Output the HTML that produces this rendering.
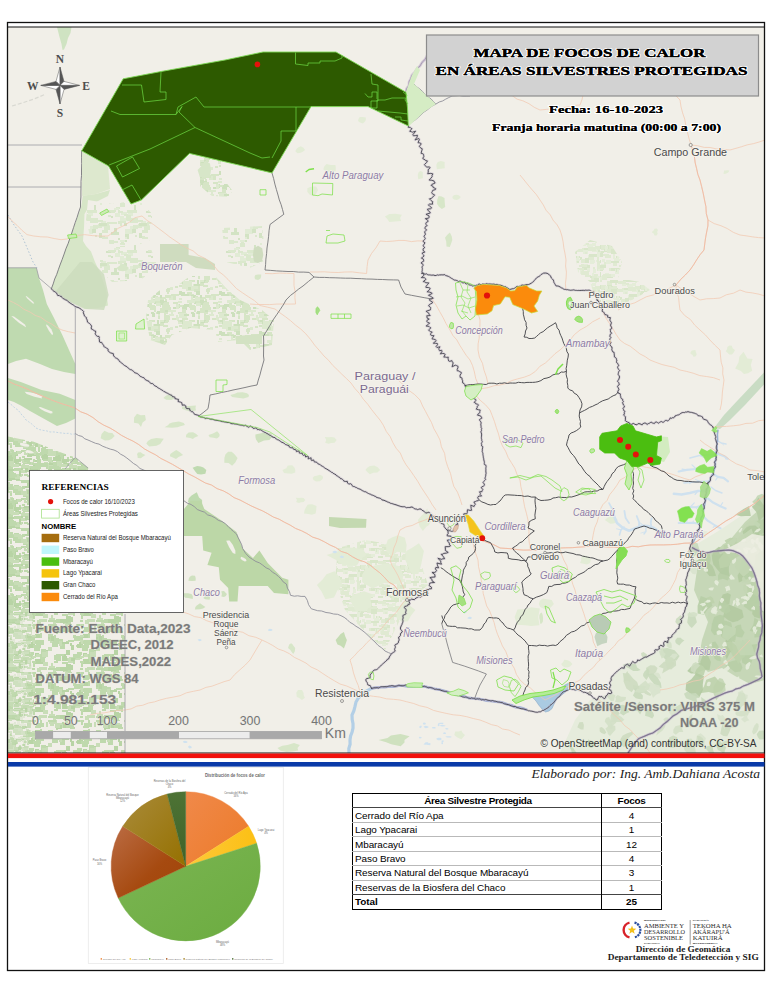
<!DOCTYPE html>
<html lang="es">
<head>
<meta charset="utf-8">
<title>Mapa de focos de calor en Áreas Silvestres Protegidas</title>
<style>
html,body{margin:0;padding:0;background:#fff;}
body{width:770px;height:996px;position:relative;overflow:hidden;font-family:"Liberation Sans",sans-serif;}
svg{position:absolute;left:0;top:0;display:block;}
svg text{font-family:"Liberation Sans",sans-serif;}
.ser{font-family:"Liberation Serif",serif !important;}
.halo{paint-order:stroke;stroke:#fff;stroke-width:2px;stroke-linejoin:round;}
#tbl{position:absolute;left:352px;top:793px;width:310px;border-collapse:collapse;font-size:9.95px;color:#000;border:1.6px solid #000;letter-spacing:-0.08px;}
#tbl td{height:13.45px;padding:0 0 0 2px;border-top:1px solid #b9b9b9;line-height:13px;white-space:nowrap;}
#tbl td.n{width:59px;text-align:center;padding:0;border-left:1px solid #000;}
#tbl tr.h td{font-weight:bold;text-align:center;border-top:none;letter-spacing:-0.3px;}
#tbl tr.f td{font-weight:bold;border-top:1px solid #444;}
#tbl tr.r1 td{border-top:1px solid #444;}
</style>
</head>
<body>
<svg id="map" width="770" height="996" viewBox="0 0 770 996">
<defs>
<clipPath id="mapclip"><rect x="8" y="27" width="756.5" height="726"/></clipPath>
</defs>
<!-- MAP BACKGROUND -->
<g clip-path="url(#mapclip)">
<rect x="7" y="26" width="758" height="728" fill="#f1efe8"/>
<!--LAND-->
<g>
<defs><pattern id="px1" width="48" height="48" patternUnits="userSpaceOnUse"><rect width="48" height="48" fill="#f1efe8"/><rect x="46" y="2" width="3" height="5" fill="#c8ddb7"/><rect x="46" y="26" width="2" height="4" fill="#b8d4a5"/><rect x="11" y="4" width="8" height="4" fill="#b8d4a5"/><rect x="25" y="36" width="2" height="4" fill="#bfd9ad"/><rect x="15" y="44" width="8" height="4" fill="#bfd9ad"/><rect x="18" y="-1" width="6" height="2" fill="#bfd9ad"/><rect x="-2" y="22" width="2" height="5" fill="#bfd9ad"/><rect x="31" y="12" width="5" height="2" fill="#b8d4a5"/><rect x="12" y="20" width="5" height="5" fill="#bfd9ad"/><rect x="46" y="27" width="8" height="2" fill="#c8ddb7"/><rect x="33" y="39" width="2" height="4" fill="#bfd9ad"/><rect x="5" y="45" width="3" height="3" fill="#c8ddb7"/><rect x="25" y="30" width="8" height="5" fill="#bfd9ad"/><rect x="35" y="29" width="4" height="3" fill="#b8d4a5"/><rect x="28" y="13" width="6" height="2" fill="#b8d4a5"/><rect x="21" y="33" width="5" height="2" fill="#c8ddb7"/><rect x="40" y="30" width="2" height="4" fill="#bfd9ad"/><rect x="23" y="21" width="3" height="5" fill="#b8d4a5"/><rect x="28" y="0" width="8" height="2" fill="#c8ddb7"/><rect x="35" y="35" width="8" height="5" fill="#b8d4a5"/><rect x="8" y="30" width="8" height="2" fill="#bfd9ad"/><rect x="32" y="33" width="2" height="2" fill="#bfd9ad"/><rect x="20" y="34" width="5" height="5" fill="#c8ddb7"/><rect x="40" y="33" width="5" height="3" fill="#bfd9ad"/><rect x="6" y="31" width="5" height="5" fill="#bfd9ad"/><rect x="28" y="21" width="5" height="2" fill="#bfd9ad"/><rect x="29" y="20" width="6" height="4" fill="#b8d4a5"/><rect x="32" y="32" width="4" height="2" fill="#c8ddb7"/><rect x="-1" y="12" width="5" height="5" fill="#bfd9ad"/><rect x="9" y="3" width="6" height="5" fill="#c8ddb7"/><rect x="3" y="-1" width="2" height="2" fill="#b8d4a5"/><rect x="13" y="15" width="2" height="3" fill="#bfd9ad"/><rect x="20" y="16" width="6" height="2" fill="#bfd9ad"/><rect x="14" y="31" width="3" height="2" fill="#bfd9ad"/><rect x="39" y="43" width="8" height="3" fill="#c8ddb7"/><rect x="29" y="28" width="5" height="3" fill="#bfd9ad"/><rect x="22" y="19" width="2" height="3" fill="#b8d4a5"/><rect x="4" y="14" width="3" height="3" fill="#bfd9ad"/><rect x="-1" y="12" width="6" height="4" fill="#bfd9ad"/><rect x="0" y="44" width="5" height="2" fill="#bfd9ad"/><rect x="41" y="25" width="5" height="5" fill="#bfd9ad"/><rect x="26" y="12" width="8" height="5" fill="#bfd9ad"/><rect x="18" y="40" width="5" height="5" fill="#b8d4a5"/><rect x="6" y="11" width="2" height="3" fill="#bfd9ad"/><rect x="2" y="17" width="4" height="2" fill="#c8ddb7"/><rect x="24" y="34" width="8" height="2" fill="#c8ddb7"/><rect x="33" y="0" width="3" height="2" fill="#bfd9ad"/><rect x="8" y="43" width="6" height="4" fill="#bfd9ad"/><rect x="20" y="4" width="5" height="2" fill="#bfd9ad"/><rect x="35" y="10" width="6" height="4" fill="#b8d4a5"/><rect x="16" y="30" width="2" height="4" fill="#b8d4a5"/><rect x="37" y="23" width="2" height="3" fill="#c8ddb7"/><rect x="10" y="18" width="2" height="2" fill="#bfd9ad"/><rect x="11" y="15" width="4" height="4" fill="#bfd9ad"/><rect x="20" y="41" width="5" height="5" fill="#b8d4a5"/><rect x="2" y="44" width="6" height="2" fill="#bfd9ad"/><rect x="8" y="8" width="2" height="2" fill="#bfd9ad"/><rect x="36" y="30" width="4" height="3" fill="#c8ddb7"/><rect x="19" y="5" width="4" height="3" fill="#c8ddb7"/><rect x="43" y="29" width="3" height="5" fill="#bfd9ad"/><rect x="4" y="18" width="6" height="5" fill="#bfd9ad"/><rect x="22" y="7" width="5" height="2" fill="#bfd9ad"/><rect x="37" y="35" width="4" height="2" fill="#b8d4a5"/><rect x="33" y="12" width="2" height="5" fill="#bfd9ad"/><rect x="16" y="34" width="4" height="3" fill="#bfd9ad"/><rect x="4" y="0" width="5" height="3" fill="#c8ddb7"/><rect x="40" y="-2" width="2" height="5" fill="#bfd9ad"/><rect x="0" y="10" width="5" height="2" fill="#bfd9ad"/><rect x="8" y="5" width="6" height="4" fill="#b8d4a5"/><rect x="8" y="45" width="3" height="2" fill="#bfd9ad"/><rect x="32" y="16" width="5" height="4" fill="#c8ddb7"/><rect x="18" y="4" width="8" height="4" fill="#bfd9ad"/><rect x="0" y="-1" width="8" height="3" fill="#bfd9ad"/><rect x="18" y="26" width="4" height="5" fill="#b8d4a5"/><rect x="2" y="2" width="4" height="4" fill="#c8ddb7"/><rect x="5" y="14" width="6" height="4" fill="#bfd9ad"/><rect x="42" y="28" width="6" height="5" fill="#c8ddb7"/><rect x="32" y="11" width="4" height="2" fill="#c8ddb7"/><rect x="21" y="3" width="3" height="2" fill="#c8ddb7"/><rect x="3" y="39" width="2" height="4" fill="#c8ddb7"/><rect x="17" y="0" width="3" height="4" fill="#c8ddb7"/><rect x="35" y="17" width="3" height="3" fill="#bfd9ad"/><rect x="32" y="37" width="4" height="2" fill="#bfd9ad"/><rect x="-1" y="13" width="3" height="2" fill="#b8d4a5"/><rect x="33" y="2" width="2" height="3" fill="#bfd9ad"/><rect x="16" y="46" width="2" height="2" fill="#c8ddb7"/><rect x="7" y="4" width="5" height="4" fill="#c8ddb7"/><rect x="40" y="9" width="2" height="5" fill="#bfd9ad"/><rect x="18" y="17" width="3" height="2" fill="#bfd9ad"/><rect x="36" y="16" width="8" height="5" fill="#bfd9ad"/><rect x="32" y="44" width="3" height="2" fill="#bfd9ad"/><rect x="41" y="33" width="4" height="5" fill="#bfd9ad"/><rect x="25" y="32" width="3" height="3" fill="#bfd9ad"/><rect x="14" y="2" width="2" height="2" fill="#b8d4a5"/><rect x="14" y="32" width="5" height="5" fill="#b8d4a5"/><rect x="-2" y="23" width="6" height="4" fill="#c8ddb7"/><rect x="29" y="-1" width="3" height="3" fill="#b8d4a5"/><rect x="1" y="42" width="6" height="2" fill="#c8ddb7"/><rect x="35" y="6" width="6" height="2" fill="#bfd9ad"/><rect x="23" y="34" width="4" height="3" fill="#b8d4a5"/><rect x="3" y="12" width="3" height="5" fill="#b8d4a5"/><rect x="31" y="18" width="2" height="2" fill="#b8d4a5"/><rect x="13" y="18" width="8" height="2" fill="#b8d4a5"/><rect x="12" y="43" width="8" height="4" fill="#b8d4a5"/><rect x="37" y="44" width="4" height="5" fill="#c8ddb7"/><rect x="1" y="2" width="8" height="2" fill="#c8ddb7"/><rect x="11" y="17" width="3" height="5" fill="#c8ddb7"/><rect x="33" y="21" width="8" height="3" fill="#bfd9ad"/><rect x="36" y="3" width="8" height="4" fill="#bfd9ad"/><rect x="34" y="22" width="6" height="5" fill="#bfd9ad"/><rect x="25" y="11" width="3" height="3" fill="#bfd9ad"/><rect x="43" y="38" width="5" height="4" fill="#c8ddb7"/><rect x="8" y="32" width="5" height="5" fill="#bfd9ad"/><rect x="14" y="38" width="6" height="2" fill="#bfd9ad"/><rect x="6" y="37" width="4" height="2" fill="#bfd9ad"/></pattern><pattern id="px2" width="48" height="48" patternUnits="userSpaceOnUse"><rect width="48" height="48" fill="#f1efe8"/><rect x="3" y="21" width="2" height="2" fill="#bfd9ad"/><rect x="14" y="36" width="8" height="3" fill="#bfd9ad"/><rect x="35" y="41" width="6" height="2" fill="#bfd9ad"/><rect x="44" y="30" width="5" height="4" fill="#c8ddb7"/><rect x="30" y="15" width="6" height="4" fill="#bfd9ad"/><rect x="27" y="18" width="2" height="3" fill="#b8d4a5"/><rect x="8" y="33" width="5" height="5" fill="#bfd9ad"/><rect x="-1" y="9" width="3" height="2" fill="#c8ddb7"/><rect x="30" y="30" width="3" height="2" fill="#c8ddb7"/><rect x="9" y="26" width="6" height="5" fill="#b8d4a5"/><rect x="46" y="21" width="8" height="5" fill="#c8ddb7"/><rect x="8" y="46" width="4" height="4" fill="#b8d4a5"/><rect x="39" y="31" width="8" height="4" fill="#bfd9ad"/><rect x="29" y="30" width="5" height="3" fill="#c8ddb7"/><rect x="27" y="20" width="8" height="4" fill="#b8d4a5"/><rect x="18" y="42" width="5" height="2" fill="#bfd9ad"/><rect x="28" y="17" width="6" height="3" fill="#c8ddb7"/><rect x="33" y="31" width="8" height="5" fill="#b8d4a5"/><rect x="29" y="30" width="4" height="2" fill="#c8ddb7"/><rect x="2" y="19" width="8" height="5" fill="#bfd9ad"/><rect x="1" y="34" width="3" height="2" fill="#bfd9ad"/><rect x="12" y="41" width="4" height="5" fill="#bfd9ad"/><rect x="15" y="13" width="6" height="2" fill="#bfd9ad"/><rect x="43" y="46" width="2" height="4" fill="#bfd9ad"/><rect x="21" y="9" width="2" height="3" fill="#bfd9ad"/><rect x="3" y="5" width="8" height="2" fill="#bfd9ad"/><rect x="44" y="-1" width="2" height="2" fill="#c8ddb7"/><rect x="8" y="45" width="4" height="2" fill="#bfd9ad"/><rect x="22" y="35" width="6" height="2" fill="#bfd9ad"/><rect x="0" y="-2" width="3" height="2" fill="#c8ddb7"/><rect x="16" y="19" width="6" height="2" fill="#b8d4a5"/><rect x="26" y="33" width="2" height="3" fill="#bfd9ad"/><rect x="37" y="43" width="4" height="4" fill="#bfd9ad"/><rect x="3" y="40" width="5" height="2" fill="#c8ddb7"/><rect x="26" y="6" width="2" height="2" fill="#b8d4a5"/><rect x="18" y="7" width="5" height="5" fill="#c8ddb7"/><rect x="36" y="24" width="4" height="3" fill="#bfd9ad"/><rect x="6" y="40" width="8" height="5" fill="#bfd9ad"/><rect x="6" y="8" width="4" height="2" fill="#bfd9ad"/><rect x="38" y="12" width="2" height="4" fill="#bfd9ad"/><rect x="43" y="26" width="3" height="2" fill="#bfd9ad"/><rect x="35" y="12" width="4" height="2" fill="#c8ddb7"/><rect x="15" y="31" width="4" height="4" fill="#bfd9ad"/><rect x="22" y="24" width="3" height="2" fill="#bfd9ad"/><rect x="44" y="3" width="2" height="5" fill="#bfd9ad"/><rect x="-1" y="9" width="2" height="2" fill="#bfd9ad"/><rect x="-1" y="31" width="2" height="2" fill="#b8d4a5"/><rect x="32" y="39" width="5" height="3" fill="#b8d4a5"/><rect x="44" y="25" width="3" height="2" fill="#b8d4a5"/><rect x="35" y="35" width="6" height="2" fill="#bfd9ad"/><rect x="35" y="9" width="5" height="5" fill="#bfd9ad"/><rect x="21" y="-1" width="8" height="4" fill="#bfd9ad"/><rect x="16" y="42" width="6" height="3" fill="#c8ddb7"/><rect x="41" y="24" width="4" height="2" fill="#bfd9ad"/><rect x="10" y="41" width="2" height="3" fill="#bfd9ad"/><rect x="24" y="38" width="5" height="2" fill="#b8d4a5"/><rect x="35" y="37" width="5" height="2" fill="#bfd9ad"/><rect x="-1" y="21" width="2" height="3" fill="#c8ddb7"/><rect x="12" y="46" width="8" height="2" fill="#b8d4a5"/><rect x="34" y="21" width="3" height="2" fill="#b8d4a5"/><rect x="6" y="46" width="8" height="4" fill="#c8ddb7"/><rect x="14" y="5" width="5" height="2" fill="#bfd9ad"/><rect x="19" y="39" width="2" height="5" fill="#b8d4a5"/><rect x="-1" y="37" width="3" height="2" fill="#b8d4a5"/><rect x="16" y="20" width="2" height="4" fill="#b8d4a5"/><rect x="15" y="28" width="3" height="3" fill="#b8d4a5"/><rect x="29" y="41" width="8" height="4" fill="#c8ddb7"/><rect x="8" y="29" width="5" height="2" fill="#c8ddb7"/><rect x="42" y="41" width="6" height="4" fill="#bfd9ad"/><rect x="4" y="2" width="6" height="5" fill="#c8ddb7"/><rect x="7" y="24" width="3" height="5" fill="#bfd9ad"/><rect x="6" y="16" width="2" height="2" fill="#b8d4a5"/><rect x="26" y="9" width="3" height="3" fill="#c8ddb7"/><rect x="32" y="46" width="2" height="2" fill="#b8d4a5"/><rect x="31" y="13" width="2" height="3" fill="#c8ddb7"/><rect x="27" y="43" width="3" height="2" fill="#bfd9ad"/><rect x="46" y="34" width="5" height="3" fill="#bfd9ad"/><rect x="44" y="-1" width="5" height="4" fill="#b8d4a5"/><rect x="23" y="30" width="8" height="2" fill="#bfd9ad"/><rect x="23" y="14" width="5" height="3" fill="#b8d4a5"/><rect x="21" y="33" width="8" height="4" fill="#c8ddb7"/><rect x="46" y="44" width="8" height="2" fill="#bfd9ad"/><rect x="10" y="23" width="6" height="5" fill="#b8d4a5"/><rect x="18" y="27" width="8" height="2" fill="#b8d4a5"/><rect x="4" y="-1" width="8" height="2" fill="#b8d4a5"/><rect x="36" y="22" width="3" height="5" fill="#bfd9ad"/><rect x="33" y="10" width="2" height="4" fill="#c8ddb7"/><rect x="35" y="10" width="8" height="5" fill="#b8d4a5"/><rect x="-2" y="37" width="6" height="2" fill="#b8d4a5"/><rect x="30" y="34" width="5" height="3" fill="#bfd9ad"/><rect x="46" y="2" width="5" height="2" fill="#c8ddb7"/><rect x="32" y="40" width="2" height="4" fill="#bfd9ad"/><rect x="41" y="19" width="6" height="4" fill="#b8d4a5"/><rect x="27" y="-1" width="4" height="5" fill="#bfd9ad"/><rect x="9" y="46" width="6" height="3" fill="#b8d4a5"/><rect x="1" y="8" width="4" height="2" fill="#b8d4a5"/><rect x="41" y="16" width="5" height="4" fill="#bfd9ad"/><rect x="33" y="27" width="2" height="3" fill="#bfd9ad"/><rect x="32" y="22" width="4" height="2" fill="#b8d4a5"/><rect x="29" y="39" width="3" height="3" fill="#bfd9ad"/><rect x="43" y="17" width="5" height="5" fill="#bfd9ad"/><rect x="17" y="19" width="4" height="3" fill="#c8ddb7"/><rect x="31" y="3" width="8" height="4" fill="#bfd9ad"/><rect x="31" y="7" width="5" height="5" fill="#bfd9ad"/><rect x="12" y="27" width="4" height="2" fill="#bfd9ad"/><rect x="1" y="5" width="6" height="3" fill="#bfd9ad"/><rect x="21" y="11" width="8" height="4" fill="#c8ddb7"/><rect x="19" y="27" width="4" height="2" fill="#c8ddb7"/><rect x="26" y="16" width="3" height="4" fill="#b8d4a5"/><rect x="38" y="11" width="3" height="4" fill="#c8ddb7"/><rect x="4" y="13" width="4" height="2" fill="#b8d4a5"/><rect x="9" y="20" width="3" height="3" fill="#bfd9ad"/><rect x="15" y="33" width="3" height="2" fill="#b8d4a5"/><rect x="15" y="44" width="5" height="3" fill="#c8ddb7"/><rect x="46" y="43" width="8" height="4" fill="#c8ddb7"/><rect x="38" y="40" width="6" height="5" fill="#bfd9ad"/><rect x="23" y="28" width="4" height="3" fill="#bfd9ad"/><rect x="26" y="28" width="4" height="3" fill="#bfd9ad"/><rect x="22" y="6" width="3" height="3" fill="#bfd9ad"/><rect x="8" y="20" width="2" height="3" fill="#bfd9ad"/><rect x="-2" y="32" width="8" height="4" fill="#c8ddb7"/><rect x="22" y="32" width="3" height="5" fill="#c8ddb7"/><rect x="21" y="18" width="5" height="2" fill="#bfd9ad"/><rect x="7" y="11" width="5" height="2" fill="#c8ddb7"/><rect x="24" y="21" width="4" height="2" fill="#c8ddb7"/><rect x="10" y="13" width="2" height="3" fill="#bfd9ad"/><rect x="0" y="19" width="8" height="5" fill="#c8ddb7"/><rect x="1" y="7" width="8" height="5" fill="#bfd9ad"/><rect x="26" y="15" width="2" height="4" fill="#bfd9ad"/><rect x="34" y="5" width="4" height="5" fill="#c8ddb7"/><rect x="23" y="12" width="8" height="5" fill="#bfd9ad"/><rect x="29" y="37" width="5" height="4" fill="#c8ddb7"/><rect x="36" y="3" width="6" height="5" fill="#b8d4a5"/><rect x="8" y="24" width="5" height="4" fill="#b8d4a5"/><rect x="0" y="4" width="6" height="4" fill="#b8d4a5"/><rect x="5" y="41" width="6" height="2" fill="#bfd9ad"/><rect x="17" y="27" width="2" height="4" fill="#bfd9ad"/><rect x="40" y="20" width="4" height="2" fill="#bfd9ad"/><rect x="7" y="25" width="3" height="2" fill="#bfd9ad"/><rect x="1" y="28" width="4" height="4" fill="#bfd9ad"/><rect x="6" y="33" width="2" height="4" fill="#bfd9ad"/><rect x="32" y="1" width="3" height="5" fill="#bfd9ad"/><rect x="-2" y="31" width="3" height="5" fill="#c8ddb7"/><rect x="13" y="6" width="8" height="5" fill="#c8ddb7"/><rect x="6" y="32" width="5" height="2" fill="#bfd9ad"/><rect x="27" y="11" width="3" height="2" fill="#bfd9ad"/><rect x="38" y="22" width="6" height="2" fill="#c8ddb7"/><rect x="43" y="31" width="6" height="4" fill="#bfd9ad"/><rect x="7" y="38" width="6" height="2" fill="#bfd9ad"/><rect x="10" y="17" width="3" height="4" fill="#c8ddb7"/><rect x="25" y="6" width="5" height="2" fill="#b8d4a5"/><rect x="4" y="33" width="4" height="3" fill="#bfd9ad"/><rect x="16" y="31" width="5" height="3" fill="#b8d4a5"/><rect x="24" y="42" width="4" height="2" fill="#bfd9ad"/><rect x="40" y="4" width="8" height="5" fill="#bfd9ad"/><rect x="46" y="10" width="6" height="5" fill="#bfd9ad"/><rect x="35" y="0" width="3" height="4" fill="#bfd9ad"/><rect x="45" y="14" width="8" height="2" fill="#b8d4a5"/><rect x="45" y="12" width="6" height="2" fill="#bfd9ad"/><rect x="0" y="42" width="6" height="3" fill="#bfd9ad"/><rect x="38" y="42" width="2" height="2" fill="#bfd9ad"/><rect x="38" y="16" width="2" height="4" fill="#bfd9ad"/><rect x="42" y="15" width="3" height="3" fill="#bfd9ad"/><rect x="40" y="44" width="5" height="4" fill="#bfd9ad"/><rect x="40" y="5" width="5" height="3" fill="#c8ddb7"/><rect x="24" y="19" width="2" height="2" fill="#c8ddb7"/><rect x="35" y="31" width="6" height="4" fill="#bfd9ad"/><rect x="42" y="8" width="5" height="2" fill="#b8d4a5"/><rect x="22" y="28" width="5" height="3" fill="#c8ddb7"/><rect x="35" y="28" width="6" height="2" fill="#b8d4a5"/><rect x="34" y="19" width="3" height="4" fill="#c8ddb7"/><rect x="21" y="36" width="2" height="2" fill="#b8d4a5"/><rect x="39" y="40" width="3" height="5" fill="#bfd9ad"/><rect x="11" y="32" width="8" height="3" fill="#c8ddb7"/><rect x="-1" y="10" width="2" height="2" fill="#c8ddb7"/><rect x="32" y="14" width="2" height="3" fill="#c8ddb7"/><rect x="24" y="28" width="5" height="2" fill="#bfd9ad"/><rect x="34" y="6" width="4" height="5" fill="#bfd9ad"/><rect x="36" y="22" width="3" height="2" fill="#bfd9ad"/><rect x="26" y="15" width="8" height="5" fill="#bfd9ad"/><rect x="13" y="7" width="5" height="4" fill="#c8ddb7"/><rect x="37" y="43" width="3" height="2" fill="#c8ddb7"/><rect x="42" y="23" width="6" height="5" fill="#b8d4a5"/><rect x="33" y="1" width="3" height="2" fill="#c8ddb7"/><rect x="6" y="37" width="8" height="2" fill="#b8d4a5"/><rect x="27" y="23" width="5" height="2" fill="#b8d4a5"/><rect x="16" y="11" width="5" height="4" fill="#bfd9ad"/><rect x="32" y="31" width="3" height="2" fill="#bfd9ad"/><rect x="41" y="-2" width="6" height="5" fill="#bfd9ad"/><rect x="23" y="12" width="5" height="4" fill="#c8ddb7"/><rect x="30" y="21" width="2" height="3" fill="#b8d4a5"/><rect x="43" y="27" width="6" height="2" fill="#bfd9ad"/><rect x="-1" y="28" width="4" height="2" fill="#bfd9ad"/><rect x="11" y="18" width="3" height="2" fill="#bfd9ad"/><rect x="37" y="7" width="6" height="2" fill="#c8ddb7"/><rect x="32" y="3" width="2" height="5" fill="#bfd9ad"/><rect x="0" y="17" width="5" height="2" fill="#c8ddb7"/><rect x="33" y="20" width="5" height="2" fill="#c8ddb7"/><rect x="36" y="21" width="8" height="2" fill="#bfd9ad"/><rect x="21" y="38" width="6" height="3" fill="#c8ddb7"/><rect x="30" y="36" width="5" height="3" fill="#bfd9ad"/><rect x="19" y="25" width="2" height="2" fill="#bfd9ad"/><rect x="43" y="1" width="4" height="5" fill="#bfd9ad"/><rect x="30" y="37" width="8" height="5" fill="#b8d4a5"/><rect x="13" y="9" width="5" height="4" fill="#bfd9ad"/><rect x="-1" y="35" width="6" height="2" fill="#c8ddb7"/><rect x="16" y="-1" width="8" height="2" fill="#bfd9ad"/><rect x="12" y="23" width="3" height="5" fill="#bfd9ad"/><rect x="36" y="2" width="4" height="2" fill="#bfd9ad"/><rect x="10" y="4" width="3" height="5" fill="#bfd9ad"/><rect x="3" y="30" width="8" height="4" fill="#c8ddb7"/><rect x="1" y="31" width="6" height="2" fill="#b8d4a5"/><rect x="7" y="25" width="5" height="2" fill="#bfd9ad"/><rect x="1" y="34" width="5" height="3" fill="#bfd9ad"/><rect x="25" y="36" width="6" height="4" fill="#b8d4a5"/><rect x="36" y="6" width="3" height="4" fill="#c8ddb7"/><rect x="14" y="43" width="3" height="2" fill="#bfd9ad"/><rect x="34" y="38" width="3" height="4" fill="#c8ddb7"/><rect x="27" y="10" width="5" height="4" fill="#b8d4a5"/><rect x="12" y="20" width="5" height="3" fill="#bfd9ad"/><rect x="-1" y="25" width="5" height="5" fill="#c8ddb7"/><rect x="28" y="34" width="2" height="5" fill="#c8ddb7"/><rect x="13" y="27" width="8" height="3" fill="#b8d4a5"/><rect x="37" y="27" width="4" height="5" fill="#bfd9ad"/><rect x="8" y="27" width="6" height="5" fill="#c8ddb7"/><rect x="5" y="30" width="4" height="4" fill="#bfd9ad"/><rect x="5" y="25" width="8" height="4" fill="#b8d4a5"/><rect x="27" y="3" width="6" height="5" fill="#b8d4a5"/><rect x="43" y="42" width="5" height="5" fill="#c8ddb7"/><rect x="8" y="7" width="6" height="3" fill="#bfd9ad"/><rect x="24" y="26" width="8" height="2" fill="#b8d4a5"/></pattern><pattern id="px3" width="40" height="40" patternUnits="userSpaceOnUse"><rect width="40" height="40" fill="#f1efe8"/><rect x="32" y="6" width="3" height="5" fill="#dde9cf"/><rect x="38" y="35" width="6" height="4" fill="#d6e5c6"/><rect x="28" y="14" width="6" height="2" fill="#d6e5c6"/><rect x="32" y="33" width="3" height="4" fill="#cde0bd"/><rect x="12" y="38" width="5" height="2" fill="#d6e5c6"/><rect x="-2" y="2" width="6" height="4" fill="#d6e5c6"/><rect x="17" y="-1" width="6" height="2" fill="#dde9cf"/><rect x="22" y="25" width="5" height="5" fill="#cde0bd"/><rect x="26" y="6" width="8" height="5" fill="#dde9cf"/><rect x="6" y="29" width="2" height="2" fill="#d6e5c6"/><rect x="38" y="17" width="4" height="4" fill="#cde0bd"/><rect x="34" y="20" width="6" height="4" fill="#cde0bd"/><rect x="19" y="-1" width="6" height="2" fill="#dde9cf"/><rect x="18" y="32" width="6" height="2" fill="#d6e5c6"/><rect x="38" y="34" width="8" height="2" fill="#dde9cf"/><rect x="2" y="28" width="4" height="2" fill="#cde0bd"/><rect x="2" y="24" width="2" height="3" fill="#d6e5c6"/><rect x="25" y="24" width="2" height="3" fill="#d6e5c6"/><rect x="37" y="0" width="2" height="5" fill="#cde0bd"/><rect x="19" y="33" width="8" height="5" fill="#dde9cf"/><rect x="0" y="17" width="6" height="2" fill="#d6e5c6"/><rect x="36" y="32" width="2" height="2" fill="#d6e5c6"/><rect x="16" y="37" width="3" height="4" fill="#dde9cf"/><rect x="19" y="18" width="3" height="2" fill="#dde9cf"/><rect x="22" y="27" width="3" height="4" fill="#cde0bd"/><rect x="33" y="4" width="8" height="5" fill="#dde9cf"/><rect x="17" y="25" width="5" height="2" fill="#dde9cf"/><rect x="33" y="19" width="6" height="3" fill="#d6e5c6"/><rect x="18" y="-1" width="5" height="5" fill="#cde0bd"/><rect x="38" y="6" width="6" height="5" fill="#d6e5c6"/><rect x="27" y="20" width="8" height="3" fill="#dde9cf"/><rect x="29" y="-1" width="6" height="3" fill="#d6e5c6"/><rect x="21" y="14" width="8" height="2" fill="#cde0bd"/><rect x="36" y="18" width="4" height="5" fill="#d6e5c6"/><rect x="18" y="21" width="4" height="2" fill="#dde9cf"/><rect x="4" y="-1" width="4" height="4" fill="#d6e5c6"/><rect x="12" y="15" width="4" height="5" fill="#d6e5c6"/><rect x="25" y="4" width="4" height="2" fill="#d6e5c6"/><rect x="19" y="12" width="6" height="3" fill="#cde0bd"/><rect x="19" y="11" width="3" height="2" fill="#cde0bd"/><rect x="5" y="0" width="4" height="2" fill="#d6e5c6"/><rect x="9" y="15" width="4" height="5" fill="#dde9cf"/><rect x="37" y="20" width="8" height="2" fill="#d6e5c6"/><rect x="31" y="15" width="5" height="3" fill="#cde0bd"/><rect x="16" y="24" width="4" height="4" fill="#cde0bd"/><rect x="7" y="10" width="2" height="4" fill="#d6e5c6"/><rect x="30" y="25" width="5" height="5" fill="#d6e5c6"/><rect x="31" y="16" width="2" height="4" fill="#dde9cf"/><rect x="35" y="16" width="3" height="2" fill="#d6e5c6"/><rect x="0" y="30" width="3" height="2" fill="#d6e5c6"/><rect x="1" y="-2" width="5" height="5" fill="#cde0bd"/><rect x="8" y="30" width="8" height="2" fill="#dde9cf"/><rect x="31" y="32" width="3" height="2" fill="#cde0bd"/><rect x="5" y="19" width="2" height="5" fill="#d6e5c6"/><rect x="28" y="1" width="4" height="5" fill="#dde9cf"/><rect x="5" y="32" width="3" height="2" fill="#d6e5c6"/><rect x="15" y="6" width="3" height="2" fill="#d6e5c6"/><rect x="23" y="1" width="5" height="5" fill="#dde9cf"/><rect x="37" y="31" width="3" height="3" fill="#cde0bd"/><rect x="18" y="-2" width="2" height="4" fill="#d6e5c6"/><rect x="5" y="1" width="3" height="2" fill="#d6e5c6"/><rect x="3" y="30" width="5" height="2" fill="#cde0bd"/><rect x="18" y="2" width="4" height="2" fill="#dde9cf"/><rect x="35" y="17" width="5" height="4" fill="#dde9cf"/><rect x="19" y="25" width="4" height="2" fill="#d6e5c6"/><rect x="-2" y="22" width="3" height="5" fill="#d6e5c6"/><rect x="0" y="21" width="6" height="2" fill="#cde0bd"/><rect x="22" y="38" width="6" height="5" fill="#d6e5c6"/><rect x="1" y="21" width="6" height="4" fill="#cde0bd"/><rect x="24" y="24" width="8" height="3" fill="#cde0bd"/><rect x="11" y="32" width="2" height="2" fill="#dde9cf"/><rect x="2" y="25" width="8" height="5" fill="#d6e5c6"/><rect x="-1" y="18" width="5" height="2" fill="#dde9cf"/><rect x="5" y="27" width="6" height="3" fill="#d6e5c6"/><rect x="22" y="4" width="8" height="5" fill="#dde9cf"/><rect x="4" y="35" width="6" height="5" fill="#d6e5c6"/><rect x="13" y="22" width="5" height="2" fill="#d6e5c6"/><rect x="34" y="4" width="6" height="2" fill="#cde0bd"/><rect x="19" y="5" width="3" height="2" fill="#d6e5c6"/><rect x="16" y="35" width="2" height="4" fill="#dde9cf"/><rect x="34" y="30" width="2" height="2" fill="#d6e5c6"/><rect x="4" y="33" width="2" height="5" fill="#d6e5c6"/><rect x="34" y="9" width="6" height="3" fill="#d6e5c6"/><rect x="13" y="27" width="3" height="2" fill="#cde0bd"/><rect x="36" y="23" width="4" height="3" fill="#dde9cf"/><rect x="3" y="22" width="6" height="4" fill="#d6e5c6"/><rect x="24" y="34" width="5" height="2" fill="#cde0bd"/><rect x="7" y="8" width="3" height="4" fill="#d6e5c6"/><rect x="31" y="26" width="5" height="4" fill="#d6e5c6"/><rect x="10" y="7" width="3" height="3" fill="#dde9cf"/><rect x="16" y="24" width="3" height="5" fill="#dde9cf"/><rect x="-1" y="15" width="3" height="3" fill="#cde0bd"/><rect x="9" y="34" width="5" height="2" fill="#dde9cf"/><rect x="28" y="7" width="3" height="3" fill="#cde0bd"/><rect x="36" y="11" width="8" height="4" fill="#cde0bd"/><rect x="-1" y="28" width="6" height="5" fill="#d6e5c6"/><rect x="27" y="12" width="5" height="2" fill="#d6e5c6"/><rect x="11" y="14" width="8" height="2" fill="#d6e5c6"/><rect x="6" y="9" width="3" height="3" fill="#d6e5c6"/><rect x="0" y="18" width="4" height="2" fill="#d6e5c6"/><rect x="3" y="5" width="5" height="2" fill="#d6e5c6"/><rect x="0" y="20" width="4" height="3" fill="#cde0bd"/><rect x="-2" y="-1" width="6" height="3" fill="#dde9cf"/><rect x="22" y="29" width="4" height="4" fill="#d6e5c6"/><rect x="29" y="23" width="3" height="5" fill="#d6e5c6"/><rect x="5" y="15" width="6" height="3" fill="#d6e5c6"/></pattern><pattern id="px4" width="40" height="40" patternUnits="userSpaceOnUse"><rect width="40" height="40" fill="#f1efe8"/><rect x="4" y="23" width="3" height="3" fill="#d3e3c4"/><rect x="2" y="-1" width="3" height="2" fill="#d3e3c4"/><rect x="1" y="12" width="6" height="3" fill="#e1ebd5"/><rect x="4" y="14" width="4" height="2" fill="#dbe8cd"/><rect x="15" y="10" width="2" height="3" fill="#dbe8cd"/><rect x="38" y="21" width="4" height="3" fill="#dbe8cd"/><rect x="22" y="30" width="6" height="3" fill="#dbe8cd"/><rect x="28" y="15" width="3" height="2" fill="#dbe8cd"/><rect x="-2" y="16" width="6" height="3" fill="#e1ebd5"/><rect x="24" y="25" width="6" height="2" fill="#e1ebd5"/><rect x="8" y="12" width="5" height="4" fill="#e1ebd5"/><rect x="3" y="0" width="4" height="2" fill="#d3e3c4"/><rect x="31" y="32" width="8" height="3" fill="#d3e3c4"/><rect x="7" y="10" width="8" height="3" fill="#dbe8cd"/><rect x="38" y="38" width="5" height="2" fill="#d3e3c4"/><rect x="20" y="25" width="4" height="2" fill="#e1ebd5"/><rect x="10" y="18" width="8" height="5" fill="#dbe8cd"/><rect x="15" y="35" width="2" height="2" fill="#dbe8cd"/><rect x="9" y="16" width="2" height="3" fill="#d3e3c4"/><rect x="20" y="3" width="2" height="2" fill="#e1ebd5"/><rect x="-1" y="18" width="8" height="3" fill="#e1ebd5"/><rect x="24" y="37" width="4" height="2" fill="#dbe8cd"/><rect x="10" y="26" width="4" height="5" fill="#e1ebd5"/><rect x="22" y="36" width="3" height="3" fill="#dbe8cd"/><rect x="-2" y="21" width="4" height="5" fill="#dbe8cd"/><rect x="21" y="21" width="5" height="2" fill="#e1ebd5"/><rect x="26" y="11" width="6" height="2" fill="#d3e3c4"/><rect x="1" y="1" width="3" height="2" fill="#dbe8cd"/><rect x="36" y="7" width="8" height="2" fill="#dbe8cd"/><rect x="35" y="13" width="6" height="4" fill="#e1ebd5"/><rect x="31" y="16" width="2" height="2" fill="#d3e3c4"/><rect x="28" y="10" width="8" height="2" fill="#dbe8cd"/><rect x="29" y="0" width="5" height="4" fill="#dbe8cd"/><rect x="13" y="25" width="5" height="4" fill="#dbe8cd"/><rect x="0" y="0" width="5" height="2" fill="#e1ebd5"/><rect x="31" y="11" width="4" height="2" fill="#dbe8cd"/><rect x="7" y="18" width="5" height="3" fill="#dbe8cd"/><rect x="5" y="34" width="4" height="5" fill="#d3e3c4"/><rect x="29" y="22" width="8" height="2" fill="#dbe8cd"/><rect x="34" y="8" width="5" height="2" fill="#e1ebd5"/><rect x="18" y="24" width="4" height="4" fill="#dbe8cd"/><rect x="19" y="23" width="8" height="3" fill="#d3e3c4"/><rect x="38" y="10" width="2" height="3" fill="#dbe8cd"/><rect x="6" y="15" width="5" height="5" fill="#dbe8cd"/><rect x="34" y="28" width="3" height="4" fill="#d3e3c4"/><rect x="-2" y="11" width="5" height="2" fill="#dbe8cd"/><rect x="14" y="5" width="2" height="5" fill="#d3e3c4"/><rect x="33" y="1" width="5" height="2" fill="#dbe8cd"/><rect x="19" y="33" width="3" height="5" fill="#d3e3c4"/><rect x="-1" y="3" width="6" height="4" fill="#dbe8cd"/><rect x="5" y="29" width="8" height="5" fill="#e1ebd5"/><rect x="0" y="21" width="6" height="2" fill="#dbe8cd"/><rect x="17" y="20" width="6" height="2" fill="#dbe8cd"/><rect x="27" y="22" width="2" height="5" fill="#dbe8cd"/><rect x="12" y="29" width="4" height="4" fill="#d3e3c4"/><rect x="5" y="37" width="2" height="2" fill="#e1ebd5"/><rect x="24" y="26" width="6" height="4" fill="#dbe8cd"/></pattern><pattern id="px5" width="40" height="40" patternUnits="userSpaceOnUse"><rect width="40" height="40" fill="#f1efe8"/><rect x="20" y="31" width="6" height="3" fill="#e0ead2"/><rect x="1" y="8" width="5" height="2" fill="#e0ead2"/><rect x="13" y="22" width="4" height="4" fill="#e0ead2"/><rect x="-2" y="11" width="6" height="2" fill="#d9e6ca"/><rect x="22" y="8" width="4" height="2" fill="#e0ead2"/><rect x="37" y="26" width="3" height="5" fill="#e0ead2"/><rect x="-2" y="11" width="3" height="2" fill="#e0ead2"/><rect x="16" y="18" width="3" height="2" fill="#e0ead2"/><rect x="9" y="10" width="6" height="2" fill="#d9e6ca"/><rect x="21" y="24" width="4" height="2" fill="#e0ead2"/><rect x="2" y="19" width="3" height="3" fill="#e5edd9"/><rect x="-2" y="36" width="6" height="5" fill="#e5edd9"/><rect x="20" y="17" width="2" height="3" fill="#d9e6ca"/><rect x="9" y="28" width="8" height="3" fill="#d9e6ca"/><rect x="1" y="14" width="8" height="2" fill="#e0ead2"/><rect x="23" y="-1" width="8" height="3" fill="#d9e6ca"/><rect x="35" y="-2" width="4" height="4" fill="#d9e6ca"/><rect x="37" y="10" width="2" height="2" fill="#e0ead2"/><rect x="20" y="30" width="3" height="4" fill="#e5edd9"/><rect x="27" y="4" width="6" height="3" fill="#e5edd9"/><rect x="25" y="3" width="4" height="2" fill="#e0ead2"/><rect x="37" y="21" width="4" height="5" fill="#e0ead2"/><rect x="32" y="3" width="4" height="3" fill="#e5edd9"/><rect x="17" y="9" width="8" height="3" fill="#e0ead2"/><rect x="17" y="28" width="8" height="2" fill="#e0ead2"/><rect x="3" y="36" width="8" height="2" fill="#d9e6ca"/><rect x="36" y="20" width="2" height="2" fill="#e5edd9"/><rect x="7" y="1" width="5" height="4" fill="#e0ead2"/><rect x="11" y="6" width="5" height="3" fill="#e0ead2"/><rect x="4" y="8" width="8" height="4" fill="#d9e6ca"/><rect x="1" y="24" width="4" height="2" fill="#e5edd9"/><rect x="37" y="8" width="3" height="4" fill="#d9e6ca"/><rect x="28" y="15" width="5" height="3" fill="#e5edd9"/><rect x="7" y="5" width="5" height="4" fill="#d9e6ca"/><rect x="38" y="29" width="6" height="2" fill="#e5edd9"/><rect x="29" y="15" width="3" height="2" fill="#e5edd9"/><rect x="35" y="0" width="2" height="3" fill="#e5edd9"/><rect x="15" y="29" width="4" height="5" fill="#e5edd9"/><rect x="19" y="9" width="8" height="3" fill="#e0ead2"/><rect x="14" y="18" width="5" height="5" fill="#e5edd9"/><rect x="30" y="20" width="5" height="3" fill="#e5edd9"/><rect x="24" y="20" width="4" height="3" fill="#e0ead2"/><rect x="21" y="19" width="8" height="4" fill="#e0ead2"/><rect x="10" y="21" width="6" height="2" fill="#d9e6ca"/><rect x="24" y="8" width="4" height="2" fill="#d9e6ca"/><rect x="33" y="38" width="4" height="5" fill="#e5edd9"/><rect x="10" y="8" width="8" height="2" fill="#d9e6ca"/><rect x="12" y="9" width="6" height="2" fill="#e0ead2"/><rect x="8" y="1" width="5" height="2" fill="#e0ead2"/><rect x="9" y="28" width="2" height="3" fill="#e0ead2"/><rect x="24" y="27" width="6" height="2" fill="#e5edd9"/><rect x="2" y="35" width="5" height="5" fill="#e0ead2"/><rect x="-2" y="20" width="3" height="3" fill="#d9e6ca"/><rect x="5" y="33" width="4" height="4" fill="#e5edd9"/><rect x="37" y="17" width="2" height="5" fill="#e0ead2"/><rect x="30" y="19" width="4" height="5" fill="#e5edd9"/><rect x="24" y="24" width="4" height="2" fill="#e5edd9"/><rect x="8" y="36" width="5" height="2" fill="#d9e6ca"/><rect x="10" y="6" width="6" height="4" fill="#e0ead2"/><rect x="22" y="4" width="4" height="2" fill="#e5edd9"/><rect x="32" y="7" width="6" height="5" fill="#e5edd9"/><rect x="22" y="25" width="8" height="5" fill="#d9e6ca"/><rect x="16" y="28" width="3" height="4" fill="#d9e6ca"/><rect x="36" y="36" width="5" height="2" fill="#e5edd9"/><rect x="29" y="14" width="8" height="3" fill="#d9e6ca"/><rect x="17" y="29" width="2" height="3" fill="#e5edd9"/><rect x="-1" y="5" width="3" height="4" fill="#d9e6ca"/><rect x="0" y="6" width="3" height="3" fill="#d9e6ca"/><rect x="32" y="33" width="2" height="4" fill="#e5edd9"/><rect x="0" y="13" width="3" height="4" fill="#d9e6ca"/><rect x="16" y="16" width="4" height="2" fill="#d9e6ca"/><rect x="31" y="36" width="6" height="4" fill="#e0ead2"/><rect x="17" y="16" width="2" height="2" fill="#e5edd9"/><rect x="31" y="-1" width="6" height="3" fill="#d9e6ca"/><rect x="35" y="6" width="4" height="3" fill="#e0ead2"/><rect x="33" y="27" width="2" height="3" fill="#e0ead2"/><rect x="10" y="-2" width="8" height="5" fill="#d9e6ca"/><rect x="34" y="38" width="5" height="5" fill="#d9e6ca"/><rect x="23" y="10" width="5" height="4" fill="#e5edd9"/><rect x="17" y="-2" width="5" height="2" fill="#d9e6ca"/><rect x="28" y="17" width="6" height="3" fill="#e0ead2"/><rect x="33" y="29" width="3" height="4" fill="#e5edd9"/><rect x="25" y="35" width="6" height="2" fill="#e0ead2"/><rect x="15" y="3" width="2" height="2" fill="#e0ead2"/><rect x="19" y="25" width="8" height="2" fill="#e0ead2"/><rect x="1" y="5" width="5" height="4" fill="#e0ead2"/><rect x="5" y="6" width="3" height="5" fill="#e5edd9"/><rect x="7" y="9" width="8" height="4" fill="#e0ead2"/><rect x="2" y="37" width="5" height="2" fill="#e0ead2"/><rect x="4" y="22" width="2" height="5" fill="#e0ead2"/><rect x="34" y="34" width="4" height="2" fill="#e0ead2"/><rect x="37" y="6" width="8" height="4" fill="#e0ead2"/><rect x="18" y="36" width="5" height="2" fill="#d9e6ca"/><rect x="21" y="1" width="5" height="3" fill="#e0ead2"/><rect x="7" y="34" width="8" height="3" fill="#e5edd9"/><rect x="37" y="12" width="6" height="5" fill="#e5edd9"/><rect x="13" y="14" width="2" height="5" fill="#e5edd9"/><rect x="13" y="21" width="6" height="2" fill="#d9e6ca"/><rect x="9" y="6" width="8" height="4" fill="#e0ead2"/><rect x="3" y="34" width="8" height="3" fill="#e0ead2"/><rect x="30" y="36" width="2" height="2" fill="#d9e6ca"/><rect x="27" y="28" width="3" height="4" fill="#e5edd9"/><rect x="-1" y="32" width="2" height="5" fill="#d9e6ca"/><rect x="25" y="12" width="2" height="2" fill="#e0ead2"/><rect x="11" y="6" width="2" height="4" fill="#d9e6ca"/><rect x="16" y="19" width="4" height="2" fill="#e5edd9"/><rect x="6" y="20" width="5" height="4" fill="#e5edd9"/><rect x="21" y="31" width="8" height="4" fill="#e0ead2"/><rect x="11" y="9" width="6" height="5" fill="#d9e6ca"/><rect x="0" y="0" width="2" height="2" fill="#e0ead2"/><rect x="0" y="29" width="3" height="2" fill="#d9e6ca"/><rect x="-2" y="25" width="8" height="3" fill="#d9e6ca"/><rect x="25" y="18" width="4" height="5" fill="#d9e6ca"/><rect x="10" y="7" width="5" height="2" fill="#e0ead2"/><rect x="22" y="28" width="2" height="3" fill="#e0ead2"/><rect x="5" y="15" width="6" height="3" fill="#e0ead2"/><rect x="0" y="28" width="4" height="2" fill="#e0ead2"/><rect x="18" y="1" width="4" height="3" fill="#e0ead2"/><rect x="28" y="7" width="8" height="4" fill="#e0ead2"/></pattern></defs>
<path d="M57.0,27.0 L71.5,27.0 L70.5,33.0 L68.0,38.0 L66.5,44.0 L64.0,49.5 L62.5,50.0 L61.5,44.0 L59.5,37.0 L58.0,31.0 Z" fill="#cfe3c2"/>
<path d="M12,106 L22,103 L34,99 L46,94" fill="none" stroke="#d9d9d2" stroke-width="1.2" stroke-dasharray="4 2"/>
<path d="M8.0,267.8 L36.4,267.8 L39.0,278.0 L43.0,290.0 L46.8,304.0 L54.0,318.0 L62.3,335.0 L69.0,350.0 L75.3,364.0 L75.3,374.0 L64.0,372.0 L52.0,369.0 L40.0,364.0 L26.0,358.7 L16.0,361.0 L8.0,364.0 Z" fill="#bfdab0"/>
<path d="M8.0,378.0 L20.8,382.0 L41.6,390.0 L59.7,393.8 L75.3,400.0 L75.3,418.4 L66.0,423.0 L57.0,426.0 L48.0,421.0 L39.0,416.0 L30.0,411.0 L20.8,405.5 L14.0,402.0 L8.0,400.0 Z" fill="#bfdab0"/>
<path d="M8.0,436.6 L20.0,439.0 L33.8,441.8 L47.0,447.0 L59.7,452.0 L75.3,457.4 L88.3,467.8 L88.0,471.0 L29.0,471.0 L29.0,613.0 L8.0,613.0 Z" fill="url(#px2)"/>
<path d="M8.0,613.0 L125.0,613.0 L125.0,753.0 L8.0,753.0 Z" fill="url(#px1)"/>
<path d="M8.0,613.0 L34.0,613.0 L30.0,650.0 L34.0,700.0 L28.0,753.0 L8.0,753.0 Z" fill="url(#px2)" opacity="0.7"/>
<path d="M25.7,325.9 L25.9,327.3 L19.2,323.1 L15.1,319.5 L11.3,316.1 L14.0,316.6 L20.6,321.2 L24.5,324.2 Z" fill="#f1efe8"/>
<path d="M52.9,334.5 L52.1,335.1 L48.9,330.7 L46.2,325.8 L46.4,324.3 L48.2,325.8 L51.3,329.2 L53.0,333.2 Z" fill="#f1efe8"/>
<path d="M34.2,303.5 L32.9,303.5 L29.5,300.5 L27.1,298.3 L25.6,296.3 L26.8,296.2 L30.5,299.4 L33.4,302.0 Z" fill="#f1efe8"/>
<path d="M41.7,397.1 L41.9,398.5 L34.4,396.8 L26.7,393.9 L24.6,391.8 L29.7,392.3 L35.4,393.6 L43.0,396.1 Z" fill="#f1efe8"/>
<path d="M52.5,413.2 L50.4,413.6 L44.5,411.2 L40.6,409.0 L38.6,407.3 L40.5,407.0 L45.5,408.9 L52.3,411.6 Z" fill="#f1efe8"/>
<path d="M29.3,445.9 L28.7,446.8 L24.7,446.4 L20.4,445.2 L19.9,444.0 L20.4,442.8 L25.3,443.5 L29.1,444.8 Z" fill="#f1efe8"/>
<path d="M33.6,453.1 L32.2,453.5 L29.5,453.5 L25.3,452.0 L25.9,450.7 L27.2,450.1 L30.5,450.4 L33.5,452.0 Z" fill="#f1efe8"/>
<path d="M114.7,436.0 L111.9,438.7 L108.9,440.3 L104.9,440.5 L100.6,438.2 L101.6,434.0 L104.4,430.8 L108.7,432.7 L112.3,433.0 Z" fill="#d7e6c8"/>
<path d="M145.9,420.0 L142.6,422.6 L141.0,426.9 L138.4,423.4 L133.9,422.7 L134.1,417.4 L137.0,413.8 L140.7,415.2 L145.0,415.0 Z" fill="#d7e6c8"/>
<path d="M161.5,442.0 L160.2,444.0 L156.5,445.7 L149.2,446.5 L146.3,443.4 L147.9,440.9 L151.2,439.1 L156.5,438.1 L163.8,438.7 Z" fill="#d7e6c8"/>
<path d="M183.1,455.0 L178.5,456.9 L176.0,459.0 L172.9,457.4 L169.9,456.2 L170.3,453.9 L172.7,452.3 L176.3,449.9 L179.9,452.2 Z" fill="#d7e6c8"/>
<path d="M198.3,436.0 L194.7,437.4 L192.9,439.1 L190.2,437.9 L185.9,437.3 L186.2,434.7 L188.6,432.5 L193.1,432.3 L196.2,433.9 Z" fill="#d7e6c8"/>
<path d="M145.4,455.0 L142.8,456.7 L140.8,458.2 L137.7,458.0 L137.5,455.7 L137.0,454.2 L138.0,452.4 L140.7,452.2 L142.3,453.6 Z" fill="#d7e6c8"/>
<path d="M174.5,397.0 L174.5,398.6 L171.3,400.1 L166.3,399.7 L163.4,398.0 L165.2,396.3 L167.2,395.0 L171.3,394.0 L173.1,395.9 Z" fill="#d7e6c8"/>
<path d="M195.5,408.0 L196.0,410.5 L189.7,411.5 L184.9,410.0 L182.0,408.8 L181.9,407.2 L184.8,405.9 L188.9,406.0 L195.9,405.5 Z" fill="#d7e6c8"/>
<path d="M206.3,470.0 L205.4,473.7 L201.0,474.6 L197.3,474.0 L195.3,471.4 L192.6,467.8 L197.1,465.9 L200.7,466.6 L203.4,467.6 Z" fill="#bfdab0"/>
<path d="M202.1,500.0 L202.1,504.5 L196.4,506.1 L191.4,504.7 L187.9,501.9 L188.8,498.3 L191.5,495.5 L196.8,492.3 L199.0,497.5 Z" fill="#bfdab0"/>
<path d="M184.0,509.0 L190.8,500.8 L201.0,500.8 L204.3,509.0 L220.0,519.5 L236.5,532.0 L242.7,548.6 L253.0,558.0 L259.4,550.6 L267.7,563.0 L282.2,577.7 L288.4,579.7 L288.4,594.3 L274.0,593.0 L267.7,586.0 L238.6,586.0 L237.5,601.6 L229.2,601.6 L228.2,588.0 L220.0,579.7 L218.8,567.3 L207.4,565.0 L211.6,552.7 L203.2,550.6 L202.2,536.0 L184.0,536.0 Z" fill="#bcd7a7"/>
<path d="M232.9,545.0 L235.4,550.8 L235.4,554.1 L232.8,552.9 L229.0,547.1 L226.2,540.8 L228.1,540.6 L229.6,540.5 Z" fill="#f1efe8"/>
<path d="M246.5,560.9 L244.9,561.5 L242.3,560.3 L240.6,558.8 L240.7,557.7 L241.2,556.7 L243.7,557.7 L246.0,559.3 Z" fill="#f1efe8"/>
<path d="M195.7,578.0 L195.6,580.7 L192.0,580.9 L188.4,580.7 L189.0,578.0 L190.1,576.6 L192.0,575.4 L195.0,575.7 Z" fill="#cfe1bf"/>
<path d="M192.8,596.0 L192.8,598.9 L188.0,598.0 L185.1,597.7 L183.7,596.0 L183.3,593.2 L188.0,593.3 L191.5,593.9 Z" fill="#cfe1bf"/>
<path d="M205.4,607.0 L203.1,608.5 L200.0,609.3 L194.9,609.6 L195.4,607.0 L196.8,605.4 L200.0,603.2 L203.2,605.4 Z" fill="#cfe1bf"/>
<path d="M210.0,598.0 L209.6,599.8 L207.0,599.4 L205.2,599.2 L203.2,598.0 L204.9,596.6 L207.0,595.7 L209.7,596.2 Z" fill="#cfe1bf"/>
<path d="M226.9,594.0 L225.9,595.9 L224.0,597.1 L221.4,596.6 L221.9,594.0 L221.3,591.3 L224.0,591.1 L225.4,592.6 Z" fill="#cfe1bf"/>
<path d="M82.8,195.7 L81.0,207.6 L70.0,238.0 L60.0,265.0 L51.4,288.6 L66.0,300.0 L84.5,309.0 L98.0,308.0 L108.0,305.5 L106.0,290.0 L101.0,275.0 L95.0,262.0 L91.0,251.5 L86.0,246.0 L83.0,241.0 L84.0,228.0 L84.5,214.0 L90.0,205.0 L100.0,200.0 L108.0,196.0 L110.0,190.0 L96.0,194.0 Z" fill="#d7e6c8"/>
<path d="M148.0,300.0 L160.0,290.0 L178.0,285.0 L190.0,276.0 L215.0,276.0 L228.0,290.0 L240.0,300.0 L262.0,310.0 L274.0,320.0 L272.0,345.0 L250.0,350.0 L240.0,340.0 L218.0,342.0 L215.0,330.0 L190.0,328.0 L172.0,335.0 L165.0,345.0 L150.0,340.0 L146.0,318.0 Z" fill="url(#px3)"/>
<path d="M160.0,244.0 L188.6,244.0 L188.6,255.0 L205.0,258.0 L215.0,264.0 L215.0,270.0 L196.0,268.0 L186.0,262.0 L160.0,262.0 Z" fill="#cfdcbf"/>
<path d="M200.0,158.0 L221.0,158.0 L221.0,176.0 L232.0,190.0 L230.0,197.0 L212.0,196.0 L200.0,186.0 Z" fill="url(#px3)"/>
<path d="M88.0,200.0 L112.0,204.0 L140.0,200.0 L152.0,214.0 L150.0,240.0 L136.0,246.0 L110.0,244.0 L90.0,236.0 L86.0,220.0 Z" fill="url(#px4)"/>
<path d="M100.0,246.0 L150.0,246.0 L158.0,268.0 L140.0,280.0 L112.0,282.0 L100.0,270.0 Z" fill="url(#px4)"/>
<path d="M80.0,262.0 L92.0,262.0 L104.0,274.0 L108.6,295.0 L104.0,310.0 L86.0,309.0 L66.0,300.0 L56.0,291.0 Z" fill="#cddcbd" opacity="0.85"/>
<path d="M222.0,228.0 L262.0,226.0 L266.0,260.0 L250.0,268.0 L226.0,262.0 Z" fill="url(#px4)"/>
<path d="M236.0,336.0 L262.0,334.0 L262.0,344.0 L236.0,344.0 Z" fill="#d3e2c3"/>
<path d="M263.3,255.0 L261.9,261.2 L258.0,263.1 L254.0,261.4 L252.9,255.0 L253.8,248.3 L258.0,245.8 L262.2,248.3 Z" fill="#cfdcbf"/>
<path d="M261.1,277.0 L260.3,278.7 L258.0,280.0 L255.0,279.3 L254.5,277.0 L255.3,274.9 L258.0,274.6 L261.2,274.6 Z" fill="#d7e6c8"/>
<path d="M211.0,170.0 L210.1,176.8 L205.0,177.6 L199.8,176.9 L197.6,170.0 L201.8,165.7 L205.0,160.7 L210.0,163.4 Z" fill="#d7e6c8"/>
<path d="M129.0,268.0 L126.7,270.5 L123.0,271.3 L118.9,270.8 L116.5,268.0 L119.5,265.7 L123.0,263.6 L126.3,265.8 Z" fill="#d7e6c8"/>
<path d="M335.8,168.0 L335.7,171.2 L331.0,171.8 L327.0,171.5 L323.3,169.6 L324.2,166.6 L326.6,164.1 L330.8,165.0 L335.5,164.9 Z" fill="#e3ecd6"/>
<path d="M318.1,190.0 L316.2,193.5 L313.1,196.2 L309.4,194.5 L307.3,191.7 L307.4,188.3 L310.2,186.9 L312.6,186.5 L316.1,186.6 Z" fill="#e3ecd6"/>
<path d="M400.1,218.0 L401.1,221.0 L395.2,221.4 L389.2,222.1 L387.5,219.2 L384.9,216.4 L389.5,214.1 L395.5,213.7 L401.9,214.7 Z" fill="#e3ecd6"/>
<path d="M444.7,202.0 L445.2,206.9 L441.9,209.0 L439.0,206.8 L437.1,204.0 L437.2,200.1 L438.6,196.1 L441.7,196.5 L444.5,197.9 Z" fill="#d7e6c8"/>
<path d="M452.3,240.0 L451.3,242.9 L449.8,246.9 L446.5,246.4 L446.2,241.5 L445.0,237.8 L447.1,235.0 L449.9,232.4 L451.8,236.5 Z" fill="#d7e6c8"/>
<path d="M460.8,197.0 L459.1,198.9 L456.7,199.9 L454.0,199.6 L452.4,198.0 L452.7,196.1 L454.5,195.0 L456.5,194.8 L458.7,195.3 Z" fill="#e3ecd6"/>
<path d="M305.1,150.0 L302.8,151.7 L300.7,152.8 L297.5,153.3 L295.3,151.3 L296.5,149.0 L298.1,147.5 L300.9,146.3 L303.4,147.8 Z" fill="#e3ecd6"/>
<path d="M422.8,175.0 L422.9,178.2 L420.5,178.8 L418.2,179.3 L417.8,176.1 L418.0,174.0 L418.7,171.9 L420.5,170.9 L422.8,171.9 Z" fill="#e3ecd6"/>
<path d="M365.8,120.0 L364.8,121.7 L362.8,123.4 L360.0,122.5 L358.0,121.1 L358.5,119.0 L359.7,117.0 L362.7,117.0 L365.9,117.5 Z" fill="#e3ecd6"/>
<path d="M444.6,165.0 L444.8,168.2 L440.8,168.8 L436.9,169.3 L436.4,166.1 L436.6,164.0 L437.8,161.9 L440.9,160.9 L444.7,161.9 Z" fill="#e3ecd6"/>
<path d="M575.0,252.0 L590.0,240.0 L612.0,246.0 L622.0,262.0 L618.0,278.0 L640.0,282.0 L650.0,290.0 L632.0,300.0 L612.0,308.0 L596.0,300.0 L590.0,282.0 L578.0,272.0 Z" fill="url(#px5)"/>
<path d="M657.1,232.0 L657.7,233.8 L656.6,235.4 L654.5,235.6 L653.7,233.5 L652.1,232.8 L652.4,231.2 L653.6,230.4 L654.5,228.8 L656.6,228.5 L658.0,230.0 Z" fill="#e3ecd6"/>
<path d="M728.7,172.0 L727.8,172.8 L726.8,173.2 L725.6,173.8 L723.6,173.9 L723.7,172.4 L724.0,171.6 L724.0,170.5 L725.6,170.4 L727.2,170.3 L729.3,170.6 Z" fill="#e3ecd6"/>
<path d="M750.8,365.0 L752.2,370.8 L748.0,373.3 L744.0,374.0 L740.9,371.0 L735.1,368.6 L738.5,362.6 L739.3,356.8 L743.5,351.8 L747.4,358.4 L752.6,358.9 Z" fill="#e3ecd6"/>
<path d="M735.0,350.0 L733.7,352.4 L732.0,354.5 L729.3,354.6 L727.5,352.8 L725.8,351.2 L727.1,349.1 L727.3,346.9 L729.4,345.6 L731.9,345.7 L732.6,348.3 Z" fill="#e3ecd6"/>
<path d="M696.3,353.0 L696.6,354.7 L695.5,356.4 L693.5,356.7 L692.4,354.8 L690.6,354.0 L690.6,352.0 L691.9,350.6 L693.6,350.2 L695.4,350.0 L695.8,351.9 Z" fill="#e3ecd6"/>
<path d="M738.0,400.0 L764.5,372.0 L764.5,384.0 L745.0,405.0 L730.0,420.0 L720.0,429.0 L714.0,428.0 L724.0,415.0 Z" fill="#c9dcc4"/>
<path d="M692.0,547.0 L720.0,530.0 L764.5,500.0 L764.5,753.0 L560.0,753.0 L575.0,720.0 L590.0,700.0 L611.0,693.0 L611.0,678.0 L621.5,668.0 L638.4,661.0 L652.0,654.6 L668.8,639.4 L679.0,627.6 L687.0,604.0 L686.0,577.0 L692.0,558.0 Z" fill="#e6ecdc"/>
<path d="M700.0,556.0 L716.0,550.0 L730.0,540.0 L745.0,522.0 L764.5,505.0 L764.5,680.0 L750.0,684.0 L735.0,676.0 L722.0,668.0 L708.0,672.0 L698.0,662.0 L702.0,640.0 L708.0,622.0 L700.0,604.0 L694.0,590.0 L697.0,570.0 Z" fill="#c2d5b2" opacity="0.9"/>
<path d="M691.8,628.1 L689.5,625.9 L687.2,622.4 L688.0,617.4 L689.2,611.9 L692.2,614.7 L695.2,615.9 L696.9,622.3 L693.9,625.7 Z" fill="#c8d9bb" opacity="0.9"/>
<path d="M575.6,754.7 L575.8,758.4 L572.1,754.0 L571.2,750.2 L568.7,745.7 L571.1,746.7 L573.2,748.1 L575.5,751.2 L577.5,755.0 Z" fill="#c8d9bb" opacity="0.9"/>
<path d="M746.7,599.6 L745.2,595.9 L751.4,591.1 L755.0,589.0 L761.9,583.5 L762.8,587.9 L761.5,592.8 L756.8,598.9 L749.9,601.9 Z" fill="#bcd2ab" opacity="0.9"/>
<path d="M705.0,604.2 L705.3,600.9 L706.7,597.7 L710.4,596.2 L712.8,598.0 L713.5,600.2 L714.7,603.1 L710.9,604.0 L708.4,604.5 Z" fill="#bcd2ab" opacity="0.9"/>
<path d="M608.9,698.8 L606.7,696.3 L608.0,693.2 L611.3,693.9 L613.2,694.3 L615.4,695.5 L614.5,697.8 L614.0,700.8 L610.9,700.9 Z" fill="#d3e0c7" opacity="0.9"/>
<path d="M759.0,603.5 L754.6,603.1 L758.0,596.2 L761.8,589.3 L767.5,586.6 L769.1,591.0 L769.3,595.6 L765.7,600.9 L761.0,608.5 Z" fill="#b7cea6" opacity="0.9"/>
<path d="M671.6,648.6 L669.0,648.0 L666.7,646.3 L666.7,643.6 L665.7,640.6 L667.9,640.5 L669.8,641.4 L671.4,643.3 L671.8,645.7 Z" fill="#d3e0c7" opacity="0.9"/>
<path d="M743.4,589.7 L743.2,585.7 L747.2,583.8 L750.6,582.0 L753.0,584.5 L753.5,587.1 L755.3,591.5 L750.3,592.2 L745.5,593.6 Z" fill="#c3d6b4" opacity="0.9"/>
<path d="M663.5,668.5 L658.7,666.8 L663.9,661.7 L670.5,660.5 L673.4,661.9 L674.5,663.8 L672.1,666.6 L669.0,669.4 L662.1,673.6 Z" fill="#cddcc0" opacity="0.9"/>
<path d="M610.6,725.5 L610.3,722.5 L612.0,719.9 L613.5,717.0 L616.0,716.8 L618.8,717.0 L616.9,720.6 L615.9,723.0 L613.5,725.0 Z" fill="#d3e0c7" opacity="0.9"/>
<path d="M742.4,667.5 L740.6,671.4 L735.0,672.3 L731.0,669.1 L725.5,666.4 L728.2,662.6 L732.3,660.9 L737.8,659.7 L741.2,663.7 Z" fill="#b7cea6" opacity="0.9"/>
<path d="M709.6,622.4 L707.7,617.5 L708.7,612.4 L712.8,610.8 L717.8,614.8 L717.6,621.2 L717.6,625.1 L715.8,628.4 L712.4,624.9 Z" fill="#c3d6b4" opacity="0.9"/>
<path d="M642.5,699.2 L638.9,698.9 L635.8,698.3 L632.9,695.6 L634.5,692.5 L635.5,688.7 L639.2,691.2 L641.0,693.2 L643.0,695.7 Z" fill="#c8d9bb" opacity="0.9"/>
<path d="M700.1,747.3 L698.1,743.8 L695.9,740.6 L696.9,735.6 L700.7,733.2 L703.6,735.8 L705.9,738.2 L704.7,741.8 L704.2,747.0 Z" fill="#d8e3cd" opacity="0.9"/>
<path d="M753.4,734.6 L752.1,732.1 L753.2,728.2 L754.7,725.3 L756.7,723.1 L758.4,723.9 L758.7,726.6 L757.9,730.0 L756.0,732.9 Z" fill="#d3e0c7" opacity="0.9"/>
<path d="M620.1,740.9 L620.8,738.6 L622.7,735.5 L627.2,733.2 L632.0,731.8 L633.2,734.0 L629.1,737.6 L626.1,741.3 L621.1,743.0 Z" fill="#cddcc0" opacity="0.9"/>
<path d="M717.2,660.5 L714.6,658.4 L713.1,653.8 L712.0,648.7 L712.2,642.2 L715.4,641.5 L718.4,646.5 L720.3,653.2 L720.8,661.2 Z" fill="#b7cea6" opacity="0.9"/>
<path d="M742.7,580.8 L738.9,582.5 L737.6,575.4 L741.6,568.3 L744.9,565.5 L749.5,561.5 L751.1,568.6 L747.2,576.5 L745.1,581.7 Z" fill="#b2caa1" opacity="0.9"/>
<path d="M623.4,677.0 L622.8,672.9 L625.7,673.2 L627.5,671.1 L628.6,674.6 L630.4,677.4 L630.3,681.9 L627.2,680.8 L624.4,681.2 Z" fill="#cddcc0" opacity="0.9"/>
<path d="M757.7,531.5 L753.2,527.8 L755.1,521.2 L761.5,519.8 L768.2,517.7 L768.7,524.6 L767.5,528.5 L765.1,531.3 L761.1,534.7 Z" fill="#b7cea6" opacity="0.9"/>
<path d="M761.2,637.7 L756.4,632.8 L749.7,630.8 L753.3,624.7 L754.5,617.7 L760.5,621.5 L764.3,623.1 L767.2,627.5 L763.9,631.3 Z" fill="#b7cea6" opacity="0.9"/>
<path d="M668.8,722.2 L667.2,722.9 L665.5,723.0 L664.6,721.6 L663.3,719.3 L665.7,717.6 L668.0,717.4 L668.9,719.2 L669.5,720.6 Z" fill="#d3e0c7" opacity="0.9"/>
<path d="M707.7,709.9 L706.4,711.6 L703.4,708.4 L700.6,704.5 L701.8,702.4 L701.1,697.1 L705.6,700.2 L708.5,705.2 L710.5,709.7 Z" fill="#c8d9bb" opacity="0.9"/>
<path d="M607.9,734.1 L607.4,732.0 L605.4,728.8 L608.9,725.5 L612.3,725.0 L615.2,726.0 L615.5,729.8 L612.6,733.0 L610.0,736.1 Z" fill="#d3e0c7" opacity="0.9"/>
<path d="M744.2,701.1 L740.3,700.9 L737.0,699.7 L738.3,696.4 L737.8,692.6 L742.3,690.1 L744.4,694.0 L747.7,694.9 L747.4,698.3 Z" fill="#d8e3cd" opacity="0.9"/>
<path d="M759.0,506.0 L752.1,501.9 L755.7,498.4 L757.2,495.7 L762.0,493.7 L769.4,498.1 L767.5,503.1 L769.8,508.0 L765.3,510.1 Z" fill="#c3d6b4" opacity="0.9"/>
<path d="M676.6,660.4 L671.8,660.8 L667.6,661.7 L664.0,658.1 L660.3,653.9 L660.7,648.7 L667.2,648.0 L674.6,650.3 L679.6,656.1 Z" fill="#c8d9bb" opacity="0.9"/>
<path d="M653.6,674.4 L650.4,674.7 L645.6,676.1 L646.7,671.8 L646.0,668.0 L650.2,665.2 L654.6,665.5 L657.5,667.9 L656.2,671.8 Z" fill="#cddcc0" opacity="0.9"/>
<path d="M612.9,717.2 L611.1,714.2 L612.6,711.7 L612.6,707.6 L616.3,709.5 L618.1,711.2 L619.7,713.4 L618.1,715.3 L616.2,717.1 Z" fill="#cddcc0" opacity="0.9"/>
<path d="M687.2,671.0 L690.6,667.2 L695.0,664.4 L701.8,662.3 L703.3,666.2 L708.1,668.5 L701.3,671.0 L697.0,673.6 L691.0,673.6 Z" fill="#b2caa1" opacity="0.9"/>
<path d="M689.3,723.4 L687.5,724.4 L688.0,720.3 L689.2,716.5 L690.9,714.9 L692.6,714.0 L691.9,718.2 L691.4,720.8 L690.5,725.9 Z" fill="#d3e0c7" opacity="0.9"/>
<path d="M689.9,563.8 L698.4,559.7 L700.8,555.2 L709.8,553.7 L710.5,558.0 L710.7,560.2 L710.0,563.3 L703.4,567.4 L699.3,563.9 Z" fill="#b7cea6" opacity="0.9"/>
<path d="M673.2,732.7 L673.5,729.5 L675.4,726.3 L679.3,725.2 L683.0,725.6 L682.1,729.0 L683.3,732.0 L679.2,732.1 L675.8,734.8 Z" fill="#d3e0c7" opacity="0.9"/>
<path d="M726.8,659.2 L724.9,654.8 L725.6,648.1 L725.6,640.2 L729.3,634.4 L731.4,639.9 L732.4,643.8 L732.8,649.9 L729.8,653.0 Z" fill="#b2caa1" opacity="0.9"/>
<path d="M581.0,729.6 L579.4,728.6 L577.3,727.3 L578.2,725.1 L579.4,722.2 L582.8,722.1 L583.9,725.1 L583.7,727.2 L583.5,729.6 Z" fill="#cddcc0" opacity="0.9"/>
<path d="M703.8,675.0 L699.9,677.3 L695.6,675.5 L693.9,671.5 L693.8,666.6 L697.8,663.2 L702.1,665.7 L707.1,666.5 L704.9,671.2 Z" fill="#bcd2ab" opacity="0.9"/>
<path d="M685.7,727.5 L685.7,725.2 L688.3,723.2 L690.2,720.9 L691.9,721.8 L693.6,722.5 L693.4,724.8 L690.9,727.3 L688.6,726.8 Z" fill="#d3e0c7" opacity="0.9"/>
<path d="M619.6,702.4 L615.1,702.1 L615.9,699.2 L615.4,697.1 L617.7,695.0 L621.2,696.7 L626.0,696.9 L625.6,699.8 L622.8,701.4 Z" fill="#d3e0c7" opacity="0.9"/>
<path d="M648.9,676.1 L646.4,680.1 L644.3,677.5 L643.1,676.1 L643.2,673.7 L644.9,670.9 L647.9,668.4 L649.4,670.7 L648.9,673.4 Z" fill="#c8d9bb" opacity="0.9"/>
<path d="M666.0,661.6 L664.9,659.7 L669.4,657.2 L672.5,653.8 L676.2,653.5 L677.9,655.2 L675.1,658.6 L671.7,661.7 L667.1,663.7 Z" fill="#d8e3cd" opacity="0.9"/>
<path d="M723.3,736.1 L720.3,733.7 L721.3,728.4 L722.6,723.7 L725.9,721.2 L727.6,724.8 L731.5,725.5 L729.8,731.0 L727.3,736.3 Z" fill="#cddcc0" opacity="0.9"/>
<path d="M660.2,675.8 L661.2,678.4 L657.8,678.3 L655.9,677.2 L652.5,676.5 L653.7,674.3 L655.3,672.5 L658.2,672.8 L659.7,674.3 Z" fill="#d8e3cd" opacity="0.9"/>
<path d="M639.4,693.0 L635.6,691.6 L633.3,688.8 L633.0,685.0 L638.8,686.0 L641.8,685.5 L646.6,686.6 L643.7,689.5 L643.9,692.7 Z" fill="#c8d9bb" opacity="0.9"/>
<path d="M716.2,700.2 L713.7,694.0 L713.4,687.0 L716.6,681.6 L719.7,678.1 L722.7,678.9 L724.6,682.8 L725.7,690.4 L720.8,694.3 Z" fill="#c3d6b4" opacity="0.9"/>
<path d="M699.3,693.3 L704.0,686.4 L706.2,679.8 L714.9,676.4 L719.0,681.3 L726.0,683.9 L721.7,691.0 L713.6,693.2 L708.7,692.1 Z" fill="#bcd2ab" opacity="0.9"/>
<path d="M700.2,564.4 L697.4,566.5 L694.9,569.2 L692.8,565.9 L688.9,564.9 L691.0,562.1 L693.4,561.5 L695.6,560.5 L698.4,561.5 Z" fill="#c8d9bb" opacity="0.9"/>
<path d="M731.2,558.2 L729.0,553.2 L730.1,548.9 L732.6,544.9 L737.5,545.9 L741.2,548.6 L745.9,553.4 L739.9,556.0 L736.5,557.5 Z" fill="#c3d6b4" opacity="0.9"/>
<path d="M708.4,751.6 L705.3,748.2 L707.3,746.2 L709.5,745.8 L712.7,746.2 L713.1,750.3 L714.7,753.8 L712.5,754.8 L709.9,755.3 Z" fill="#c8d9bb" opacity="0.9"/>
<path d="M620.0,713.2 L621.0,709.6 L619.2,705.6 L622.9,704.8 L626.0,705.9 L627.0,708.8 L629.5,712.1 L626.2,713.4 L623.4,715.4 Z" fill="#c8d9bb" opacity="0.9"/>
<path d="M640.1,714.4 L637.6,711.1 L634.0,710.4 L633.3,706.1 L637.0,705.3 L639.2,701.6 L642.4,704.2 L642.7,708.2 L641.9,711.1 Z" fill="#c8d9bb" opacity="0.9"/>
<path d="M702.9,690.1 L699.1,697.7 L691.2,694.6 L685.6,689.9 L686.2,682.7 L691.3,679.2 L696.4,673.0 L704.0,676.3 L702.8,684.3 Z" fill="#b2caa1" opacity="0.9"/>
<path d="M730.9,727.9 L729.2,726.6 L731.2,723.4 L733.3,720.4 L735.8,720.4 L738.3,720.6 L736.4,724.1 L735.3,726.9 L732.8,728.1 Z" fill="#d8e3cd" opacity="0.9"/>
<path d="M758.0,529.2 L754.4,531.5 L750.3,530.5 L742.6,531.6 L744.0,525.5 L747.2,523.0 L749.9,520.6 L755.3,520.3 L760.5,524.3 Z" fill="#c3d6b4" opacity="0.9"/>
<path d="M714.3,635.3 L710.9,630.8 L711.9,624.0 L714.2,616.9 L719.8,614.7 L724.7,616.1 L723.5,623.1 L725.3,629.8 L719.7,633.3 Z" fill="#b7cea6" opacity="0.9"/>
<path d="M704.0,614.8 L697.6,613.6 L697.6,605.8 L699.1,601.3 L700.8,596.1 L705.2,597.8 L709.7,599.6 L712.5,605.8 L707.5,609.5 Z" fill="#b7cea6" opacity="0.9"/>
<path d="M762.8,565.2 L760.1,561.9 L757.9,559.1 L757.6,554.6 L760.9,549.8 L766.1,552.1 L769.8,555.3 L768.5,559.9 L767.4,564.4 Z" fill="#b2caa1" opacity="0.9"/>
<path d="M756.7,548.0 L750.0,545.6 L746.0,539.5 L745.3,532.2 L748.8,525.8 L755.3,525.4 L760.3,529.7 L759.2,536.0 L762.5,543.7 Z" fill="#b2caa1" opacity="0.9"/>
<path d="M697.5,614.8 L696.5,616.3 L693.7,616.9 L690.2,616.9 L687.6,615.4 L687.7,613.4 L690.8,612.6 L694.0,612.1 L696.8,613.2 Z" fill="#d3e0c7" opacity="0.9"/>
<path d="M621.6,745.1 L619.6,742.2 L621.0,739.2 L623.9,738.1 L627.2,739.0 L627.9,742.4 L629.1,745.6 L626.0,746.1 L623.7,747.2 Z" fill="#cddcc0" opacity="0.9"/>
<path d="M650.4,696.0 L647.5,694.9 L645.1,693.7 L642.7,691.3 L641.1,688.7 L642.0,687.5 L644.7,688.4 L647.2,691.1 L651.3,694.3 Z" fill="#cddcc0" opacity="0.9"/>
<path d="M721.5,636.7 L719.9,629.9 L721.2,625.3 L724.0,620.3 L731.2,622.4 L732.6,630.0 L736.0,635.3 L735.3,642.1 L728.1,640.7 Z" fill="#b7cea6" opacity="0.9"/>
<path d="M699.8,724.6 L699.5,722.8 L699.3,720.9 L701.1,720.2 L703.4,719.5 L704.6,721.9 L704.5,724.0 L704.3,726.9 L701.5,725.3 Z" fill="#c8d9bb" opacity="0.9"/>
<path d="M696.4,698.4 L697.4,702.9 L691.6,700.6 L686.0,698.2 L684.0,693.8 L687.1,691.8 L691.5,693.4 L695.7,693.1 L699.7,696.7 Z" fill="#c8d9bb" opacity="0.9"/>
<path d="M640.6,670.1 L637.8,671.1 L633.2,671.1 L628.9,668.2 L622.4,665.1 L625.9,663.7 L629.7,663.1 L636.0,664.2 L637.1,667.5 Z" fill="#c8d9bb" opacity="0.9"/>
<path d="M735.3,514.7 L740.5,511.1 L743.5,509.0 L749.1,506.1 L749.7,510.3 L750.2,512.3 L750.8,515.9 L745.2,516.1 L740.9,516.2 Z" fill="#b2caa1" opacity="0.9"/>
<path d="M612.5,728.8 L609.2,728.0 L607.0,724.3 L604.8,721.7 L605.2,719.4 L606.4,717.8 L609.3,717.0 L610.8,721.9 L612.0,724.9 Z" fill="#d3e0c7" opacity="0.9"/>
<path d="M606.3,732.5 L604.5,734.2 L601.4,732.9 L599.7,731.2 L599.7,729.6 L599.6,727.8 L601.6,727.0 L603.7,728.5 L604.9,730.0 Z" fill="#cddcc0" opacity="0.9"/>
<path d="M738.9,556.2 L733.4,553.9 L727.8,553.6 L728.6,547.6 L724.7,540.4 L730.1,537.7 L736.7,538.5 L738.1,546.0 L738.8,550.2 Z" fill="#bcd2ab" opacity="0.9"/>
<path d="M735.5,714.3 L735.5,712.3 L740.9,711.1 L745.7,710.4 L752.1,710.5 L748.8,713.1 L747.9,715.6 L741.3,716.6 L737.3,715.7 Z" fill="#d3e0c7" opacity="0.9"/>
<path d="M756.2,543.4 L755.1,539.3 L754.6,533.4 L758.6,533.3 L761.9,538.3 L765.8,543.3 L764.6,548.4 L761.4,549.1 L758.5,546.3 Z" fill="#b2caa1" opacity="0.9"/>
<path d="M692.7,672.0 L690.6,671.3 L690.8,667.4 L693.0,663.4 L695.9,662.0 L697.6,663.5 L700.1,665.5 L696.4,669.5 L694.5,673.8 Z" fill="#cddcc0" opacity="0.9"/>
<path d="M656.9,694.2 L655.2,695.0 L652.8,695.3 L651.1,693.2 L652.8,690.9 L654.4,689.0 L656.5,689.9 L659.6,689.9 L660.4,693.1 Z" fill="#d8e3cd" opacity="0.9"/>
<path d="M661.6,688.1 L656.5,686.9 L652.3,682.1 L649.8,678.9 L647.4,674.5 L650.2,673.7 L653.5,673.8 L657.7,677.8 L660.8,682.8 Z" fill="#c8d9bb" opacity="0.9"/>
<path d="M725.5,726.2 L724.4,729.4 L721.4,722.8 L717.9,718.7 L717.1,714.1 L720.4,715.8 L722.9,714.9 L726.8,720.8 L727.9,726.1 Z" fill="#d8e3cd" opacity="0.9"/>
<path d="M673.5,667.5 L671.3,669.5 L667.2,668.8 L666.1,664.6 L665.1,660.8 L666.9,657.0 L671.8,657.2 L675.9,661.1 L676.1,665.6 Z" fill="#cddcc0" opacity="0.9"/>
<path d="M751.8,582.3 L747.9,582.0 L742.4,582.3 L742.0,577.8 L746.2,574.7 L749.9,573.4 L757.2,569.6 L759.4,574.9 L756.4,579.9 Z" fill="#c3d6b4" opacity="0.9"/>
<path d="M727.8,580.6 L722.9,578.7 L718.1,580.2 L718.0,575.5 L719.5,572.4 L722.1,571.1 L726.3,567.4 L728.8,571.7 L730.3,576.1 Z" fill="#b7cea6" opacity="0.9"/>
<path d="M656.2,735.4 L657.4,732.1 L659.7,728.7 L662.8,725.2 L665.2,724.4 L665.4,725.9 L664.2,728.2 L662.3,730.7 L660.2,732.2 Z" fill="#d3e0c7" opacity="0.9"/>
<path d="M754.7,633.4 L757.4,630.8 L758.2,626.5 L764.9,625.9 L769.0,627.5 L772.5,630.2 L768.6,634.6 L761.4,637.1 L754.3,637.5 Z" fill="#b7cea6" opacity="0.9"/>
<path d="M760.1,618.6 L754.6,616.9 L752.2,613.9 L752.4,610.7 L751.5,605.4 L757.2,606.3 L761.9,605.7 L765.7,609.1 L761.5,613.0 Z" fill="#b2caa1" opacity="0.9"/>
<path d="M656.7,694.0 L653.1,698.0 L650.3,691.8 L646.5,689.4 L646.2,684.5 L650.2,682.2 L654.3,684.0 L659.5,685.5 L660.8,691.3 Z" fill="#d8e3cd" opacity="0.9"/>
<path d="M744.4,541.5 L744.6,536.9 L742.5,531.7 L747.2,526.4 L752.4,529.7 L757.5,531.1 L758.8,537.2 L755.0,543.3 L748.2,547.0 Z" fill="#b2caa1" opacity="0.9"/>
<path d="M634.5,692.1 L637.6,687.9 L640.1,684.8 L645.6,680.6 L648.0,683.8 L650.3,685.6 L648.6,689.2 L643.8,691.9 L639.1,692.8 Z" fill="#d3e0c7" opacity="0.9"/>
<path d="M674.4,747.7 L670.0,747.4 L667.5,744.3 L668.5,741.0 L669.2,737.6 L673.1,735.6 L677.2,737.2 L677.8,741.1 L678.0,745.0 Z" fill="#cddcc0" opacity="0.9"/>
<path d="M624.3,719.7 L621.7,722.0 L616.7,721.9 L609.7,722.1 L610.6,718.1 L610.4,715.8 L612.1,712.7 L618.0,714.7 L621.5,716.9 Z" fill="#d3e0c7" opacity="0.9"/>
<path d="M756.5,544.4 L756.2,539.8 L759.5,535.6 L765.8,533.1 L768.3,539.4 L767.5,543.4 L769.6,550.0 L763.2,552.4 L757.4,549.9 Z" fill="#b7cea6" opacity="0.9"/>
<path d="M713.4,564.6 L712.1,558.4 L712.7,551.4 L718.9,546.7 L726.4,550.8 L726.5,558.5 L725.8,562.6 L724.2,567.6 L718.2,570.2 Z" fill="#b2caa1" opacity="0.9"/>
<path d="M645.1,658.1 L642.9,659.5 L642.3,656.8 L641.4,655.5 L641.1,652.9 L643.6,652.1 L645.6,653.4 L647.3,654.7 L647.2,657.1 Z" fill="#cddcc0" opacity="0.9"/>
<path d="M757.8,737.0 L756.7,734.2 L759.2,730.8 L763.4,730.5 L765.6,732.0 L769.0,733.4 L766.8,736.8 L763.5,739.3 L759.6,739.4 Z" fill="#c8d9bb" opacity="0.9"/>
<path d="M696.8,742.6 L697.8,740.1 L697.0,736.1 L700.1,736.3 L702.6,738.3 L704.0,741.2 L703.0,743.7 L701.5,745.7 L698.5,745.8 Z" fill="#cddcc0" opacity="0.9"/>
<path d="M749.8,667.1 L742.3,662.7 L741.2,654.7 L739.3,648.0 L742.5,640.6 L749.2,645.0 L757.5,643.9 L754.3,652.9 L753.0,657.9 Z" fill="#b7cea6" opacity="0.9"/>
<path d="M741.9,658.9 L738.7,664.0 L732.7,656.1 L730.4,650.8 L725.2,642.4 L731.0,641.2 L736.7,646.0 L744.2,648.3 L745.7,656.2 Z" fill="#bcd2ab" opacity="0.9"/>
<path d="M724.2,754.9 L721.0,751.4 L717.8,750.1 L715.7,744.6 L717.1,740.5 L720.4,741.3 L722.7,744.2 L726.2,747.1 L724.8,750.7 Z" fill="#c8d9bb" opacity="0.9"/>
<path d="M764.1,588.7 L761.0,593.7 L755.4,595.1 L747.9,594.9 L747.1,587.1 L751.5,582.4 L754.4,575.6 L759.5,580.7 L763.8,583.1 Z" fill="#bcd2ab" opacity="0.9"/>
<path d="M762.9,517.2 L758.8,521.2 L756.7,512.5 L751.8,506.7 L755.7,503.4 L758.3,497.4 L763.0,504.2 L768.7,509.2 L765.5,514.7 Z" fill="#b2caa1" opacity="0.9"/>
<path d="M705.5,570.9 L706.8,566.3 L706.2,561.1 L709.7,563.5 L712.2,565.7 L714.2,569.7 L716.0,575.7 L712.7,576.2 L709.3,576.0 Z" fill="#b2caa1" opacity="0.9"/>
<path d="M728.3,620.2 L723.2,616.3 L724.8,610.2 L728.9,604.5 L735.6,607.2 L742.1,609.9 L743.7,617.3 L737.8,621.1 L732.7,622.3 Z" fill="#b2caa1" opacity="0.9"/>
<path d="M739.9,708.8 L735.4,709.2 L735.4,702.6 L737.0,697.2 L740.1,692.2 L744.4,693.3 L746.0,698.7 L746.1,704.2 L742.4,706.1 Z" fill="#d3e0c7" opacity="0.9"/>
<path d="M675.4,642.2 L675.3,640.2 L677.2,637.8 L680.7,637.8 L682.2,639.2 L684.4,640.6 L681.8,642.5 L679.4,645.5 L676.5,643.8 Z" fill="#c8d9bb" opacity="0.9"/>
<path d="M738.6,552.9 L738.4,549.3 L739.2,543.8 L745.5,543.5 L752.7,538.6 L755.0,542.8 L752.3,548.7 L747.8,555.0 L742.3,553.4 Z" fill="#c3d6b4" opacity="0.9"/>
<path d="M691.9,755.9 L688.0,754.0 L684.3,750.1 L683.4,743.1 L686.9,738.9 L691.2,738.6 L694.5,742.6 L695.1,747.7 L696.1,754.2 Z" fill="#d3e0c7" opacity="0.9"/>
<path d="M718.1,747.8 L719.3,745.9 L720.6,744.0 L723.9,741.3 L727.4,740.4 L728.2,742.1 L725.3,745.0 L722.5,746.6 L718.7,749.4 Z" fill="#cddcc0" opacity="0.9"/>
<path d="M759.4,603.6 L758.6,609.8 L750.9,611.5 L743.7,606.3 L746.9,599.8 L745.8,594.1 L751.9,592.9 L756.7,596.3 L763.8,599.0 Z" fill="#b7cea6" opacity="0.9"/>
<path d="M729.4,604.2 L724.7,605.4 L722.0,605.1 L719.9,603.7 L720.1,599.9 L722.8,594.6 L727.7,593.1 L730.9,594.7 L730.0,599.2 Z" fill="#b2caa1" opacity="0.9"/>
<path d="M693.2,557.4 L689.9,556.0 L687.2,551.7 L690.9,548.0 L692.9,542.9 L697.4,543.0 L699.0,548.2 L700.5,553.5 L695.8,554.9 Z" fill="#c8d9bb" opacity="0.9"/>
<path d="M742.5,574.8 L739.6,569.1 L741.4,561.0 L749.8,559.3 L753.6,566.2 L761.3,568.8 L760.1,577.0 L751.5,576.8 L746.0,579.8 Z" fill="#b7cea6" opacity="0.9"/>
<path d="M721.6,611.6 L718.9,609.0 L718.2,605.3 L719.2,601.0 L723.8,600.3 L726.5,603.6 L729.2,606.0 L730.7,611.0 L726.1,614.0 Z" fill="#b7cea6" opacity="0.9"/>
<path d="M588.7,746.9 L587.2,745.2 L587.4,742.9 L588.1,739.5 L591.2,740.8 L593.9,741.4 L595.6,744.3 L593.6,747.0 L591.0,747.9 Z" fill="#c8d9bb" opacity="0.9"/>
<path d="M755.1,655.3 L747.7,655.2 L740.3,655.2 L736.9,648.0 L734.4,640.1 L743.2,641.0 L747.4,639.1 L751.0,643.2 L752.9,647.5 Z" fill="#c3d6b4" opacity="0.9"/>
<path d="M674.3,712.5 L671.9,709.9 L675.7,707.0 L677.9,705.7 L681.1,703.8 L682.3,706.5 L682.3,709.3 L681.0,713.3 L677.2,713.1 Z" fill="#cddcc0" opacity="0.9"/>
<path d="M761.0,574.1 L757.4,571.7 L752.0,568.7 L755.4,562.4 L755.5,554.6 L760.7,553.2 L764.1,559.9 L766.2,566.1 L763.3,570.2 Z" fill="#b7cea6" opacity="0.9"/>
<path d="M728.9,576.0 L720.7,573.6 L716.2,567.9 L712.9,562.5 L711.6,554.6 L718.9,555.8 L725.3,552.6 L730.9,559.9 L728.9,566.9 Z" fill="#b2caa1" opacity="0.9"/>
<path d="M705.6,669.7 L703.2,666.2 L700.2,662.0 L702.6,655.9 L703.8,646.6 L708.4,646.7 L708.5,656.8 L710.9,662.0 L709.5,669.9 Z" fill="#b2caa1" opacity="0.9"/>
<path d="M735.8,541.3 L739.6,536.4 L744.9,533.3 L751.5,528.4 L752.9,532.8 L756.3,534.2 L751.9,537.6 L748.0,541.8 L740.8,543.2 Z" fill="#c3d6b4" opacity="0.9"/>
<path d="M680.2,626.1 L677.4,624.6 L675.3,621.9 L676.2,618.7 L678.1,617.3 L680.5,615.0 L682.7,617.6 L681.9,620.7 L681.7,622.9 Z" fill="#cddcc0" opacity="0.9"/>
<path d="M696.5,573.1 L695.2,574.3 L692.8,574.0 L691.0,572.1 L689.3,569.5 L691.6,568.4 L693.8,567.3 L696.8,568.8 L697.2,571.5 Z" fill="#d8e3cd" opacity="0.9"/>
<path d="M720.0,554.4 L718.2,551.0 L722.9,544.2 L728.8,541.6 L734.9,537.0 L737.0,539.6 L733.4,545.4 L730.1,551.3 L725.3,552.1 Z" fill="#c3d6b4" opacity="0.9"/>
<path d="M670.5,714.4 L669.1,712.5 L669.6,709.8 L671.1,705.8 L674.9,705.9 L676.2,709.0 L678.1,711.6 L675.7,714.7 L672.6,717.5 Z" fill="#d8e3cd" opacity="0.9"/>
<path d="M654.1,715.7 L652.3,718.6 L648.5,716.7 L645.0,715.8 L645.5,712.8 L645.3,709.8 L648.6,709.2 L651.4,710.7 L653.2,712.8 Z" fill="#c8d9bb" opacity="0.9"/>
<path d="M738.0,637.1 L734.5,635.8 L734.6,630.9 L735.0,626.8 L737.8,625.0 L740.9,624.6 L741.6,628.5 L744.6,632.5 L742.1,637.5 Z" fill="#b7cea6" opacity="0.9"/>
<path d="M751.2,567.5 L748.6,572.8 L743.3,576.8 L738.8,572.1 L735.2,567.5 L735.7,560.7 L741.6,558.5 L747.4,556.3 L749.9,562.2 Z" fill="#c3d6b4" opacity="0.9"/>
<path d="M634.3,688.5 L631.7,692.2 L626.4,688.5 L623.5,681.3 L624.3,675.1 L628.6,673.0 L633.1,678.5 L637.1,682.1 L639.4,688.7 Z" fill="#cddcc0" opacity="0.9"/>
<path d="M719.9,568.4 L718.6,559.8 L723.1,554.0 L724.0,544.9 L731.8,544.7 L736.6,549.2 L738.8,555.8 L732.1,560.0 L728.4,566.6 Z" fill="#bcd2ab" opacity="0.9"/>
<path d="M663.5,657.4 L661.7,658.6 L660.2,655.1 L658.8,650.9 L661.0,650.2 L662.2,647.0 L663.6,651.8 L665.7,653.9 L664.5,656.2 Z" fill="#d3e0c7" opacity="0.9"/>
<path d="M744.8,722.5 L742.9,721.0 L740.9,719.0 L743.4,717.4 L744.6,715.5 L747.1,715.5 L747.5,717.9 L749.4,720.2 L746.6,721.0 Z" fill="#d8e3cd" opacity="0.9"/>
<path d="M722.0,636.7 L723.1,631.0 L722.0,626.6 L725.8,624.7 L729.9,626.5 L736.2,628.3 L735.4,634.2 L731.8,636.9 L727.6,640.8 Z" fill="#c3d6b4" opacity="0.9"/>
<path d="M738.7,532.3 L738.9,530.7 L740.1,529.5 L741.2,527.9 L742.4,528.1 L742.0,529.5 L741.5,530.7 L740.2,532.4 Z" fill="#e6ecdc" opacity="0.9"/>
<path d="M709.8,646.2 L709.1,645.6 L709.3,644.4 L710.3,644.1 L711.5,643.1 L711.4,644.7 L712.1,646.0 L710.7,646.2 Z" fill="#e6ecdc" opacity="0.9"/>
<path d="M756.6,543.9 L755.5,543.1 L755.1,540.8 L756.6,538.3 L758.5,537.6 L758.5,540.4 L758.8,541.9 L758.1,544.8 Z" fill="#e6ecdc" opacity="0.9"/>
<path d="M705.0,534.8 L703.4,533.7 L702.7,532.9 L703.1,531.9 L704.6,531.0 L707.0,531.0 L708.0,532.4 L707.0,533.7 Z" fill="#e6ecdc" opacity="0.9"/>
<path d="M740.4,553.0 L738.7,554.0 L736.7,553.3 L735.6,551.6 L736.1,550.1 L737.3,548.7 L739.3,549.4 L741.5,550.9 Z" fill="#e6ecdc" opacity="0.9"/>
<path d="M746.8,669.9 L745.5,668.3 L745.8,664.8 L748.0,662.8 L750.0,661.7 L750.7,663.7 L749.7,666.2 L748.8,668.8 Z" fill="#e6ecdc" opacity="0.9"/>
<path d="M720.8,656.8 L719.4,656.0 L719.6,654.4 L720.1,652.5 L722.1,652.8 L722.9,654.2 L723.1,655.5 L722.8,657.7 Z" fill="#e6ecdc" opacity="0.9"/>
<path d="M762.3,657.7 L761.2,656.9 L759.8,656.8 L759.5,655.2 L760.8,654.9 L761.6,654.3 L762.4,655.4 L762.9,656.6 Z" fill="#e6ecdc" opacity="0.9"/>
<path d="M724.9,646.0 L723.3,646.7 L722.0,645.3 L722.9,643.6 L724.0,641.8 L726.1,642.3 L726.6,644.2 L727.0,646.3 Z" fill="#e6ecdc" opacity="0.9"/>
<path d="M721.9,634.0 L719.5,634.4 L718.0,635.1 L716.8,633.9 L716.5,631.8 L718.1,630.5 L719.9,630.3 L721.9,631.3 Z" fill="#e6ecdc" opacity="0.9"/>
<path d="M755.1,633.6 L754.3,633.4 L755.0,631.7 L755.7,630.7 L756.9,628.9 L757.5,630.1 L756.4,632.2 L755.8,634.2 Z" fill="#e6ecdc" opacity="0.9"/>
<path d="M752.4,586.7 L751.9,588.2 L749.3,587.9 L747.7,586.6 L745.4,584.7 L748.6,584.6 L750.4,583.9 L751.6,585.4 Z" fill="#e6ecdc" opacity="0.9"/>
<path d="M750.4,581.5 L751.1,579.4 L752.3,578.1 L754.0,577.6 L756.1,578.3 L755.8,580.5 L754.6,582.2 L752.6,582.1 Z" fill="#e6ecdc" opacity="0.9"/>
<path d="M752.6,592.5 L751.8,591.3 L752.0,588.7 L752.2,585.9 L753.2,585.5 L754.1,586.3 L754.3,588.9 L753.4,590.5 Z" fill="#e6ecdc" opacity="0.9"/>
<path d="M723.3,671.6 L723.6,668.9 L725.8,667.4 L727.6,665.5 L729.1,666.6 L730.0,668.3 L728.3,670.3 L726.1,671.5 Z" fill="#e6ecdc" opacity="0.9"/>
<path d="M722.9,602.0 L722.0,603.2 L720.7,602.3 L720.1,601.3 L719.9,599.9 L721.1,598.8 L722.6,599.6 L723.2,600.8 Z" fill="#e6ecdc" opacity="0.9"/>
<path d="M746.2,554.5 L744.8,552.6 L743.9,551.0 L743.1,548.3 L744.8,548.3 L746.0,548.5 L748.2,550.0 L747.7,553.2 Z" fill="#e6ecdc" opacity="0.9"/>
<path d="M703.5,602.3 L706.0,601.2 L707.0,599.8 L709.7,599.8 L710.6,600.8 L710.4,602.1 L707.7,602.7 L706.1,602.4 Z" fill="#e6ecdc" opacity="0.9"/>
<path d="M723.9,601.2 L722.5,600.9 L721.6,600.2 L721.1,599.3 L720.7,597.7 L722.3,598.0 L723.5,598.5 L724.2,599.8 Z" fill="#e6ecdc" opacity="0.9"/>
<path d="M753.4,544.5 L751.6,543.4 L751.0,541.7 L750.8,539.6 L752.6,539.0 L754.0,540.0 L755.7,541.1 L754.0,542.4 Z" fill="#e6ecdc" opacity="0.9"/>
<path d="M720.5,608.8 L719.2,609.0 L719.0,607.7 L719.0,606.8 L719.6,605.4 L721.1,605.7 L721.5,607.1 L721.6,608.3 Z" fill="#e6ecdc" opacity="0.9"/>
<path d="M748.6,600.0 L747.5,601.1 L746.1,600.1 L744.9,598.6 L745.7,596.8 L747.5,596.2 L749.3,597.2 L749.9,599.1 Z" fill="#e6ecdc" opacity="0.9"/>
<path d="M732.9,564.1 L732.1,562.5 L732.1,560.3 L733.8,559.6 L735.5,557.7 L736.3,559.7 L735.7,561.8 L734.5,563.2 Z" fill="#e6ecdc" opacity="0.9"/>
<path d="M749.0,658.7 L750.9,657.0 L753.8,655.8 L756.6,655.5 L759.1,655.8 L757.8,657.5 L754.8,659.0 L751.0,659.6 Z" fill="#e6ecdc" opacity="0.9"/>
<path d="M725.8,589.1 L724.8,587.0 L726.9,586.2 L729.1,585.6 L730.0,588.0 L730.3,590.3 L728.1,590.4 L726.1,591.5 Z" fill="#e6ecdc" opacity="0.9"/>
<path d="M749.2,579.7 L748.7,578.8 L748.2,577.4 L749.5,576.6 L750.6,576.8 L750.8,577.8 L750.8,578.6 L750.2,579.6 Z" fill="#e6ecdc" opacity="0.9"/>
<path d="M744.3,541.7 L742.6,542.1 L741.4,541.8 L741.2,540.7 L742.7,539.2 L744.8,538.4 L745.6,539.2 L746.2,540.3 Z" fill="#e6ecdc" opacity="0.9"/>
<path d="M702.6,606.4 L701.4,605.2 L699.5,604.4 L701.0,603.4 L702.6,603.0 L705.0,602.9 L706.1,604.5 L704.5,605.8 Z" fill="#e6ecdc" opacity="0.9"/>
<path d="M737.1,679.2 L736.8,678.5 L737.0,677.4 L738.2,676.4 L739.5,676.8 L739.0,678.2 L739.3,679.7 L737.7,680.1 Z" fill="#e6ecdc" opacity="0.9"/>
<path d="M736.1,600.7 L735.5,599.1 L736.9,597.7 L738.4,598.8 L739.6,599.5 L739.2,600.9 L738.1,601.6 L736.6,602.0 Z" fill="#e6ecdc" opacity="0.9"/>
<path d="M762.9,677.1 L762.5,678.3 L758.7,678.0 L756.8,677.2 L754.4,676.4 L755.9,675.6 L758.9,675.6 L761.7,676.1 Z" fill="#e6ecdc" opacity="0.9"/>
<path d="M748.9,570.1 L749.6,568.8 L751.0,567.8 L752.9,567.9 L754.2,568.9 L753.1,570.2 L751.8,571.1 L750.2,570.9 Z" fill="#e6ecdc" opacity="0.9"/>
<path d="M725.8,552.9 L724.7,550.8 L725.1,548.7 L727.3,549.8 L728.4,550.7 L730.7,552.4 L729.6,554.1 L727.6,554.0 Z" fill="#e6ecdc" opacity="0.9"/>
<path d="M708.4,686.2 L706.7,685.7 L706.8,683.9 L707.4,682.6 L709.0,681.4 L710.9,682.4 L710.4,684.4 L709.9,685.7 Z" fill="#e6ecdc" opacity="0.9"/>
<path d="M751.4,609.5 L751.5,607.7 L752.5,607.2 L753.3,605.8 L755.0,607.1 L755.1,609.0 L754.5,610.3 L753.1,609.6 Z" fill="#e6ecdc" opacity="0.9"/>
<path d="M727.1,665.3 L725.3,664.3 L723.5,663.3 L723.6,661.2 L724.6,660.6 L725.7,659.7 L727.2,661.3 L727.9,663.5 Z" fill="#e6ecdc" opacity="0.9"/>
<path d="M711.5,613.1 L710.6,611.3 L712.2,608.3 L715.1,605.9 L716.7,607.3 L717.2,609.1 L715.8,611.6 L713.3,614.1 Z" fill="#e6ecdc" opacity="0.9"/>
<path d="M713.2,589.2 L713.0,590.3 L711.1,590.5 L709.5,590.1 L708.2,589.1 L709.3,588.0 L711.2,587.5 L714.1,587.5 Z" fill="#e6ecdc" opacity="0.9"/>
<path d="M755.1,552.1 L753.7,553.0 L750.7,553.3 L750.3,550.2 L752.4,549.0 L754.0,546.6 L755.8,549.0 L757.2,551.0 Z" fill="#e6ecdc" opacity="0.9"/>
<path d="M718.4,583.8 L717.6,585.7 L716.0,584.7 L714.9,583.7 L714.2,581.8 L715.7,580.0 L717.8,580.7 L718.8,582.2 Z" fill="#e6ecdc" opacity="0.9"/>
<path d="M713.8,675.4 L713.2,673.7 L713.2,672.1 L714.7,671.1 L716.3,671.7 L717.0,673.1 L716.5,674.3 L715.7,675.8 Z" fill="#e6ecdc" opacity="0.9"/>
<path d="M698.2,537.6 L697.1,535.5 L698.1,533.3 L699.6,531.9 L701.3,532.1 L702.9,533.3 L703.0,536.0 L700.6,537.5 Z" fill="#e6ecdc" opacity="0.9"/>
<path d="M730.0,547.7 L729.3,548.0 L727.7,547.0 L727.7,545.4 L727.5,544.0 L728.5,543.8 L730.0,545.4 L730.3,547.0 Z" fill="#e6ecdc" opacity="0.9"/>
<path d="M704.7,614.3 L702.9,614.2 L700.9,614.1 L700.8,612.2 L700.0,610.7 L701.4,610.4 L703.0,611.4 L703.8,612.6 Z" fill="#e6ecdc" opacity="0.9"/>
<path d="M705.6,534.6 L705.5,537.4 L703.9,536.5 L702.6,536.4 L702.4,534.3 L703.0,532.2 L704.5,530.6 L705.5,532.6 Z" fill="#e6ecdc" opacity="0.9"/>
<path d="M741.4,603.6 L742.8,602.4 L744.1,601.2 L746.8,601.0 L747.0,602.4 L746.9,603.7 L744.6,604.1 L742.7,604.4 Z" fill="#e6ecdc" opacity="0.9"/>
<path d="M751.8,595.6 L750.8,597.4 L748.6,597.7 L747.9,595.6 L747.1,593.3 L749.3,591.9 L751.4,592.1 L753.2,593.6 Z" fill="#e6ecdc" opacity="0.9"/>
<path d="M753.5,632.5 L753.0,630.2 L752.4,628.7 L753.1,626.7 L754.8,626.3 L756.4,627.0 L756.0,629.4 L755.4,631.9 Z" fill="#e6ecdc" opacity="0.9"/>
<path d="M708.1,570.5 L707.5,571.8 L705.1,571.8 L703.7,570.4 L703.6,569.3 L704.0,568.1 L706.1,568.2 L708.0,569.2 Z" fill="#e6ecdc" opacity="0.9"/>
<path d="M741.0,598.5 L741.2,596.9 L743.8,596.2 L745.9,595.6 L746.8,596.6 L747.9,598.0 L744.9,599.7 L743.1,598.6 Z" fill="#e6ecdc" opacity="0.9"/>
<path d="M716.8,612.7 L716.2,614.6 L714.3,613.9 L713.1,612.8 L712.2,610.8 L714.0,609.1 L715.9,610.1 L717.8,610.9 Z" fill="#e6ecdc" opacity="0.9"/>
<path d="M733.6,606.1 L732.2,605.5 L733.0,602.5 L733.1,600.7 L734.0,600.2 L735.3,599.9 L735.7,602.7 L734.5,604.2 Z" fill="#e6ecdc" opacity="0.9"/>
<path d="M762.2,551.2 L759.9,549.1 L758.3,547.1 L758.0,543.8 L759.9,541.6 L762.0,544.4 L763.8,545.8 L763.3,548.3 Z" fill="#e6ecdc" opacity="0.9"/>
<path d="M702.1,613.0 L702.4,611.4 L704.3,608.9 L706.6,606.1 L706.5,607.7 L708.0,607.3 L705.7,610.0 L703.6,612.5 Z" fill="#e6ecdc" opacity="0.9"/>
<path d="M751.1,549.3 L749.8,549.7 L748.0,549.7 L746.3,548.7 L744.4,547.3 L747.1,547.4 L748.6,547.7 L750.8,548.2 Z" fill="#e6ecdc" opacity="0.9"/>
<path d="M734.5,579.5 L732.9,579.5 L730.7,579.7 L729.1,577.3 L730.0,575.8 L731.3,574.3 L733.2,576.6 L734.6,577.9 Z" fill="#e6ecdc" opacity="0.9"/>
<path d="M753.8,532.5 L755.2,531.0 L756.4,529.6 L759.4,528.2 L760.8,529.2 L759.3,530.9 L757.6,532.2 L755.9,532.3 Z" fill="#e6ecdc" opacity="0.9"/>
<path d="M735.9,604.5 L735.9,602.8 L736.5,601.6 L737.9,600.3 L739.5,602.2 L740.2,604.4 L738.9,605.3 L737.4,606.5 Z" fill="#e6ecdc" opacity="0.9"/>
<path d="M758.4,626.8 L755.6,626.6 L757.1,623.2 L758.7,620.3 L760.7,621.8 L763.5,622.1 L762.3,625.6 L760.2,627.2 Z" fill="#e6ecdc" opacity="0.9"/>
<path d="M720.8,628.7 L718.7,628.3 L718.0,626.3 L718.8,624.2 L721.3,623.6 L722.9,625.1 L723.6,626.8 L722.7,628.3 Z" fill="#e6ecdc" opacity="0.9"/>
<path d="M722.0,551.0 L736.0,553.0 L743.0,557.0 L749.5,565.0 L754.5,573.0 L757.5,582.0 L760.0,592.5 L761.5,610.0 L764.5,612.0 L764.5,536.0 L752.0,534.0 L738.0,543.0 Z" fill="#eeeee4" opacity="0.85"/>
<path d="M538.2,617.0 L539.5,625.3 L530.9,625.9 L525.3,625.3 L517.2,624.8 L514.6,617.0 L517.5,609.4 L525.4,608.9 L531.2,607.2 L539.9,608.4 Z" fill="#e3ecd6"/>
<path d="M553.9,604.0 L550.7,607.6 L547.1,609.6 L543.2,608.6 L540.2,607.0 L538.8,604.0 L539.8,600.8 L543.0,598.6 L546.8,599.2 L551.6,599.9 Z" fill="#e3ecd6"/>
<path d="M607.5,637.0 L606.9,642.7 L602.0,644.0 L597.3,646.3 L595.6,640.7 L594.5,637.0 L595.7,633.4 L598.2,630.7 L602.1,629.7 L605.5,632.4 Z" fill="#c5d4c0"/>
<path d="M572.4,664.0 L570.1,666.4 L567.5,667.6 L564.7,667.2 L562.4,666.1 L561.2,664.0 L563.0,662.2 L564.3,659.8 L567.5,660.2 L570.2,661.5 Z" fill="#e3ecd6"/>
<path d="M543.1,618.0 L542.9,621.4 L541.7,623.5 L540.2,623.8 L539.8,620.1 L539.3,618.0 L539.4,615.1 L540.4,613.2 L541.7,612.5 L542.7,615.0 Z" fill="#d7e6c8"/>
<path d="M617.5,520.0 L616.5,522.2 L613.7,523.4 L610.2,523.8 L607.7,522.1 L604.8,520.0 L607.4,517.8 L610.3,516.5 L613.5,516.9 L616.0,518.0 Z" fill="#e3ecd6"/>
<path d="M590.7,560.0 L590.1,562.9 L586.9,564.6 L583.5,563.8 L580.0,562.9 L581.3,560.0 L581.1,557.8 L583.2,555.6 L586.6,556.1 L589.8,557.2 Z" fill="#e3ecd6"/>
<path d="M338.0,548.0 L365.0,540.0 L395.0,545.0 L420.0,560.0 L428.0,585.0 L410.0,600.0 L400.0,620.0 L385.0,650.0 L365.0,632.0 L345.0,610.0 L335.0,580.0 Z" fill="url(#px5)"/>
<path d="M329.0,517.0 L366.5,519.0 L366.0,527.7 L340.0,528.0 L329.0,526.0 Z" fill="#c4d9b1"/>
<path d="M249.0,395.0 L248.5,397.1 L243.4,398.5 L237.4,397.7 L232.1,396.9 L230.3,395.0 L234.9,393.8 L237.5,392.4 L242.7,392.2 L247.0,393.3 Z" fill="#d7e6c8"/>
<path d="M271.9,437.0 L269.4,440.0 L264.0,440.5 L258.4,443.1 L256.0,439.4 L255.4,437.0 L255.4,434.4 L259.9,433.4 L264.5,432.6 L271.5,433.2 Z" fill="#cfe1bf"/>
<path d="M237.6,458.0 L235.3,462.5 L232.1,465.7 L228.6,463.0 L224.3,462.8 L224.4,458.0 L225.5,454.2 L228.2,451.7 L231.7,451.7 L234.5,454.2 Z" fill="#d7e6c8"/>
<path d="M219.7,435.0 L219.2,436.8 L216.9,438.5 L213.5,437.7 L209.7,437.3 L208.5,435.0 L212.3,433.8 L214.0,433.1 L217.1,431.2 L218.9,433.3 Z" fill="#d7e6c8"/>
<path d="M184.9,425.0 L180.4,426.2 L177.4,427.2 L172.1,427.7 L164.6,427.3 L168.4,425.0 L169.0,423.7 L172.3,422.5 L178.9,421.4 L183.8,423.1 Z" fill="#d7e6c8"/>
<path d="M295.3,470.0 L295.2,472.5 L291.8,473.7 L288.3,473.4 L284.0,472.9 L282.4,470.0 L286.3,468.2 L287.8,465.5 L292.3,465.3 L294.6,467.8 Z" fill="#e3ecd6"/>
<path d="M323.1,478.0 L321.9,479.7 L319.8,481.2 L316.1,481.5 L313.5,479.9 L312.7,478.0 L314.1,476.3 L316.7,475.7 L319.8,474.7 L322.6,476.0 Z" fill="#e3ecd6"/>
<path d="M316.2,510.0 L315.6,513.4 L311.8,514.7 L308.4,514.1 L304.0,513.6 L304.6,510.0 L305.8,507.4 L307.8,504.4 L312.2,504.3 L316.5,506.1 Z" fill="#e3ecd6"/>
<path d="M366.6,555.0 L360.8,558.9 L356.9,565.6 L343.4,565.2 L336.1,560.0 L326.6,555.0 L339.3,551.1 L345.2,547.6 L354.7,547.7 L363.5,550.1 Z" fill="#e3ecd6"/>
<path d="M403.3,575.0 L401.7,584.5 L384.3,583.0 L372.6,588.6 L362.6,582.6 L362.0,575.0 L365.5,568.7 L374.9,565.6 L386.3,563.4 L399.8,566.3 Z" fill="#e3ecd6"/>
<path d="M342.3,585.0 L337.4,590.4 L334.0,597.4 L325.4,599.2 L321.4,591.3 L316.9,585.0 L322.6,579.6 L326.5,574.3 L334.5,571.3 L340.0,577.7 Z" fill="#e3ecd6"/>
<path d="M406.6,545.0 L405.9,552.9 L397.2,551.7 L391.3,556.3 L386.3,551.3 L386.0,545.0 L387.8,539.7 L392.4,537.2 L398.1,535.3 L404.9,537.8 Z" fill="#e3ecd6"/>
<path d="M370.5,600.0 L371.7,606.1 L365.2,611.4 L355.1,610.8 L352.5,603.9 L349.0,600.0 L352.5,596.1 L357.0,593.4 L364.0,591.3 L371.6,594.0 Z" fill="#e3ecd6"/>
<path d="M346.9,640.0 L345.7,643.8 L343.9,648.4 L340.7,645.8 L337.5,644.5 L335.6,640.0 L338.6,636.6 L340.6,634.1 L343.9,631.9 L345.3,636.6 Z" fill="#c6dcb4"/>
<path d="M295.2,648.0 L294.8,651.4 L293.2,654.1 L291.3,651.6 L290.4,650.0 L288.0,648.0 L289.2,644.6 L291.1,643.2 L292.7,644.6 L293.6,646.1 Z" fill="#d7e6c8"/>
<path d="M303.6,695.0 L304.9,697.8 L302.0,700.0 L298.8,697.8 L296.8,696.9 L296.5,695.0 L296.3,692.8 L298.0,690.1 L302.0,690.1 L303.6,692.9 Z" fill="#e3ecd6"/>
<path d="M431.6,520.0 L429.0,524.9 L426.3,526.8 L422.9,530.9 L419.6,526.6 L417.9,520.0 L421.4,515.7 L423.7,513.4 L427.2,508.6 L429.2,514.9 Z" fill="#e3ecd6"/>
<path d="M422.1,560.0 L420.8,565.9 L418.3,574.1 L411.8,574.0 L408.3,566.8 L405.3,560.0 L406.3,551.1 L412.2,547.8 L418.9,543.3 L423.9,550.9 Z" fill="#e3ecd6"/>
<path d="M415.4,610.0 L411.1,615.5 L407.9,621.2 L401.9,621.8 L396.5,617.7 L396.9,610.0 L400.1,605.6 L402.9,601.9 L408.3,597.3 L409.8,605.6 Z" fill="#e3ecd6"/>
<path d="M404.5,740.0 L404.5,742.5 L400.7,746.2 L391.2,744.2 L386.2,742.3 L378.6,740.0 L387.6,738.1 L390.9,735.5 L400.5,734.0 L409.6,736.2 Z" fill="#cfe1bf"/>
<path d="M297.5,748.0 L298.2,750.4 L292.7,751.4 L286.6,752.1 L280.6,750.7 L277.5,748.0 L282.3,745.8 L287.5,744.9 L294.0,743.1 L299.9,745.1 Z" fill="#d7e6c8"/>
<path d="M465.0,735.0 L463.2,737.3 L461.4,739.3 L459.0,738.2 L457.0,737.2 L454.3,735.0 L455.2,731.5 L458.8,731.4 L461.4,730.6 L462.7,733.1 Z" fill="#e3ecd6"/>
<path d="M336.7,440.0 L334.6,442.7 L331.2,443.1 L328.4,443.8 L325.1,442.8 L326.3,440.0 L324.7,436.9 L328.9,437.2 L331.2,437.0 L334.4,437.5 Z" fill="#e3ecd6"/>
<path d="M380.1,470.0 L377.4,472.6 L373.3,472.7 L369.9,474.2 L367.5,472.2 L365.4,470.0 L367.2,467.7 L370.0,466.0 L374.2,465.4 L377.7,467.3 Z" fill="#e3ecd6"/>
<path d="M305.3,500.0 L303.7,502.0 L301.0,502.3 L298.8,502.9 L296.1,502.1 L297.0,500.0 L295.8,497.7 L299.1,497.9 L301.0,497.8 L303.5,498.1 Z" fill="#e3ecd6"/>
</g>
<!--/LAND-->
<!--WATER-->
<g>
<path d="M530.0,695.0 L536.0,694.5 L543.8,693.4 L552.0,691.0 L560.7,688.4 L565.0,685.0 L569.0,683.0 L568.0,688.0 L565.7,691.8 L561.0,695.5 L557.0,698.5 L554.0,704.0 L552.0,708.6 L549.0,711.0 L545.5,712.0 L542.0,709.0 L538.7,705.0 L536.0,701.0 L533.6,698.5 Z" fill="#aacbe2" stroke="#7f9fc0" stroke-width="0.5"/>
<path d="M612.0,508.6 L614.0,516.0 L617.0,523.0 L623.0,528.0 L629.0,530.8 L636.0,528.0 L641.7,525.8 L648.0,526.0 L654.0,528.0 L661.4,533.0" fill="none" stroke="#cfe1ef" stroke-width="2.6" stroke-linecap="round" stroke-linejoin="round"/>
<path d="M624.4,511.0 L625.6,518.0 L629.0,523.0" fill="none" stroke="#cfe1ef" stroke-width="1.8" stroke-linecap="round" stroke-linejoin="round"/>
<path d="M625.6,518.0 L625.6,517.5" fill="none" stroke="#cfe1ef" stroke-width="1.0" stroke-linecap="round"/>
<path d="M636.7,516.0 L639.2,522.3 L639.0,526.0" fill="none" stroke="#cfe1ef" stroke-width="1.8" stroke-linecap="round" stroke-linejoin="round"/>
<path d="M639.2,522.3 L642.6,524.7" fill="none" stroke="#cfe1ef" stroke-width="1.0" stroke-linecap="round"/>
<path d="M651.5,518.4 L650.7,522.8 L651.5,527.0" fill="none" stroke="#cfe1ef" stroke-width="1.8" stroke-linecap="round" stroke-linejoin="round"/>
<path d="M650.7,522.8 L652.0,518.5" fill="none" stroke="#cfe1ef" stroke-width="1.0" stroke-linecap="round"/>
<path d="M619.5,535.0 L621.0,529.8 L624.0,527.0" fill="none" stroke="#cfe1ef" stroke-width="1.6" stroke-linecap="round" stroke-linejoin="round"/>
<path d="M621.0,529.8 L616.6,528.8" fill="none" stroke="#cfe1ef" stroke-width="0.9" stroke-linecap="round"/>
<path d="M609.0,503.0 L610.9,506.5 L612.0,508.6" fill="none" stroke="#cfe1ef" stroke-width="1.6" stroke-linecap="round" stroke-linejoin="round"/>
<path d="M610.9,506.5 L613.3,510.7" fill="none" stroke="#cfe1ef" stroke-width="0.9" stroke-linecap="round"/>
<path d="M644.0,534.0 L645.9,531.5 L646.0,527.0" fill="none" stroke="#cfe1ef" stroke-width="1.4" stroke-linecap="round" stroke-linejoin="round"/>
<path d="M645.9,531.5 L640.9,533.1" fill="none" stroke="#cfe1ef" stroke-width="0.8" stroke-linecap="round"/>
<path d="M678.7,471.5 L686.7,469.8 L696.3,469.0 L704.5,469.2 L713.0,469.0" fill="none" stroke="#cfe1ef" stroke-width="2.2" stroke-linecap="round" stroke-linejoin="round"/>
<path d="M686.7,469.8 L682.1,469.2" fill="none" stroke="#cfe1ef" stroke-width="1.2" stroke-linecap="round"/>
<path d="M696.3,469.0 L692.0,464.9" fill="none" stroke="#cfe1ef" stroke-width="1.2" stroke-linecap="round"/>
<path d="M704.5,469.2 L703.8,472.5" fill="none" stroke="#cfe1ef" stroke-width="1.2" stroke-linecap="round"/>
<path d="M673.8,493.8 L681.5,494.5 L689.8,493.0 L698.2,490.9 L708.0,491.0" fill="none" stroke="#cfe1ef" stroke-width="2.4" stroke-linecap="round" stroke-linejoin="round"/>
<path d="M681.5,494.5 L682.9,494.1" fill="none" stroke="#cfe1ef" stroke-width="1.3" stroke-linecap="round"/>
<path d="M689.8,493.0 L689.3,493.0" fill="none" stroke="#cfe1ef" stroke-width="1.3" stroke-linecap="round"/>
<path d="M698.2,490.9 L695.1,494.2" fill="none" stroke="#cfe1ef" stroke-width="1.3" stroke-linecap="round"/>
<path d="M683.6,508.6 L690.3,507.0 L696.1,507.3 L704.0,505.0" fill="none" stroke="#cfe1ef" stroke-width="2.0" stroke-linecap="round" stroke-linejoin="round"/>
<path d="M690.3,507.0 L694.3,502.8" fill="none" stroke="#cfe1ef" stroke-width="1.1" stroke-linecap="round"/>
<path d="M696.1,507.3 L696.7,508.5" fill="none" stroke="#cfe1ef" stroke-width="1.1" stroke-linecap="round"/>
<path d="M678.7,523.0 L686.0,523.1 L693.1,522.8 L700.0,524.0" fill="none" stroke="#cfe1ef" stroke-width="2.0" stroke-linecap="round" stroke-linejoin="round"/>
<path d="M686.0,523.1 L687.5,519.7" fill="none" stroke="#cfe1ef" stroke-width="1.1" stroke-linecap="round"/>
<path d="M693.1,522.8 L693.3,521.1" fill="none" stroke="#cfe1ef" stroke-width="1.1" stroke-linecap="round"/>
<path d="M690.0,458.0 L699.4,455.5 L706.7,455.0 L714.0,455.0" fill="none" stroke="#cfe1ef" stroke-width="1.6" stroke-linecap="round" stroke-linejoin="round"/>
<path d="M699.4,455.5 L703.2,457.3" fill="none" stroke="#cfe1ef" stroke-width="0.9" stroke-linecap="round"/>
<path d="M706.7,455.0 L710.3,460.0" fill="none" stroke="#cfe1ef" stroke-width="0.9" stroke-linecap="round"/>
<path d="M684.0,483.0 L691.9,482.3 L700.4,481.5 L709.0,481.0" fill="none" stroke="#cfe1ef" stroke-width="1.6" stroke-linecap="round" stroke-linejoin="round"/>
<path d="M691.9,482.3 L689.5,483.6" fill="none" stroke="#cfe1ef" stroke-width="0.9" stroke-linecap="round"/>
<path d="M700.4,481.5 L695.5,479.5" fill="none" stroke="#cfe1ef" stroke-width="0.9" stroke-linecap="round"/>
<path d="M714.5,451.8 L718.9,454.4 L724.8,456.5 L728.0,459.0" fill="none" stroke="#cfe1ef" stroke-width="2.0" stroke-linecap="round" stroke-linejoin="round"/>
<path d="M718.9,454.4 L715.7,454.5" fill="none" stroke="#cfe1ef" stroke-width="1.1" stroke-linecap="round"/>
<path d="M724.8,456.5 L726.1,459.4" fill="none" stroke="#cfe1ef" stroke-width="1.1" stroke-linecap="round"/>
<path d="M713.0,474.0 L717.9,476.9 L723.5,477.9 L728.0,481.4" fill="none" stroke="#cfe1ef" stroke-width="2.2" stroke-linecap="round" stroke-linejoin="round"/>
<path d="M717.9,476.9 L715.7,480.0" fill="none" stroke="#cfe1ef" stroke-width="1.2" stroke-linecap="round"/>
<path d="M723.5,477.9 L725.4,478.9" fill="none" stroke="#cfe1ef" stroke-width="1.2" stroke-linecap="round"/>
<path d="M708.0,498.7 L713.1,502.6 L720.3,506.3 L725.6,508.6" fill="none" stroke="#cfe1ef" stroke-width="2.2" stroke-linecap="round" stroke-linejoin="round"/>
<path d="M713.1,502.6 L709.6,499.8" fill="none" stroke="#cfe1ef" stroke-width="1.2" stroke-linecap="round"/>
<path d="M720.3,506.3 L722.6,502.7" fill="none" stroke="#cfe1ef" stroke-width="1.2" stroke-linecap="round"/>
<path d="M703.0,516.0 L707.7,520.7 L715.2,525.5 L720.6,528.3" fill="none" stroke="#cfe1ef" stroke-width="2.0" stroke-linecap="round" stroke-linejoin="round"/>
<path d="M707.7,520.7 L710.0,522.3" fill="none" stroke="#cfe1ef" stroke-width="1.1" stroke-linecap="round"/>
<path d="M715.2,525.5 L713.2,527.4" fill="none" stroke="#cfe1ef" stroke-width="1.1" stroke-linecap="round"/>
<path d="M716.0,440.0 L721.1,442.9 L726.0,444.0" fill="none" stroke="#cfe1ef" stroke-width="1.4" stroke-linecap="round" stroke-linejoin="round"/>
<path d="M721.1,442.9 L723.7,445.0" fill="none" stroke="#cfe1ef" stroke-width="0.8" stroke-linecap="round"/>
<path d="M711.0,487.0 L715.5,490.5 L722.0,493.0" fill="none" stroke="#cfe1ef" stroke-width="1.4" stroke-linecap="round" stroke-linejoin="round"/>
<path d="M715.5,490.5 L715.4,490.4" fill="none" stroke="#cfe1ef" stroke-width="0.8" stroke-linecap="round"/>
<path d="M718.0,429.6 L717.4,434.4 L717.6,439.6 L717.0,444.4 L717.0,448.5 L716.1,452.6 L716.1,456.8 L715.3,460.9 L715.4,465.1 L714.5,469.0 L713.1,473.0 L711.2,476.6 L709.9,480.3 L708.0,484.0 L707.6,488.7 L706.5,492.9 L706.0,497.4 L705.2,502.1 L704.2,506.6 L703.4,511.0 L702.8,515.2 L700.9,518.9 L700.1,523.0 L699.8,526.9 L698.4,530.8 L696.6,535.8 L694.2,540.1 L692.0,545.0" fill="none" stroke="#8fa9cc" stroke-width="1.6" opacity="0.9"/>
<path d="M371.6,688.4 L366.8,690.8 L362.0,694.0 L358.5,697.8 L356.0,702.0 L355.0,706.4 L353.9,710.7 L352.0,715.0 L352.2,719.5 L353.0,723.7 L353.0,728.0 L352.1,732.1 L350.6,735.8 L350.0,740.0 L350.1,744.3 L348.8,748.6 L349.0,753.0" fill="none" stroke="#b3cfe6" stroke-width="3.2" stroke-linecap="round"/>
<path d="M371.6,688.4 L376.0,687.6 L380.5,687.2 L385.0,687.3 L389.5,686.5 L394.1,686.6 L398.6,685.7 L403.1,685.7 L407.6,686.4 L412.1,686.5 L416.8,686.1 L421.4,686.1 L425.7,686.7 L430.3,687.7 L434.5,688.8 L439.1,689.6 L443.7,690.8 L448.1,692.0 L452.7,693.4 L456.7,694.6 L460.7,695.1 L464.9,696.6 L468.7,697.9 L473.0,698.5 L477.7,698.8 L482.2,699.5 L486.4,700.7 L490.8,701.0 L495.5,701.8 L500.0,702.0 L503.7,703.1 L507.7,704.5 L511.8,705.3 L515.4,707.1 L519.6,707.4 L523.4,708.4 L527.0,710.0" fill="none" stroke="#9eabd4" stroke-width="2.6" opacity="0.85"/>
<path d="M441.8,739.1 L440.6,740.3 L438.1,740.3 L436.7,739.6 L436.3,738.5 L438.1,737.8 L440.6,737.8 Z" fill="#cfe2f0"/>
<path d="M443.0,743.2 L443.0,744.1 L441.9,744.3 L441.4,743.6 L441.2,742.8 L442.0,742.3 L442.9,742.4 Z" fill="#cfe2f0"/>
<path d="M451.9,736.9 L450.5,737.6 L447.8,737.4 L446.4,737.2 L445.3,736.6 L447.6,736.2 L450.2,736.3 Z" fill="#cfe2f0"/>
<path d="M435.8,727.7 L435.4,728.5 L433.6,728.6 L432.1,728.2 L432.0,727.2 L433.7,726.9 L435.0,727.1 Z" fill="#cfe2f0"/>
<path d="M421.7,727.0 L421.1,727.8 L420.1,728.2 L419.3,727.4 L419.4,726.6 L420.1,725.8 L421.6,725.7 Z" fill="#cfe2f0"/>
<path d="M445.8,725.7 L444.8,726.3 L442.3,726.5 L440.0,726.1 L440.3,725.3 L442.2,724.8 L444.1,725.3 Z" fill="#cfe2f0"/>
<path d="M439.7,724.9 L439.3,726.1 L438.3,726.2 L437.7,725.4 L437.9,724.5 L438.3,723.5 L439.1,723.9 Z" fill="#cfe2f0"/>
<path d="M428.9,727.0 L427.7,727.8 L425.6,728.3 L424.3,727.4 L423.6,726.4 L425.7,725.8 L427.6,726.2 Z" fill="#cfe2f0"/>
<path d="M430.4,744.1 L430.3,745.3 L428.3,745.0 L426.6,744.7 L427.3,743.7 L428.3,743.2 L430.4,743.0 Z" fill="#cfe2f0"/>
<path d="M428.5,743.6 L427.5,744.6 L425.7,744.7 L423.5,744.4 L424.6,743.2 L425.6,742.3 L428.0,742.3 Z" fill="#cfe2f0"/>
<path d="M448.6,728.9 L447.8,729.4 L446.4,729.6 L445.5,729.1 L445.0,728.5 L446.4,728.0 L448.0,728.2 Z" fill="#cfe2f0"/>
<path d="M425.9,723.5 L425.4,724.4 L423.9,724.8 L423.0,724.0 L422.9,723.0 L424.0,722.4 L425.2,722.8 Z" fill="#cfe2f0"/>
<path d="M421.8,737.6 L421.2,738.3 L419.7,738.5 L418.9,737.9 L419.0,737.3 L419.8,736.8 L421.0,737.0 Z" fill="#cfe2f0"/>
<path d="M446.0,733.1 L445.7,733.9 L444.2,734.1 L442.8,733.6 L443.4,732.7 L444.3,732.3 L445.4,732.5 Z" fill="#cfe2f0"/>
<path d="M443.4,723.3 L443.2,723.9 L440.4,724.0 L437.8,723.7 L438.8,723.1 L440.6,722.8 L443.2,722.8 Z" fill="#cfe2f0"/>
<path d="M443.8,741.4 L443.0,742.1 L442.2,742.8 L441.8,741.9 L441.3,740.7 L442.3,740.6 L443.3,740.3 Z" fill="#cfe2f0"/>
<path d="M187.7,742.0 L186.6,743.1 L184.6,742.9 L183.3,742.5 L182.9,741.5 L184.5,740.8 L186.3,741.1 Z" fill="#cfe2f0"/>
<path d="M191.6,747.0 L191.6,748.1 L189.4,748.4 L188.4,747.4 L188.1,746.5 L189.4,745.5 L191.1,746.3 Z" fill="#cfe2f0"/>
<path d="M272.7,630.0 L271.3,630.9 L269.6,630.9 L267.9,630.6 L268.3,629.5 L269.5,628.8 L271.5,629.0 Z" fill="#cfe2f0"/>
<path d="M201.6,640.0 L201.1,640.8 L199.4,641.3 L198.4,640.4 L197.6,639.4 L199.6,639.0 L201.0,639.3 Z" fill="#cfe2f0"/>
<path d="M336.7,552.0 L336.6,553.1 L334.5,553.2 L332.6,552.6 L332.7,551.4 L334.5,550.7 L336.6,550.9 Z" fill="#cfe2f0"/>
<path d="M343.7,557.0 L343.4,558.0 L341.6,557.9 L340.0,557.5 L339.7,556.4 L341.4,555.5 L343.4,556.1 Z" fill="#cfe2f0"/>
<path d="M466.8,612.0 L466.1,612.8 L464.4,613.4 L463.6,612.4 L463.3,611.6 L464.5,610.8 L466.5,610.9 Z" fill="#cfe2f0"/>
<path d="M471.6,618.0 L471.2,618.9 L469.6,618.9 L467.5,618.6 L467.8,617.4 L469.4,616.7 L471.5,616.9 Z" fill="#cfe2f0"/>
<path d="M8.0,215.0 L14.0,225.0 L22.0,236.0 L28.0,250.0 L33.0,262.0 L37.0,268.0" fill="none" stroke="#9fb9cf" stroke-width="0.8" stroke-dasharray="1.5 2"/>
<path d="M8.0,402.0 L10.5,404.0 L12.9,406.0 L15.1,408.2 L18.0,410.0 L20.1,412.6 L22.0,415.2 L24.2,417.3 L26.0,420.0 L28.5,421.7 L31.3,423.6 L33.7,425.8 L36.0,428.0 L39.6,429.6 L42.8,430.3 L46.7,430.9 L50.0,432.0 L53.2,431.9 L56.0,432.2 L59.2,432.8 L62.0,433.0 L65.4,433.5 L68.4,433.3 L71.8,434.2 L75.0,434.0" fill="none" stroke="#b9cfe2" stroke-width="0.8" stroke-dasharray="2 1.5"/>
</g>
<!--/WATER-->
<!--ROADS-->
<g>
<path d="M7.4,216.0 L12.2,221.1 L17.0,225.3 L21.8,230.2 L27.0,234.6 L33.6,236.0 L40.7,236.8 L47.4,237.0 L54.1,238.5 L61.0,239.7 L66.8,239.0 L72.6,237.1 L78.3,235.4 L84.5,234.6 L92.2,235.6 L100.1,236.1 L108.0,236.0 L113.1,232.2 L118.2,228.3 L124.6,225.2 L130.0,221.8 L135.0,217.7 L142.0,216.0 L147.3,220.6 L153.5,224.5 L158.7,228.5 L164.6,232.9 L169.9,237.1 L175.7,241.0 L181.1,244.7 L186.9,248.1 L193.1,250.9 L198.1,255.2 L204.2,258.0 L209.5,261.6 L214.0,265.8 L218.2,271.1 L223.2,274.8 L228.0,279.4 L232.3,284.1 L236.5,288.6 L242.5,292.8 L248.2,296.6 L254.4,300.6 L260.0,305.5 L267.3,307.1 L275.0,309.0 L280.0,312.9 L285.4,316.7 L290.6,320.7 L295.5,325.1 L300.7,329.0 L305.8,333.8 L310.5,339.4 L314.6,345.1 L319.3,350.4 L324.0,356.0 L328.7,360.4 L332.7,365.3 L337.1,369.5 L341.8,374.2 L346.6,378.7 L351.0,383.0 L354.8,388.4 L359.6,393.7 L363.3,399.2 L367.7,404.2 L371.6,409.6 L375.8,414.9 L380.0,420.0 L383.4,425.3 L386.3,431.5 L390.2,436.6 L392.9,442.7 L396.2,448.3 L400.3,453.1 L403.0,459.4 L406.0,464.7 L410.0,470.0 L413.9,475.7 L417.6,481.1 L421.2,487.3 L424.9,492.9 L428.5,498.3 L432.2,504.6 L436.0,510.0 M265.0,273.5 L272.3,273.7 L279.7,273.1 L286.7,273.3 L294.0,273.5 L294.0,279.5 L294.0,285.7 L295.1,291.5 L294.9,297.8 L295.6,304.0 L289.0,304.1 L282.3,304.0 L276.1,304.1 L269.8,304.6 L263.0,304.5 L256.5,304.5 L250.0,304.0 M310.0,272.0 L316.8,272.0 L324.2,271.8 L330.8,272.3 L338.2,272.5 L345.0,272.0 L352.3,271.9 L359.2,272.8 L366.6,273.5 L367.1,266.6 L368.0,260.0 L371.5,253.5 L376.1,247.6 L380.0,241.0 L386.3,241.5 L392.3,241.2 L398.9,240.4 L405.2,240.5 L411.5,241.6 L417.5,240.9 L424.0,241.0 M8.0,300.0 L13.6,302.6 L19.1,305.6 L24.0,309.4 L30.0,312.0 L35.2,315.4 L40.8,317.3 L46.2,321.2 L51.5,324.0 L56.7,327.5 L62.0,330.0 L68.4,331.7 L75.0,333.0 M398.0,380.0 L403.6,385.0 L408.8,390.4 L414.6,394.5 L420.0,400.0 L422.6,406.0 L425.7,411.7 L428.5,417.1 L431.5,422.5 L433.9,428.7 L437.0,434.1 L440.0,440.0 L441.4,446.8 L444.6,453.3 L445.6,459.9 L447.7,466.6 L450.5,473.4 L452.0,480.0 L453.8,486.3 L457.5,492.2 L460.0,498.7 L462.0,505.0 M432.0,299.0 L436.1,305.1 L439.5,311.3 L443.1,317.6 L446.1,323.7 L450.0,330.0 L452.9,335.5 L456.8,339.9 L459.8,345.3 L463.1,350.5 L466.1,355.2 L470.0,360.0 L472.6,365.7 L474.4,372.0 L475.7,378.4 L478.0,384.0 M8.0,381.0 L14.3,384.1 L20.8,386.4 L27.2,389.0 L33.7,392.3 L40.0,395.0 L45.7,397.5 L51.3,399.9 L57.4,402.2 L63.0,404.1 L69.2,406.0 L75.0,408.0 L80.7,411.8 L87.0,414.1 L93.0,417.6 L98.1,421.7 L103.7,425.1 L110.0,428.0 L115.5,431.3 L121.4,435.3 L127.2,438.4 L133.0,441.1 L138.8,444.6 L144.4,448.9 L150.0,452.0 L155.7,454.9 L160.8,458.4 L166.6,461.3 L172.4,464.3 L177.8,467.5 L183.5,470.8 L188.8,474.0 L194.6,476.9 L200.0,480.0 L205.4,483.0 L211.5,485.0 L217.0,488.6 L223.4,490.9 L228.9,493.9 L234.0,497.6 L240.0,500.0 L245.3,502.8 L251.0,505.8 L256.7,508.4 L262.6,510.9 L267.9,513.8 L273.3,517.0 L279.1,519.2 L284.2,522.1 L290.0,525.0 L295.5,528.4 L301.6,530.8 L306.9,533.5 L312.6,537.1 L318.9,539.1 L324.4,541.8 L330.0,545.0 L335.7,547.5 L341.2,551.4 L347.2,553.3 L352.5,556.8 L358.2,559.8 L364.7,561.9 L370.0,565.0 L374.7,568.9 L379.8,572.8 L384.2,577.1 L388.7,582.1 L394.1,585.1 L397.9,590.2 L403.0,594.3 L408.0,598.0 M183.0,612.0 L188.9,614.0 L194.5,616.6 L200.7,617.6 L206.4,620.6 L212.1,622.5 L218.4,624.3 L224.5,625.6 L230.0,628.0 L236.4,631.0 L242.8,632.3 L248.9,635.7 L255.8,637.3 L262.0,640.0 L267.5,642.6 L272.8,645.5 L278.2,649.0 L283.8,650.9 L289.4,653.7 L294.4,657.4 L300.0,660.0 L306.0,663.1 L311.0,667.0 L317.3,669.8 L322.9,673.6 L328.4,677.2 L334.2,680.7 L340.0,684.0 L346.7,686.0 L353.4,689.0 L360.0,692.0 M262.0,640.0 L257.9,646.7 L254.1,653.1 L250.0,660.0 L245.3,665.0 L239.9,669.8 L234.6,674.6 L230.0,680.0 L224.0,681.7 L217.8,684.0 L211.9,686.2 L205.9,687.4 L200.0,690.0 L193.4,691.3 L186.4,692.8 L180.1,695.7 L173.3,697.1 L166.6,698.3 L160.0,700.0 L154.4,701.9 L148.5,703.0 L142.6,705.3 L136.8,706.1 L131.1,708.9 L125.0,710.0 L118.1,710.4 L110.7,711.6 L104.1,712.9 L96.9,713.4 L90.0,715.0 M360.0,692.0 L358.2,685.3 L355.7,679.5 L353.5,672.9 L352.0,666.3 L350.0,660.0 L354.4,655.9 L358.5,651.1 L362.8,647.4 L366.8,642.8 L371.3,638.6 L375.1,634.0 L380.0,630.0 L384.0,625.4 L387.9,620.8 L392.2,616.3 L396.4,612.3 L399.9,607.3 L403.4,602.3 L408.0,598.0 M408.0,598.0 L405.6,592.4 L403.2,587.0 L400.7,581.7 L398.1,575.9 L395.3,570.7 L392.1,565.5 L390.0,560.0 L392.6,553.9 L393.8,548.1 L396.4,542.1 L397.9,535.9 L400.0,530.0 L405.9,526.9 L412.1,525.5 L418.1,522.5 L424.4,520.3 L430.1,517.7 L436.0,515.0 M360.0,695.0 L366.5,695.3 L373.5,696.3 L379.9,697.1 L386.4,698.8 L393.5,699.3 L400.0,700.0 L406.5,701.7 L413.7,703.5 L419.8,705.8 L427.1,707.4 L433.5,710.4 L440.0,712.0 L446.8,713.5 L453.2,714.8 L459.9,715.4 L466.7,716.7 L473.2,718.5 L480.0,720.0 L485.7,722.2 L491.6,724.7 L497.3,725.9 L502.5,729.0 L509.0,730.1 L514.1,732.6 L520.0,735.0 M466.0,520.0 L470.0,524.6 L473.2,529.8 L476.0,535.3 L480.0,540.0 L486.7,542.2 L493.7,544.7 L500.0,548.0 L506.0,548.4 L512.1,548.8 L517.8,549.7 L523.7,550.1 L530.0,550.0 L536.1,550.1 L541.7,548.5 L548.1,548.4 L554.0,548.3 L560.0,548.0 L565.7,547.8 L572.2,547.7 L578.0,547.2 L584.0,546.8 L590.0,546.0 L596.3,546.3 L601.8,546.4 L607.8,547.1 L614.0,547.0 L620.0,548.0 L626.1,547.9 L632.1,546.3 L638.3,546.8 L643.9,545.7 L650.0,545.0 L656.6,544.9 L663.8,544.9 L670.7,544.7 L677.4,544.2 L684.0,543.2 L691.0,543.0 M470.0,535.0 L472.6,540.8 L473.9,547.6 L475.8,553.7 L478.0,560.0 L478.5,566.5 L480.1,573.5 L481.3,580.3 L482.6,586.7 L483.2,593.4 L485.0,600.0 L486.7,606.0 L489.7,611.0 L491.9,616.8 L494.1,622.5 L495.6,628.6 L497.5,634.2 L500.0,640.0 L502.4,645.9 L505.7,651.3 L508.0,657.4 L510.9,662.8 L514.3,668.3 L516.4,674.4 L520.0,680.0 L524.7,684.3 L530.3,687.9 L535.0,692.3 L540.0,696.1 L545.0,700.0 M530.0,550.0 L529.4,543.9 L528.8,538.1 L529.0,532.0 L528.5,526.1 L528.0,520.0 L526.4,513.2 L524.6,506.7 L523.4,499.9 L522.5,493.4 L520.9,486.8 L520.0,480.0 L516.9,474.1 L514.8,468.2 L511.4,462.7 L508.2,457.5 L505.6,451.2 L502.5,446.1 L500.0,440.0 L498.5,433.9 L496.4,427.9 L494.5,421.7 L492.3,415.8 L490.0,410.0 L485.5,404.8 L480.1,400.2 L475.5,394.8 L470.0,390.0 M470.0,390.0 L476.2,388.5 L481.9,388.6 L488.1,387.6 L494.1,385.7 L500.0,385.0 L505.9,383.5 L511.7,380.6 L517.9,378.8 L524.2,377.2 L530.0,375.0 L535.4,371.4 L539.9,366.3 L545.4,363.0 L550.4,358.3 L554.9,353.8 L560.0,350.0 L565.0,345.3 L570.2,339.9 L574.3,334.7 L580.0,330.0 L586.7,326.3 L592.8,321.7 L600.0,318.0 M488.0,384.0 L486.4,376.9 L484.0,370.2 L482.5,363.4 L479.4,357.1 L478.0,350.0 L478.1,343.8 L479.2,338.0 L479.2,332.1 L479.9,326.1 L480.0,320.0 L478.2,313.6 L477.9,306.6 L476.0,300.0 M545.0,700.0 L551.3,696.9 L557.0,694.0 L562.3,689.7 L568.3,686.2 L573.8,683.2 L580.0,680.0 L584.1,675.2 L588.6,671.2 L593.4,667.4 L597.1,662.5 L601.7,658.6 L605.9,654.4 L610.0,650.0 L614.4,646.0 L618.2,640.9 L623.4,637.3 L627.0,632.8 L631.6,628.7 L636.0,624.5 L640.0,620.0 L644.0,615.2 L649.1,611.6 L653.1,607.6 L656.9,602.9 L661.2,598.1 L665.9,594.2 L670.0,590.0 L673.1,584.3 L675.7,579.2 L677.5,572.7 L680.7,567.5 L683.0,561.7 L685.6,556.5 L688.6,551.0 L691.0,545.0 M590.0,546.0 L592.3,540.0 L593.3,534.1 L594.7,527.8 L597.2,522.0 L598.8,515.9 L600.0,510.0 L602.8,504.7 L607.1,500.4 L609.5,494.9 L613.4,490.1 L617.0,485.1 L620.0,480.0 L625.2,477.2 L629.7,472.7 L634.8,469.0 L640.0,466.0 M640.0,466.0 L646.4,467.4 L653.2,468.4 L660.0,470.0 L665.8,472.6 L672.0,474.2 L677.7,476.1 L684.1,478.4 L690.0,480.0 L695.4,476.8 L700.8,474.9 L706.6,472.5 L712.0,470.0 M560.0,548.0 L561.4,554.0 L563.8,560.1 L566.9,565.8 L568.3,572.3 L571.0,577.8 L572.8,584.3 L575.0,590.0 L576.4,595.8 L579.5,601.2 L581.5,606.9 L583.7,613.1 L585.4,618.5 L587.7,624.5 L590.0,630.0 L592.4,636.1 L593.3,642.0 L596.2,648.1 L597.8,654.3 L600.0,660.0 M691.0,145.0 L693.1,150.9 L694.4,156.7 L695.2,162.9 L696.6,168.6 L697.9,174.5 L700.0,180.0 L701.6,186.5 L703.2,193.2 L704.5,200.0 L705.9,206.5 L706.3,213.5 L708.0,220.0 L707.9,225.9 L706.7,231.8 L705.6,237.7 L704.7,244.2 L704.0,250.0 L700.1,254.7 L696.6,259.9 L693.6,264.8 L690.0,270.0 L685.3,275.0 L680.3,279.8 L676.0,285.0 M600.0,40.0 L605.9,42.3 L611.3,46.2 L617.6,48.0 L623.0,51.6 L628.2,54.6 L634.3,56.6 L640.0,60.0 L644.4,64.5 L648.8,69.0 L652.8,73.7 L657.6,78.0 L662.7,81.7 L666.4,86.9 L671.0,90.9 L675.7,95.5 L680.0,100.0 L681.0,106.7 L682.6,112.9 L684.7,119.0 L685.9,125.9 L687.4,132.0 L689.0,138.5 L691.0,145.0 L697.5,145.7 L704.2,147.4 L710.2,147.5 L716.9,149.0 L723.5,149.4 L730.0,150.0 L736.0,148.3 L741.6,146.7 L747.4,144.8 L753.6,143.6 L759.1,142.0 L765.0,140.0 M708.0,220.0 L714.2,223.6 L720.9,225.7 L727.2,228.5 L733.4,232.4 L740.0,235.0 L746.0,235.8 L752.7,236.9 L758.6,237.6 L765.0,238.0 M676.0,285.0 L668.4,288.7 L660.0,292.0 L653.5,294.9 L646.5,296.7 L640.0,300.0 L634.9,302.8 L629.1,304.5 L623.4,307.0 L618.0,310.0 M676.0,285.0 L682.0,289.3 L688.2,292.6 L693.9,296.5 L700.0,300.0 L706.5,298.8 L713.3,298.6 L720.0,298.0 L726.3,294.8 L733.7,293.1 L740.0,290.0 L745.9,292.1 L752.3,292.9 L758.9,294.2 L765.0,296.0 M676.0,285.0 L676.3,291.2 L678.6,297.3 L679.2,303.9 L680.0,310.0 L684.7,315.5 L690.5,319.6 L694.7,325.1 L700.0,330.0 L705.4,334.9 L709.9,340.0 L714.7,345.0 L720.0,350.0 L720.5,356.0 L721.2,362.2 L722.9,367.9 L722.7,373.9 L724.0,380.0 L723.2,386.2 L722.4,392.0 L722.0,398.1 L721.4,403.9 L720.0,410.0 M603.0,312.0 L606.0,318.2 L609.5,323.5 L612.9,328.8 L616.2,334.5 L620.0,340.0 L624.6,343.5 L630.2,346.2 L635.2,350.1 L639.9,353.9 L645.2,356.6 L650.0,360.0 L655.8,362.3 L661.9,364.5 L668.1,366.0 L674.2,367.3 L680.0,370.0 L686.5,371.4 L693.2,373.2 L699.8,375.6 L706.4,376.5 L713.6,377.7 L720.0,380.0 M691.0,545.0 L697.2,541.2 L702.5,537.2 L708.5,532.9 L714.4,529.0 L720.0,525.0 L725.9,521.0 L732.3,517.5 L738.5,513.3 L745.0,510.0 L749.9,506.5 L755.1,503.0 L760.1,499.0 L765.0,495.0 M713.0,427.0 L719.6,426.7 L726.4,426.4 L733.3,425.8 L740.0,425.0 L746.0,423.4 L752.6,423.2 L758.7,420.7 L765.0,420.0 M700.0,440.0 L704.5,443.7 L709.9,447.1 L714.8,450.3 L719.9,453.4 L725.4,456.2 L730.0,460.0 L736.4,463.9 L743.6,466.5 L750.0,470.0 L757.7,470.7 L765.0,472.0 M660.0,690.0 L666.9,688.9 L673.5,687.3 L680.0,684.8 L686.5,683.6 L693.1,681.2 L700.0,680.0 L704.9,676.9 L709.9,673.6 L715.0,670.4 L719.7,666.4 L725.2,663.2 L730.0,660.0 L735.6,655.2 L740.3,650.0 L745.0,645.3 L750.0,640.0 M597.0,698.0 L601.9,702.2 L606.6,706.4 L610.8,711.6 L615.1,715.6 L620.0,720.0 L624.6,725.6 L630.2,729.7 L634.9,735.0 L640.0,740.0 L645.3,746.1 L650.0,753.0 M460.0,60.0 L465.2,63.7 L470.2,67.2 L475.3,70.7 L480.2,74.6 L485.1,79.0 L490.5,82.2 L495.3,86.1 L500.0,90.0 L505.9,92.5 L511.9,95.4 L517.0,99.1 L522.9,100.8 L529.0,103.7 L534.4,107.4 L540.0,110.0 L546.4,109.4 L553.1,108.8 L560.0,107.8 L566.5,107.1 L573.5,105.6 L580.0,105.0 L582.1,99.3 L583.3,93.0 L585.5,87.2 L587.1,81.3 L588.6,75.3 L590.8,69.8 L592.6,63.8 L595.1,57.9 L596.5,51.9 L598.3,45.7 L600.0,40.0 M520.0,175.0 L524.1,180.0 L527.9,184.8 L532.1,189.8 L536.3,194.5 L540.0,200.0 L543.3,204.9 L546.0,210.2 L550.3,214.9 L553.0,220.1 L557.1,224.8 L560.0,230.0 L561.9,236.0 L563.1,241.8 L563.8,247.7 L565.1,254.1 L566.0,260.0 L565.6,266.0 L566.4,272.1 L566.1,278.0 L565.4,283.8 L566.0,290.0" fill="none" stroke="#f2c9b2" stroke-width="0.9" stroke-linejoin="round" opacity="0.85"/>
<path d="M8.0,381.0 L14.3,384.1 L20.8,386.4 L27.2,389.0 L33.7,392.3 L40.0,395.0 L45.7,397.5 L51.3,399.9 L57.4,402.2 L63.0,404.1 L69.2,406.0 L75.0,408.0 L80.7,411.8 L87.0,414.1 L93.0,417.6 L98.1,421.7 L103.7,425.1 L110.0,428.0 L115.5,431.3 L121.4,435.3 L127.2,438.4 L133.0,441.1 L138.8,444.6 L144.4,448.9 L150.0,452.0 L155.7,454.9 L160.8,458.4 L166.6,461.3 L172.4,464.3 L177.8,467.5 L183.5,470.8 L188.8,474.0 L194.6,476.9 L200.0,480.0 L205.4,483.0 L211.5,485.0 L217.0,488.6 L223.4,490.9 L228.9,493.9 L234.0,497.6 L240.0,500.0 L245.3,502.8 L251.0,505.8 L256.7,508.4 L262.6,510.9 L267.9,513.8 L273.3,517.0 L279.1,519.2 L284.2,522.1 L290.0,525.0 L295.5,528.4 L301.6,530.8 L306.9,533.5 L312.6,537.1 L318.9,539.1 L324.4,541.8 L330.0,545.0 L335.7,547.5 L341.2,551.4 L347.2,553.3 L352.5,556.8 L358.2,559.8 L364.7,561.9 L370.0,565.0 L374.7,568.9 L379.8,572.8 L384.2,577.1 L388.7,582.1 L394.1,585.1 L397.9,590.2 L403.0,594.3 L408.0,598.0 M466.0,520.0 L470.0,524.6 L473.2,529.8 L476.0,535.3 L480.0,540.0 L486.7,542.2 L493.7,544.7 L500.0,548.0 L506.0,548.4 L512.1,548.8 L517.8,549.7 L523.7,550.1 L530.0,550.0 L536.1,550.1 L541.7,548.5 L548.1,548.4 L554.0,548.3 L560.0,548.0 L565.7,547.8 L572.2,547.7 L578.0,547.2 L584.0,546.8 L590.0,546.0 L596.3,546.3 L601.8,546.4 L607.8,547.1 L614.0,547.0 L620.0,548.0 L626.1,547.9 L632.1,546.3 L638.3,546.8 L643.9,545.7 L650.0,545.0 L656.6,544.9 L663.8,544.9 L670.7,544.7 L677.4,544.2 L684.0,543.2 L691.0,543.0 M691.0,145.0 L693.1,150.9 L694.4,156.7 L695.2,162.9 L696.6,168.6 L697.9,174.5 L700.0,180.0 L701.6,186.5 L703.2,193.2 L704.5,200.0 L705.9,206.5 L706.3,213.5 L708.0,220.0 L707.9,225.9 L706.7,231.8 L705.6,237.7 L704.7,244.2 L704.0,250.0 L700.1,254.7 L696.6,259.9 L693.6,264.8 L690.0,270.0 L685.3,275.0 L680.3,279.8 L676.0,285.0 M691.0,545.0 L697.2,541.2 L702.5,537.2 L708.5,532.9 L714.4,529.0 L720.0,525.0 L725.9,521.0 L732.3,517.5 L738.5,513.3 L745.0,510.0 L749.9,506.5 L755.1,503.0 L760.1,499.0 L765.0,495.0" fill="none" stroke="#f0b59c" stroke-width="0.9" stroke-linejoin="round" opacity="0.8"/>
</g>
<!--/ROADS-->
<!--ADMIN-->
<g>
<path d="M8.0,145.0 L82.0,145.0 M8.0,187.0 L81.0,187.0 M8.0,267.8 L36.4,267.8 L39.0,278.0 L51.4,288.6 M75.3,306.8 L75.3,457.4 M75.3,457.4 L65.0,469.0 M75.3,457.4 L88.0,468.0 M125.0,614.0 L125.0,753.0" fill="none" stroke="#9c9ca2" stroke-width="0.8"/>
<path d="M317.6,610.7 L321.7,611.0 L326.0,612.5 L330.0,613.0 L333.6,614.0 L337.6,614.3 L341.0,615.7 L344.1,617.3 L347.1,619.5 L349.7,622.2 L353.0,624.0 L356.0,626.3 L359.1,628.1 L361.9,630.2 L365.0,632.6 L368.2,635.6 L371.7,639.0 L375.0,642.0 L378.1,645.4 L381.7,647.9 L385.0,651.0 L388.6,652.7 L392.0,654.0 M184.0,500.8 L187.2,503.1 L191.1,504.5 L194.4,506.7 L197.3,509.5 L201.0,511.0 L204.6,512.2 L207.6,514.9 L211.4,516.0 L215.0,517.8 L218.4,520.4 L222.0,521.5 L225.3,523.7 L228.0,526.3 L230.7,529.0 L233.5,531.5 L236.5,534.0 L238.1,537.6 L239.9,541.0 L241.7,544.8 L242.7,548.6 L245.6,553.3 L249.0,557.0 L252.4,559.3 L255.9,561.5 L259.5,562.9 L262.7,565.1 L266.1,567.8 L269.7,569.4 L272.3,572.1 L275.7,574.1 L278.5,576.5 L281.0,578.9 L283.2,581.9 L286.4,584.0 L287.4,588.1 L289.5,591.7 L290.5,595.3 L294.3,596.2 L297.7,595.8 L301.1,596.4 L305.0,596.4 L307.3,600.3 L308.6,604.7 L311.3,608.8 L317.6,610.7 M75.3,433.5 L78.5,435.5 L82.0,436.4 L84.8,438.8 L88.0,440.0 L91.8,441.7 L95.5,443.3 L99.0,444.1 L102.8,446.3 L106.5,447.7 L110.2,449.1 L114.0,450.0 L117.6,451.7 L120.6,454.2 L123.9,455.9 L126.8,458.0 L130.0,460.5 L133.4,463.4 L136.9,465.5 L140.0,468.5 L146.0,471.0 M406.0,92.0 L406.6,88.6 L408.9,85.5 L409.1,81.8 L410.8,78.5 L412.0,75.0 L414.8,72.2 L417.1,68.6 L420.0,66.0 L422.2,62.2 L425.2,59.3 L427.2,55.3 L430.0,52.0 L432.2,48.7 L435.2,45.9 L437.1,42.6 L440.0,40.0 M436.0,104.0 L432.8,105.6 L429.9,107.7 L426.9,110.2 L424.0,112.0 L421.0,114.8 L418.3,117.3 L415.4,119.8 L412.0,122.0 M414.0,84.0 L416.3,86.6 L419.6,88.8 L422.6,91.5 L424.9,94.3 L427.4,96.8 L431.0,98.8 L433.2,101.4 L436.0,104.0 L439.2,102.0 L442.5,101.0 L445.6,99.2 L448.7,97.6 L452.0,96.0 L455.6,95.8 L459.4,95.5 L462.8,96.1 L466.2,96.1 L470.0,96.0 M692.0,547.5 L695.6,549.5 L699.0,551.0 L702.7,551.7 L706.0,553.0 L709.7,552.3 L713.3,551.2 L717.0,551.0 L720.8,550.6 L724.7,550.2 L728.7,550.0 L732.7,550.6 L736.0,552.0 L739.5,553.5 L742.7,556.0 L745.9,559.9 L749.0,564.0 L751.9,568.0 L754.0,572.8 L755.6,577.3 L757.0,582.0 L757.7,585.4 L759.1,588.8 L759.6,592.5 L759.4,595.9 L759.9,599.3 L760.9,602.8 L760.7,606.3 L761.0,610.0 L761.0,613.8 L761.5,618.0 L762.0,622.2 L762.4,626.0 L762.0,629.4 L761.8,632.9 L760.4,636.3 L760.0,640.0 L758.8,643.3 L758.6,647.2 L757.7,650.4 L756.8,654.0 L757.5,657.9 L759.2,661.2 L760.0,665.0 L760.3,668.8 L761.4,672.8 L762.0,677.0 M762.0,677.0 L758.6,679.5 L754.7,681.2 L751.0,683.0 L747.6,684.6 L743.5,685.9 L740.0,688.0 L735.7,689.0 L732.2,691.1 L728.0,692.0 L724.4,693.3 L720.5,695.1 L717.0,696.5 L712.5,698.6 L708.0,701.0 L704.3,702.8 L700.6,705.0 L697.0,705.8 L693.6,706.9 L690.0,708.0 L685.5,709.1 L681.0,710.5 L677.2,713.7 L673.0,716.0 L670.0,718.9 L666.8,721.8 L663.1,724.6 L660.0,728.0 L656.6,730.4 L652.8,733.0 L648.9,734.3 L645.0,736.0 L638.7,738.6 L636.4,741.0 L634.0,744.0 L632.0,747.0 L630.0,750.0 L628.0,753.0" fill="none" stroke="#8e8e99" stroke-width="0.9" stroke-linejoin="round"/>
<path d="M406.0,92.0 L406.6,88.6 L408.9,85.5 L409.1,81.8 L410.8,78.5 L412.0,75.0 L414.8,72.2 L417.1,68.6 L420.0,66.0 L422.2,62.2 L425.2,59.3 L427.2,55.3 L430.0,52.0 L432.2,48.7 L435.2,45.9 L437.1,42.6 L440.0,40.0 M692.0,547.5 L695.6,549.5 L699.0,551.0 L702.7,551.7 L706.0,553.0 L709.7,552.3 L713.3,551.2 L717.0,551.0 L720.8,550.6 L724.7,550.2 L728.7,550.0 L732.7,550.6 L736.0,552.0 L739.5,553.5 L742.7,556.0 L745.9,559.9 L749.0,564.0 L751.9,568.0 L754.0,572.8 L755.6,577.3 L757.0,582.0 L757.7,585.4 L759.1,588.8 L759.6,592.5 L759.4,595.9 L759.9,599.3 L760.9,602.8 L760.7,606.3 L761.0,610.0 L761.0,613.8 L761.5,618.0 L762.0,622.2 L762.4,626.0 L762.0,629.4 L761.8,632.9 L760.4,636.3 L760.0,640.0 L758.8,643.3 L758.6,647.2 L757.7,650.4 L756.8,654.0 L757.5,657.9 L759.2,661.2 L760.0,665.0 L760.3,668.8 L761.4,672.8 L762.0,677.0 M762.0,677.0 L758.6,679.5 L754.7,681.2 L751.0,683.0 L747.6,684.6 L743.5,685.9 L740.0,688.0 L735.7,689.0 L732.2,691.1 L728.0,692.0 L724.4,693.3 L720.5,695.1 L717.0,696.5 L712.5,698.6 L708.0,701.0 L704.3,702.8 L700.6,705.0 L697.0,705.8 L693.6,706.9 L690.0,708.0 L685.5,709.1 L681.0,710.5 L677.2,713.7 L673.0,716.0 L670.0,718.9 L666.8,721.8 L663.1,724.6 L660.0,728.0 L656.6,730.4 L652.8,733.0 L648.9,734.3 L645.0,736.0 L638.7,738.6 L636.4,741.0 L634.0,744.0 L632.0,747.0 L630.0,750.0 L628.0,753.0" fill="none" stroke="#b59fc6" stroke-width="2.6" opacity="0.5"/>
<path d="M692.0,547.5 L695.6,549.5 L699.0,551.0 L702.7,551.7 L706.0,553.0 L709.7,552.3 L713.3,551.2 L717.0,551.0 L720.8,550.6 L724.7,550.2 L728.7,550.0 L732.7,550.6 L736.0,552.0 L739.5,553.5 L742.7,556.0 L745.9,559.9 L749.0,564.0 L751.9,568.0 L754.0,572.8 L755.6,577.3 L757.0,582.0 L757.7,585.4 L759.1,588.8 L759.6,592.5 L759.4,595.9 L759.9,599.3 L760.9,602.8 L760.7,606.3 L761.0,610.0 L761.0,613.8 L761.5,618.0 L762.0,622.2 L762.4,626.0 L762.0,629.4 L761.8,632.9 L760.4,636.3 L760.0,640.0 L758.8,643.3 L758.6,647.2 L757.7,650.4 L756.8,654.0 L757.5,657.9 L759.2,661.2 L760.0,665.0 L760.3,668.8 L761.4,672.8 L762.0,677.0 M762.0,677.0 L758.6,679.5 L754.7,681.2 L751.0,683.0 L747.6,684.6 L743.5,685.9 L740.0,688.0 L735.7,689.0 L732.2,691.1 L728.0,692.0 L724.4,693.3 L720.5,695.1 L717.0,696.5 L712.5,698.6 L708.0,701.0 L704.3,702.8 L700.6,705.0 L697.0,705.8 L693.6,706.9 L690.0,708.0 L685.5,709.1 L681.0,710.5 L677.2,713.7 L673.0,716.0 L670.0,718.9 L666.8,721.8 L663.1,724.6 L660.0,728.0 L656.6,730.4 L652.8,733.0 L648.9,734.3 L645.0,736.0 L638.7,738.6 L636.4,741.0 L634.0,744.0 L632.0,747.0 L630.0,750.0 L628.0,753.0" fill="none" stroke="#7f7890" stroke-width="1.1"/>
</g>
<!--/ADMIN-->
<!--PYBORDER-->
<g fill="none" stroke-linejoin="round" stroke-linecap="round">
<path d="M51.3,288.7 L52.1,289.4 L53.1,290.5 L53.6,291.3 L54.9,291.7 L55.8,292.5 L56.5,292.9 L57.1,294.2 L57.7,295.5 L59.2,295.4 L59.9,296.2 L61.4,296.4 L62.0,297.5 L62.7,298.3 L63.9,298.9 L64.8,299.4 L65.6,299.9 L66.7,300.1 L67.5,301.0 L68.2,301.7 L69.1,302.3 L70.0,303.0 L70.9,303.5 L71.9,304.2 L72.9,304.8 L73.8,305.3 L74.7,306.1 L75.7,306.6 L76.9,307.2 L78.0,307.4 L79.1,308.0 L80.2,308.5 L81.1,309.3 L81.9,310.1 L82.8,310.6 L83.6,311.4 L83.3,312.8 L83.9,314.1 L84.2,315.1 L84.5,316.1 L85.5,316.9 L86.5,317.6 L86.4,318.8 L87.1,319.8 L87.3,320.9 L87.5,322.1 L88.5,322.8 L89.6,323.5 L90.3,324.3 L91.0,325.1 L91.6,326.2 L91.2,327.9 L91.5,329.1 L92.6,329.5 L93.4,330.1 L94.4,330.8 L95.5,331.0 L95.7,332.2 L95.2,333.8 L95.7,334.7 L96.3,335.5 L97.2,336.3 L99.0,336.4 L99.4,337.4 L99.0,338.7 L99.5,339.9 L99.3,341.1 L99.9,342.3 L101.7,342.4 L102.2,343.4 L102.8,344.3 L103.6,345.2 L103.9,346.4 L104.5,347.1 L105.5,347.3 L106.3,348.1 L107.5,348.6 L108.1,349.1 L108.1,350.8 L108.7,351.6 L109.7,352.3 L110.6,352.9 L112.1,353.3 L113.3,353.6 L113.4,355.1 L113.9,356.1 L114.5,356.9 L115.5,357.8 L116.6,358.3 L117.7,358.8 L118.3,359.8 L119.2,360.5 L119.5,361.5 L120.4,362.0 L121.3,362.8 L122.1,363.4 L122.9,364.0 L123.5,364.6 L124.4,365.4 L125.1,365.8 L126.1,366.3 L127.2,367.0 L127.8,367.7 L128.6,368.4 L129.5,369.1 L130.4,369.6 L131.5,369.8 L132.4,370.5 L133.4,371.3 L134.2,371.9 L134.8,372.8 L135.7,373.0 L136.8,373.4 L137.7,373.8 L138.5,374.5 L139.2,375.2 L139.9,376.1 L140.8,376.6 L141.7,376.9 L142.7,377.5 L143.9,377.7 L144.6,378.7 L145.3,379.6 L146.2,380.1 L147.1,380.6 L148.0,380.9 L149.0,381.4 L149.7,382.3 L150.4,383.2 L151.2,383.5 L152.4,383.5 L153.4,384.3 L154.0,385.2 L154.7,385.7 L155.9,386.3 L156.9,386.7 L157.5,387.5 L158.5,388.1 L159.5,388.5 L160.4,389.2 L161.4,389.7 L162.2,390.3 L163.0,390.6 L163.8,391.5 L164.9,391.8 L165.9,392.5 L166.7,392.9 L167.6,393.3 L168.6,393.9 L169.5,394.4 L170.4,394.9 L171.4,395.0 L172.0,395.9 L172.6,396.7 L173.9,396.8 L174.9,397.2 L175.0,398.7 L176.1,398.8 L177.2,399.2 L178.5,399.4 L178.1,401.5 L179.2,401.8 L180.4,402.1 L181.7,402.6 L182.0,403.9 L182.4,405.3 L184.0,404.9 L185.0,405.3 L185.8,406.0 L185.9,407.9 L187.0,408.6 L188.2,408.6 L189.6,408.7 L189.8,410.1 L190.6,411.0 L191.3,411.6 L192.7,411.7 L193.3,412.5 L194.0,413.7 L194.9,414.4 L195.9,414.7 L197.1,415.0 L198.3,415.3 L199.3,415.9 L200.1,416.9 L201.2,417.0 L202.3,417.2 L203.4,417.5 L204.4,417.8 L205.3,418.5 L206.4,418.3 L207.7,418.4 L208.6,418.5 L209.7,418.9 L210.8,419.2 L211.9,419.2 L212.8,419.4 L214.0,419.8 L215.0,420.1 L215.8,420.3 L217.0,420.4 L218.0,420.6 L219.1,420.7 L219.9,420.9 L221.0,421.1 L222.1,421.7 L222.9,421.5 L224.1,421.9 L224.9,422.0 L226.1,422.1 L227.0,422.5 L228.0,422.5 L229.1,422.5 L229.9,422.8 L230.9,423.4 L232.1,423.8 L233.1,423.5 L234.1,423.9 L235.2,424.0 L236.2,424.1 L237.2,424.3 L238.5,424.7 L239.4,424.9 L240.4,425.1 L241.4,425.2 L242.6,425.4 L243.3,425.7 L244.4,425.7 L245.7,425.3 L246.6,426.1 L247.5,426.6 L248.5,427.2 L249.5,426.7 L250.6,426.1 L251.5,426.8 L252.4,427.1 L253.4,428.5 L254.6,428.3 L255.6,428.0 L256.7,428.3 L257.4,429.6 L258.5,429.5 L259.4,429.8 L260.5,429.8 L261.6,430.3 L262.3,431.1 L263.4,431.6 L264.1,432.1 L265.2,432.4 L266.0,432.9 L266.8,433.5 L267.9,433.9 L268.7,434.6 L269.5,435.1 L270.5,435.5 L271.5,436.0 L272.0,436.7 L273.0,437.1 L274.1,437.5 L275.0,437.5 L275.7,438.7 L276.6,439.1 L277.5,439.7 L278.4,439.9 L279.2,440.4 L280.3,441.2 L281.1,441.9 L282.0,442.3 L283.1,442.7 L283.9,443.2 L284.8,443.8 L285.6,444.6 L286.8,444.9 L287.9,445.4 L288.9,445.5 L289.3,447.0 L290.3,447.5 L291.3,447.8 L292.4,447.4 L293.1,448.8 L294.0,449.4 L295.1,449.5 L296.1,450.1 L296.5,451.6 L298.1,451.0 L299.1,451.2 L299.4,453.1 L300.6,453.3 L302.2,453.1 L302.5,454.5 L303.3,455.4 L305.0,454.7 L305.4,455.8 L305.6,457.0 L307.3,456.3 L308.4,456.6 L308.2,458.9 L309.6,458.3 L311.1,457.8 L311.0,459.9 L311.9,460.5 L313.5,459.9 L314.1,461.2 L314.6,462.1 L315.8,462.0 L316.8,462.3 L317.4,463.1 L318.1,463.9 L319.3,464.3 L320.2,464.6 L320.8,465.4 L321.9,466.0 L322.6,466.4 L323.5,466.9 L324.4,467.7 L325.1,468.2 L326.1,468.8 L326.9,469.1 L328.0,469.9 L328.9,470.4 L329.8,471.0 L330.5,471.4 L331.4,472.3 L332.5,472.5 L333.2,473.4 L334.2,473.8 L335.0,474.3 L336.0,474.8 L336.5,475.7 L337.5,476.1 L338.4,476.8 L339.2,477.2 L340.1,477.8 L340.5,478.7 L341.8,478.8 L342.6,479.5 L343.4,480.2 L343.9,481.2 L344.9,481.3 L345.8,481.5 L347.3,481.3 L347.5,483.1 L348.3,483.6 L349.0,484.1 L350.6,483.7 L351.4,484.2 L352.1,485.3 L352.7,486.3 L353.6,486.5 L354.7,486.7 L355.5,487.3 L356.6,487.6 L357.3,488.2 L358.3,488.6 L359.1,488.9 L360.2,489.2 L361.1,489.8 L361.9,490.3 L362.7,490.8 L363.6,491.2 L364.6,491.7 L365.8,491.8 L366.6,492.4 L367.6,493.0 L368.5,493.5 L369.4,493.9 L370.4,494.2 L371.3,494.8 L372.3,495.1 L373.3,495.4 L374.2,496.0 L375.4,496.3 L376.1,497.1 L377.2,497.5 L378.2,497.8 L379.4,498.1 L380.3,498.4 L381.2,498.9 L381.9,499.8 L383.0,500.2 L384.0,500.2 L385.0,500.8 L386.1,501.2 L387.0,501.6 L387.8,502.1 L388.7,502.3 L389.9,502.8 L390.7,503.4 L391.7,503.5 L392.8,503.8 L393.8,504.2 L394.9,504.5 L396.0,504.8 L397.1,505.2 L398.1,505.6 L399.2,505.9 L400.2,506.3 L401.1,506.5 L402.2,506.7 L403.5,506.7 L404.6,506.7 L405.5,507.2 L406.5,507.7 L407.7,507.5 L408.7,507.5 L409.8,507.5 L411.0,507.1 L412.0,507.0 L413.4,507.7 L414.3,508.7 L415.5,509.0 L416.3,509.0 L417.4,509.6 L418.6,509.3 L419.9,508.9 L421.1,509.2 L422.1,510.3 L423.1,510.8 L424.2,511.4 L425.0,512.3 L425.8,513.1 L427.3,512.7 L428.8,512.3 L429.7,512.8 L430.4,513.5 L431.2,514.2 L432.0,514.9 L432.3,516.0 L433.2,516.9 L434.3,516.8 L435.5,517.1 L436.5,517.7 L437.4,518.3 L438.8,518.7 L439.1,519.8 L439.2,521.3 L439.6,522.2 L440.8,522.7 L441.4,523.5 L442.6,523.8 L443.7,524.1 L444.1,525.3 L444.1,526.5 L444.7,527.4 L445.2,528.1 L446.0,529.0 L447.1,530.1 M447.0,530.0 L448.0,530.9 L448.0,532.0 L448.2,533.5 L447.1,534.9 L447.3,535.9 L451.0,536.2 L451.5,537.3 L451.2,538.7 L450.8,539.7 L447.3,540.2 L447.9,541.4 L449.4,543.1 L449.2,544.1 L450.5,545.9 L448.9,546.6 L445.2,546.7 L445.3,547.9 L445.4,549.1 L445.4,550.5 L448.2,552.4 L446.4,553.1 L443.6,553.4 L443.0,554.2 L441.2,554.3 L443.5,556.8 L444.6,558.7 L442.7,558.8 L441.8,559.4 L437.9,558.3 L440.8,561.1 L440.7,562.3 L441.5,564.2 L437.0,563.0 L437.3,564.3 L437.6,565.8 L438.7,567.8 L435.8,567.5 L435.4,568.8 L436.6,570.7 L436.0,571.5 L434.8,572.4 L432.0,572.4 L435.1,574.8 L434.8,575.9 L435.1,577.0 L431.9,577.2 L429.9,577.6 L432.0,579.4 L432.0,580.8 L434.5,582.5 L431.5,582.7 L429.6,583.3 L429.5,584.4 L429.2,585.6 L431.5,587.3 L431.5,588.7 L429.2,588.9 L428.3,589.7 L426.1,589.7 L427.3,591.8 L427.9,593.6 L426.8,594.4 L425.2,594.2 L423.5,593.6 L423.1,595.0 L422.1,595.8 L421.2,596.6 L420.4,597.1 L419.0,596.5 L418.1,596.9 L417.3,597.5 L416.1,598.0 L415.0,598.9 L414.3,599.7 L413.0,599.4 L411.4,599.2 L410.6,599.9 L409.0,600.0 L409.0,601.4 L409.8,603.4 L409.5,604.3 L408.0,604.3 L407.9,605.5 L406.5,606.0 L404.8,606.5 L404.4,607.7 L406.0,609.4 L406.1,610.5 L405.8,611.6 L405.6,612.7 L406.1,613.6 L405.0,614.5 L403.2,615.2 L402.8,615.9 L403.1,617.1 L403.1,618.1 L402.7,619.3 L402.9,620.5 L402.9,621.6 L402.6,622.8 L402.1,623.8 L401.9,624.7 L401.2,625.8 L400.8,627.0 L400.4,628.0 L400.6,629.3 L401.7,630.6 L402.4,631.8 L401.0,633.0 L400.4,634.0 L400.5,635.4 L399.9,636.2 L398.8,637.0 L398.6,638.0 L399.1,639.2 L399.1,640.2 L398.6,641.1 L398.4,642.1 L398.2,643.0 L397.2,643.9 L395.8,644.3 L394.8,645.1 L395.3,646.3 L395.3,647.5 L394.8,648.5 L394.6,649.7 L395.2,651.1 L394.5,651.7 L393.3,652.4 L392.4,652.9 L391.6,653.8 L390.9,654.5 L390.6,655.2 L389.8,656.1 L389.4,657.1 L388.9,658.1 L388.6,659.0 L387.3,659.3 L386.9,660.3 L386.0,660.9 L385.0,661.9 L384.2,662.7 L383.3,663.4 L382.4,664.2 L381.4,665.0 L380.6,665.9 L379.8,666.7 L379.1,667.4 L378.4,668.2 L377.5,669.0 L376.6,669.6 L375.6,669.8 L374.1,670.1 L373.3,670.7 L372.7,671.5 L372.1,672.7 L371.4,673.6 L370.6,674.1 L370.1,675.2 L370.2,676.7 L370.2,677.6 L368.6,678.2 L366.4,678.7 L365.8,679.8 L366.2,681.3 L367.1,682.3 L367.5,683.6 L367.7,684.7 L369.0,685.3 L370.3,685.6 L370.7,686.7 L371.6,688.5 M371.5,688.3 L372.8,688.2 L373.9,687.8 L375.1,687.8 L376.1,687.8 L377.1,687.6 L378.2,688.1 L379.4,687.6 L380.4,687.0 L381.7,686.7 L382.7,686.7 L384.0,686.8 L385.0,686.6 L386.1,686.8 L387.3,686.6 L388.4,686.3 L389.6,686.0 L390.7,685.9 L391.8,685.6 L392.9,685.8 L394.2,686.2 L395.1,686.3 L396.3,686.1 L397.3,685.8 L398.7,685.3 L399.8,685.4 L400.8,685.7 L402.1,685.8 L403.2,685.8 L404.2,685.5 L405.2,685.0 L406.5,685.1 L407.7,685.2 L408.8,685.7 L409.9,685.5 L410.9,685.1 L412.1,685.2 L413.3,684.9 L414.2,685.7 L415.5,685.8 L416.6,685.7 L417.7,685.6 L418.8,685.2 L420.0,686.2 L421.1,686.3 L422.2,686.5 L423.1,686.5 L424.3,686.2 L425.4,686.6 L426.4,686.9 L427.3,687.4 L428.2,687.8 L429.3,687.5 L430.3,687.5 L431.2,687.7 L432.3,688.0 L433.4,688.5 L434.2,689.1 L435.4,689.3 L436.4,689.2 L437.5,689.5 L438.7,689.6 L440.0,689.8 L441.0,690.3 L442.1,690.7 L443.1,690.9 L444.2,691.3 L445.3,691.4 L446.5,691.4 L447.5,692.1 L448.4,692.3 L449.5,692.9 L450.4,693.1 L451.5,692.9 L452.5,693.4 L453.3,693.5 L454.2,693.9 L455.4,694.6 L456.1,694.7 L457.3,695.0 L458.3,695.2 L459.6,695.7 L460.4,695.9 L461.4,696.4 L462.5,696.9 L463.4,697.1 L464.4,697.3 L465.5,697.0 L466.6,697.2 L467.5,697.6 L468.4,698.0 L469.4,698.3 L470.4,698.5 L471.5,697.9 L472.5,698.2 L473.6,698.3 L474.4,698.6 L475.6,699.2 L476.5,699.0 L477.4,698.8 L478.5,699.0 L479.5,698.8 L480.6,699.3 L481.5,699.9 L482.4,699.6 L483.6,699.7 L484.5,699.8 L485.7,699.4 L486.8,699.8 L488.1,700.3 L489.2,700.4 L490.4,700.8 L491.2,700.9 L492.5,700.5 L493.4,700.8 L494.7,701.2 L495.7,701.3 L496.9,701.6 L497.8,702.0 L498.7,702.1 L499.8,702.2 L500.7,702.5 L501.9,702.6 L502.8,702.8 L503.6,703.5 L504.7,703.9 L506.0,704.1 L506.9,704.4 L508.1,704.6 L509.1,704.8 L510.0,705.4 L511.2,705.9 L512.2,706.1 L513.1,706.6 L514.0,706.5 L515.3,706.4 L516.0,706.9 L517.1,707.6 L518.1,707.7 L519.1,708.1 L519.9,708.4 L521.1,708.7 L522.0,708.8 L523.1,708.9 L524.0,709.1 L525.1,709.4 L526.5,709.8 L527.4,710.2 L528.6,710.8 L529.6,710.8 L530.8,711.1 L531.9,711.2 L533.1,711.5 L534.2,711.8 L535.3,712.1 L536.2,712.2 L537.5,712.3 L538.5,711.9 L539.6,711.8 L540.4,711.8 L541.4,711.2 L542.5,710.5 L543.6,710.4 L544.6,709.6 L545.6,709.2 L546.5,708.5 L547.4,708.0 L548.4,707.5 L549.0,706.6 L549.9,705.7 L550.6,705.0 L551.6,704.4 L552.4,703.6 L553.2,702.9 L554.3,702.1 L554.6,701.3 L555.4,700.4 L556.1,699.5 L556.8,698.7 L557.6,697.8 L558.3,697.1 L559.4,696.6 L559.9,695.9 L560.5,694.9 L561.2,694.2 L561.9,693.3 L562.7,692.3 L563.7,691.7 L564.7,691.4 L566.0,690.9 L567.1,690.4 L568.1,690.0 L569.1,689.6 L570.4,689.3 L571.5,689.4 L572.5,689.5 L573.6,689.4 L574.5,689.8 L575.5,690.0 L576.5,689.9 L577.5,689.9 L578.8,690.2 L579.9,690.3 L581.0,690.7 L581.9,691.2 L582.8,692.1 L583.8,692.3 L584.7,692.3 L585.9,692.6 L586.6,693.0 L587.6,693.3 M587.8,693.3 L588.6,694.6 L590.1,694.9 L591.5,695.5 L592.4,697.0 L593.5,698.0 L594.9,698.4 L596.1,700.0 L597.2,699.9 L598.4,697.5 L599.1,696.2 L600.2,696.9 L601.1,696.4 L602.3,696.9 L604.3,698.9 L605.4,697.8 L605.8,696.1 L606.9,695.4 L607.7,694.2 L608.3,693.1 L610.1,693.7 L611.8,693.0 L611.3,691.5 L610.9,690.3 L608.4,689.1 L609.9,687.7 L610.1,686.4 L610.8,685.1 L609.8,684.0 L609.6,682.8 L610.1,681.9 L610.6,681.1 L611.3,680.2 L611.0,678.7 L611.3,677.6 L611.9,676.2 L613.1,675.7 L613.8,674.4 L614.6,673.5 L615.8,672.5 L616.6,671.8 L617.4,671.0 L618.2,670.4 L619.3,669.6 L620.1,668.8 L620.9,668.3 L621.7,667.8 L623.1,668.0 L624.2,668.3 L624.4,666.2 L625.5,665.3 L626.5,664.6 L627.4,664.2 L629.7,666.1 L630.3,664.9 L631.2,663.8 L631.9,662.6 L632.7,661.4 L634.3,662.7 L635.6,662.7 L636.4,662.3 L637.3,661.2 L637.6,659.9 L639.0,660.5 L640.1,660.1 L641.2,659.3 L642.2,658.8 L643.2,658.1 L644.6,657.3 L645.7,657.0 L647.1,657.1 L648.0,656.1 L649.1,655.6 L650.1,655.1 L651.0,654.5 L652.1,654.1 L653.3,653.6 L654.2,653.0 L655.1,652.3 L654.7,650.2 L655.8,649.6 L657.4,650.2 L658.2,649.1 L659.5,648.8 L658.9,646.6 L660.0,646.1 L660.8,645.2 L663.4,646.5 L664.0,645.4 L663.6,643.1 L664.2,641.9 L664.9,641.2 L667.8,642.6 L667.7,640.9 L668.6,639.7 L667.9,637.7 L670.2,637.9 L670.9,637.1 L671.9,636.8 L671.9,635.3 L672.7,634.6 L673.5,633.7 L674.6,632.8 L675.6,631.8 L676.0,630.6 L676.7,629.8 L677.6,628.8 L679.0,628.4 L679.0,626.9 L679.4,625.8 L679.1,624.4 L680.1,623.6 L681.4,623.0 L681.3,622.0 L681.7,620.8 L680.5,619.5 L681.6,618.8 L682.4,617.9 L683.0,617.1 L683.3,615.9 L683.1,614.7 L683.2,613.9 L683.8,612.9 L684.5,612.1 L684.7,611.1 L684.9,609.9 L685.4,609.0 L685.2,607.9 L685.8,607.0 L686.6,606.0 L686.7,605.1 L687.0,604.1 M687.1,603.9 L687.1,602.8 L686.8,601.6 L686.2,600.5 L686.4,599.5 L686.7,598.4 L686.9,597.6 L687.1,596.5 L686.1,595.5 L685.6,594.7 L685.9,593.4 L685.7,592.5 L686.7,591.3 L686.5,590.2 L685.9,589.1 L685.7,588.0 L685.5,586.8 L685.9,585.7 L686.4,584.8 L686.2,583.7 L686.2,582.7 L686.1,581.9 L685.8,580.6 L685.8,579.5 L686.4,578.4 L686.6,577.5 L686.9,576.5 L687.4,575.2 L687.4,574.3 L687.7,573.1 L687.9,572.2 L688.6,571.2 L689.0,570.3 L689.3,569.4 L689.6,568.5 L689.8,567.5 L690.3,566.5 L690.4,565.4 L690.8,564.4 L690.8,563.4 L691.4,562.6 L691.5,561.6 L691.6,560.5 L691.6,559.4 L691.6,558.2 L691.1,557.3 L691.5,556.1 L691.3,554.9 L691.1,554.1 L691.1,553.0 L691.1,551.8 L690.7,550.7 L689.8,549.4 L689.7,548.2 L690.2,547.0 L690.5,545.8 L690.6,544.8 L691.7,543.7 L692.2,542.7 L692.2,541.3 L692.4,540.2 L692.7,539.3 L693.4,538.4 L693.5,537.5 L694.3,536.5 L695.7,535.8 L696.6,535.2 L696.7,534.0 L697.0,533.1 L697.6,532.2 L697.1,530.9 L697.8,529.8 L699.1,529.3 L699.5,528.3 L699.9,527.2 L699.8,526.0 L699.1,524.6 L699.5,523.5 L700.4,522.6 L700.8,521.8 L701.8,521.1 L700.8,519.6 L700.9,518.6 L701.2,517.5 L701.6,516.6 L703.0,515.6 L702.9,514.4 L702.8,513.3 L703.0,512.1 L702.3,510.7 L702.8,509.6 L704.2,508.7 L704.3,507.6 L704.2,506.5 L704.0,505.6 L703.3,504.4 L703.9,503.3 L704.7,502.6 L705.0,501.6 L705.4,500.7 L704.8,499.4 L704.4,498.2 L704.9,497.2 L705.3,495.9 L705.6,495.0 L706.2,493.9 L706.3,492.8 L706.0,491.5 L706.3,490.4 L706.2,489.2 L707.1,488.5 L708.1,487.3 L708.0,486.3 L708.0,485.2 L707.7,483.9 L707.7,482.6 L709.2,482.1 L709.9,481.2 L710.5,480.3 L710.5,478.9 L710.2,477.7 L711.1,477.0 L711.7,476.0 L712.6,475.3 L713.7,474.6 L713.3,473.2 L713.0,471.7 L713.4,470.8 L713.5,469.4 L713.9,468.8 L714.9,467.7 L715.5,466.9 L714.9,465.7 L715.0,464.6 L715.0,463.6 L714.4,462.5 L715.0,461.3 L716.0,460.3 L716.2,459.4 L716.0,458.4 L716.3,457.2 L715.9,456.1 L715.2,455.2 L715.7,454.0 L716.2,453.2 L716.5,452.0 L717.2,450.9 L716.9,449.8 L716.3,448.4 L716.3,447.3 L716.4,446.2 L716.6,445.3 L717.2,444.2 L716.9,443.1 L716.4,442.2 L716.1,440.9 L715.7,439.7 L715.3,438.5 L715.8,437.2 L715.7,436.3 L715.0,435.0 L714.9,434.1 L714.4,433.1 L714.1,431.9 L714.1,430.9 L713.6,430.0 L713.6,429.0 L713.2,428.0 L712.9,427.0 M712.9,427.1 L712.2,426.2 L711.3,425.2 L710.1,424.7 L709.2,423.8 L708.4,422.8 L707.8,421.7 L707.3,420.6 L706.2,420.0 L705.1,419.6 L703.8,419.2 L702.8,418.4 L702.5,416.9 L701.4,416.4 L700.4,416.0 L699.2,415.8 L698.0,415.7 L697.6,414.8 L696.7,414.1 L695.4,413.6 L694.2,413.1 L692.9,412.8 L691.5,412.4 L690.3,412.3 L689.1,412.0 L688.0,411.6 L686.7,412.1 L685.6,412.0 L684.4,412.6 L683.3,412.5 L682.2,412.6 L681.1,413.2 L680.2,413.8 L679.5,414.4 L678.5,414.9 L677.3,415.1 L676.3,415.5 L675.1,415.9 L674.6,417.0 L673.8,417.7 L672.4,417.7 L671.6,418.3 L670.2,417.9 L669.6,419.4 L668.6,420.3 L667.7,420.9 L666.4,420.4 L665.4,420.5 L664.6,421.2 L663.6,422.1 L662.8,422.3 L661.4,421.5 L660.5,421.8 L659.4,422.5 L658.7,423.2 L657.4,422.5 L656.5,422.0 L655.5,422.0 L654.4,423.5 L653.6,423.3 L652.4,423.1 L651.3,422.0 L650.3,422.6 L649.3,423.3 L648.3,423.6 L647.1,424.4 L645.9,423.3 L644.8,423.0 L643.9,423.3 L642.9,423.6 L642.1,424.9 L641.1,424.4 L640.0,423.8 L638.9,423.7 L638.0,423.6 L637.0,424.8 L636.1,424.7 L634.9,424.3 L633.9,423.7 L633.1,423.4 L631.8,424.4 L630.7,424.1 L629.5,423.8 L629.1,422.5 L627.9,422.4 L627.3,421.9 L626.1,421.3 L625.2,420.5 L625.5,419.2 L625.3,417.9 L625.7,416.9 L624.5,415.9 L623.6,415.1 L624.4,413.9 L624.3,412.5 L625.0,411.4 L623.7,410.5 L623.5,409.4 L623.0,408.4 L624.2,407.1 L624.4,405.9 L623.4,405.0 L623.1,403.9 L622.5,402.8 L623.4,401.5 L622.7,400.6 L622.7,399.3 L621.5,398.7 L620.9,397.7 L620.7,396.5 L620.4,395.4 L620.3,393.8 L618.3,393.2 L618.0,392.1 L617.8,391.1 L618.9,389.8 L618.7,388.9 L618.2,387.7 L617.5,386.7 L618.0,385.5 L619.4,384.5 L619.0,383.6 L618.7,382.6 L617.5,381.3 L618.1,380.3 L618.9,379.2 L619.2,378.0 L619.6,377.0 L619.0,375.6 L618.2,374.5 L618.3,373.4 L618.5,372.4 L618.9,371.4 L619.7,370.5 L618.5,369.4 L618.1,368.5 L617.6,367.5 L617.9,366.5 L618.8,365.2 L618.1,364.4 L617.6,363.3 L616.6,362.6 L616.5,361.4 L616.9,360.1 L616.4,359.3 L616.2,358.2 L615.6,357.6 L614.4,356.9 L614.4,355.9 L614.3,354.9 L614.2,353.6 L614.1,352.4 L612.8,351.9 L612.3,350.8 L611.8,349.8 L612.0,348.5 L611.9,347.0 L610.9,346.3 L610.3,345.2 L609.7,344.1 L610.9,342.8 L610.6,341.8 L610.0,340.7 L609.8,339.7 L610.1,338.5 L610.9,337.6 L609.8,336.2 L610.1,335.2 L610.3,334.2 L611.7,333.2 L610.5,331.9 L610.5,330.7 L610.1,329.5 L611.7,328.6 L611.5,327.2 L610.9,326.2 L610.5,325.2 L611.1,323.8 L611.4,322.8 L611.0,321.7 L609.9,320.6 L610.0,319.3 L610.4,317.6 L608.6,317.4 L607.6,317.2 L607.8,315.4 L606.3,314.9 L604.9,314.5 L604.5,313.6 L604.0,312.6 L603.4,311.9 L602.2,311.3 L602.3,310.3 L602.6,308.9 L601.2,308.4 L600.8,307.5 L600.3,306.6 L600.4,305.4 L599.7,304.7 L598.7,304.1 L599.3,302.6 L598.7,301.9 L598.3,300.8 L596.9,300.3 L597.0,299.2 L596.8,298.3 L596.6,297.2 L596.0,296.3 L594.8,295.7 L594.7,294.9 L594.4,293.8 L594.0,292.6 L593.7,291.7 L592.2,291.6 L591.3,291.3 L590.3,290.9 L589.6,290.1 L588.5,290.2 L587.6,290.3 L586.4,290.3 L585.3,290.2 L584.2,290.5 L583.2,290.3 L581.9,290.4 L581.0,290.4 L579.8,290.5 L578.8,290.4 L577.5,290.5 L576.5,290.4 L575.5,290.4 L574.4,290.1 L573.6,289.9 L572.4,290.1 L571.5,290.2 L570.4,290.3 L569.6,290.1 L568.4,289.9 L567.5,289.6 L566.5,289.7 L565.4,289.4 L564.5,289.4 L563.5,289.0 L562.7,288.3 L561.5,287.9 L560.3,287.1 L558.9,286.3 L557.8,286.0 L556.2,286.0 L555.4,284.8 L554.6,283.5 L554.0,282.6 L553.7,281.4 L553.4,280.1 L552.5,279.1 L551.4,278.1 L550.9,276.9 L550.5,275.8 L549.5,275.2 L548.8,274.3 L548.0,273.8 L547.1,273.3 L545.2,273.0 L543.4,273.2 L542.4,273.8 L541.1,274.5 L540.1,275.5 L539.5,276.3 L538.2,276.8 L537.2,277.3 L536.4,278.1 L535.7,279.1 L534.8,279.7 L534.2,280.6 L533.5,281.6 L532.5,282.3 L531.4,283.1 L529.8,284.0 L528.5,284.5 L527.0,284.8 L526.2,284.8 M526.3,284.8 L525.2,285.0 L523.9,285.3 L522.9,285.1 L521.6,285.0 L520.6,286.4 L519.5,286.3 L518.6,286.6 L517.3,286.4 L516.2,286.8 L515.5,287.5 L514.4,288.3 L513.4,288.7 L512.1,288.8 L511.0,289.2 L509.7,289.4 L508.6,288.9 L507.5,287.8 L506.6,287.5 L505.8,286.8 L504.6,286.8 L503.4,286.3 L502.4,285.8 L501.0,285.3 L499.8,285.1 L498.5,285.0 L497.6,284.5 L496.1,284.4 L495.1,284.8 L494.1,284.0 L493.1,284.2 L492.1,284.2 L491.1,284.1 L490.1,284.0 L488.9,284.0 L487.9,284.2 L486.8,283.6 L485.6,284.1 L484.5,284.2 L483.4,284.1 L482.3,284.1 L481.2,284.9 L479.9,284.3 L478.8,283.9 L477.8,285.3 L476.5,285.2 L475.5,285.8 L474.7,285.5 L473.5,285.8 L472.5,286.0 L471.5,285.2 L470.3,285.1 L469.2,284.8 L468.5,284.2 L467.6,283.4 L466.3,284.0 L465.2,283.3 L464.7,282.2 L463.3,282.9 L462.4,282.7 L461.4,281.9 L460.7,281.3 L459.5,281.2 L458.4,281.6 L457.6,280.9 L456.7,280.5 L455.6,280.2 L454.5,280.1 L453.4,279.5 L452.6,278.9 L451.4,278.3 L450.5,277.8 L449.6,276.9 L448.4,276.4 L446.8,275.8 L445.7,275.6 L444.8,274.6 L443.9,274.8 L442.8,274.9 L441.8,274.8 L441.0,274.9 L439.6,274.9 L438.4,275.2 L437.4,274.9 L436.3,275.4 L435.0,275.6 L433.8,275.1 L432.9,275.1 L431.6,275.2 L430.4,275.0 L429.4,274.9 L428.4,274.9 L427.3,274.5 L426.5,273.8 L425.2,274.2 L424.3,274.1 L422.9,273.5 L421.7,273.5 M465.1,385.5 L464.7,384.5 L464.1,383.6 L462.8,383.0 L462.5,382.0 L462.7,380.7 L462.1,380.0 L462.1,378.8 L461.9,377.9 L460.1,377.3 L460.1,375.9 L460.0,375.0 L461.1,373.8 L461.3,372.4 L459.6,371.7 L458.9,370.9 L457.3,370.8 L457.2,369.5 L458.1,367.1 L457.7,366.0 L456.6,365.6 L455.3,365.2 L452.1,366.8 L452.6,365.0 L453.2,362.6 L452.1,361.8 L451.9,360.6 L449.7,361.4 L448.7,361.0 L448.4,359.8 L448.1,358.7 L448.3,357.2 L446.4,357.4 L445.2,357.0 L443.8,357.1 L445.2,354.3 L444.2,353.7 L442.8,353.4 L440.4,353.9 L442.0,351.3 L441.7,350.3 L439.5,350.7 L439.0,349.7 L438.9,348.5 L440.0,346.8 L436.9,347.5 L436.1,346.6 L437.5,344.7 L437.5,343.6 L435.8,343.3 L433.3,343.2 L436.3,340.6 L435.3,339.7 L433.9,339.2 L432.0,338.9 L432.9,337.2 L434.0,335.7 L431.9,335.6 L430.6,334.9 L430.7,333.7 L432.2,332.0 L430.2,331.6 L429.4,330.9 L428.6,329.9 L430.9,327.9 L429.7,327.2 L428.9,326.4 L426.1,326.0 L428.5,324.2 L429.6,323.0 L427.5,322.3 L426.8,321.3 L427.2,320.1 L429.2,319.1 L427.0,318.0 L427.1,316.9 L426.7,315.8 L430.2,315.5 L429.0,314.2 L428.8,313.1 L426.1,311.3 L427.9,310.6 L430.4,309.9 L430.6,308.5 L430.7,307.6 L428.6,305.9 L429.2,304.8 L430.3,304.0 L432.4,303.0 L432.3,301.8 L429.7,300.5 L429.4,299.3 L433.3,298.2 L431.8,297.1 L430.4,296.2 L428.5,295.3 L432.2,293.4 L431.2,292.7 L429.2,292.0 L427.1,291.8 L429.4,289.9 L430.2,288.3 L428.8,287.6 L425.9,287.4 L426.1,286.3 L427.8,284.2 L428.8,282.9 L425.7,282.7 L425.1,281.9 L423.2,281.6 L426.0,279.3 L425.3,278.4 L424.5,277.7 L421.3,277.6 L423.7,275.7 L423.6,274.5 L424.0,273.4 L422.0,272.7 L422.0,271.5 L422.3,270.3 L422.3,269.4 L422.4,268.4 L422.0,267.2 L422.4,266.1 L423.2,265.3 L423.0,264.3 L421.0,263.0 L421.9,262.1 L423.7,261.2 L423.6,260.2 L423.4,259.1 L421.4,258.1 L422.8,257.1 L424.0,256.0 L423.7,255.1 L422.5,254.0 L422.2,253.0 L424.9,252.0 L423.5,251.1 L423.1,249.8 L423.0,248.9 L424.4,248.0 L424.5,247.1 L423.0,245.8 L423.6,244.9 L424.2,244.0 L425.0,242.8 L423.2,241.6 L423.4,240.6 L424.8,239.4 L425.3,238.4 L424.5,237.2 L423.9,236.2 L425.1,235.0 L425.4,234.2 L425.0,233.0 L424.6,231.7 L425.7,230.8 L426.7,229.9 L424.8,228.4 L425.1,227.6 L425.6,226.4 L427.2,225.7 L426.1,224.5 L425.8,223.2 L426.6,222.2 L428.1,221.5 L427.8,220.3 L425.3,218.6 L428.5,218.2 L429.2,217.1 L429.0,215.9 L426.0,214.3 L428.0,213.7 L430.3,213.0 L429.8,211.8 L427.7,210.2 L427.6,209.1 L430.7,208.7 L431.7,207.8 L430.1,206.6 L428.4,204.9 L429.4,204.1 L432.7,204.1 L432.3,202.9 L432.9,201.9 L430.9,200.4 L429.4,198.8 L431.6,198.3 L432.6,197.2 L433.5,196.1 L434.7,195.1 L432.2,193.6 L431.7,192.6 L432.3,191.6 L432.7,190.4 L435.5,189.5 L435.7,188.6 L433.1,187.4 L433.0,186.3 L431.1,185.4 L431.9,184.4 L435.2,183.0 L434.3,182.0 L434.1,181.0 L431.9,180.3 L429.1,180.0 L430.9,178.3 L432.2,176.5 L432.0,175.5 L432.9,173.9 L430.8,173.4 L427.7,173.7 L428.2,172.3 L428.3,170.9 L428.1,169.9 L430.0,167.8 L429.5,166.9 L426.8,167.1 L425.8,166.2 L425.0,165.6 L424.4,164.6 L426.7,162.4 L427.4,160.9 L425.4,160.5 L425.0,159.7 L423.2,159.0 L422.8,158.1 L423.8,156.7 L423.7,155.8 L423.6,154.7 L423.2,153.9 L421.1,153.3 L421.4,152.0 L421.7,150.9 L422.0,149.9 L422.3,148.8 L420.5,147.9 L420.1,147.1 L419.3,146.3 L420.5,144.9 L421.2,143.7 L419.8,142.9 L418.0,142.7 L418.7,141.0 L419.4,139.6 L418.9,138.5 L415.0,140.0 L417.0,137.2 L417.5,135.3 L415.2,135.6 L413.5,135.8 L412.8,134.8 L415.6,131.2 L412.4,132.2 L411.3,131.7 L409.7,131.3 L411.9,128.6 L410.9,128.2 L410.1,127.3 L408.3,127.4 L408.5,126.1 M465.1,385.6 L465.4,386.8 L466.5,387.3 L467.6,387.7 L468.0,389.2 L467.9,390.4 L468.3,391.2 L469.1,392.2 L470.4,393.0 L471.2,393.8 L471.5,394.8 L472.0,396.0 L471.6,397.7 L473.3,398.0 L474.2,398.8 L475.7,399.4 L475.8,400.5 L474.2,402.4 L475.5,402.9 L475.6,403.7 L477.6,404.3 L478.6,405.1 L477.0,406.6 L477.2,407.7 L476.2,409.1 L478.3,409.7 L480.2,410.0 L479.8,411.5 L479.8,412.7 L478.1,414.0 L477.5,415.2 L480.6,415.9 L481.1,417.0 L482.1,417.9 L479.5,419.5 L479.7,420.4 L480.3,421.2 L481.0,422.1 L481.1,423.2 L480.8,424.1 L480.9,425.1 L481.1,426.3 L481.0,427.3 L481.7,428.4 L481.4,429.5 L481.5,430.7 L480.8,431.9 L481.3,432.9 L481.6,434.0 L481.6,435.0 L481.5,436.1 L481.4,437.3 L481.4,438.3 L481.7,439.4 L481.7,440.4 L482.3,441.6 L481.8,442.6 L481.3,443.7 L481.7,444.7 L481.6,446.0 L482.8,446.7 L482.6,447.9 L482.3,449.2 L482.4,450.2 L482.2,451.4 L482.6,452.5 L482.9,453.5 L482.9,454.4 L483.1,455.5 L483.3,456.7 L483.4,457.8 L483.7,458.7 L483.8,459.9 L484.2,461.2 L484.4,462.3 L484.3,463.5 L484.4,464.5 L485.9,465.2 L486.1,466.4 L485.9,467.7 L485.8,468.7 L485.9,469.8 L485.8,470.9 L485.9,472.0 L486.1,473.3 L485.8,474.1 L485.8,475.1 L485.6,476.3 L485.3,477.3 L484.9,478.2 L485.7,479.4 L484.6,480.4 L483.8,481.5 L483.0,482.3 L484.3,484.1 L484.4,485.3 L483.2,486.3 L481.8,486.8 L481.3,487.8 L482.8,489.4 L482.3,490.5 L482.0,491.6 L479.5,491.8 L480.4,493.4 L480.1,494.4 L481.6,496.0 L479.0,496.1 L478.0,496.8 L477.7,497.8 L478.7,499.5 L478.3,500.6 L476.3,501.0 L475.3,501.6 L473.9,502.0 L475.4,504.4 L474.5,505.1 L474.1,506.5 L470.8,505.2 L471.0,506.9 L471.2,508.5 L471.6,510.3 L470.0,510.4 L467.5,509.7 L467.3,511.0 L467.3,512.5 L466.8,513.8 L465.0,513.7 L463.7,513.9 L464.2,516.2 L464.1,517.8 L462.7,517.7 L460.3,516.9 L459.3,517.5 L460.4,520.0 L460.1,520.9 L458.7,520.9 L457.7,521.6 L457.3,522.8 L457.9,524.3 L456.1,524.4 L455.7,525.4 L455.4,526.4 L455.5,527.7 L454.8,528.6 L453.8,529.2 L453.7,530.2 L452.6,531.2 L451.6,531.4 L450.7,531.0 L449.5,530.7 L448.5,530.7 L447.0,529.9" stroke="#b9a9c4" stroke-width="2.4" opacity="0.4"/>
<path d="M51.3,288.7 L52.1,289.4 L53.1,290.5 L53.6,291.3 L54.9,291.7 L55.8,292.5 L56.5,292.9 L57.1,294.2 L57.7,295.5 L59.2,295.4 L59.9,296.2 L61.4,296.4 L62.0,297.5 L62.7,298.3 L63.9,298.9 L64.8,299.4 L65.6,299.9 L66.7,300.1 L67.5,301.0 L68.2,301.7 L69.1,302.3 L70.0,303.0 L70.9,303.5 L71.9,304.2 L72.9,304.8 L73.8,305.3 L74.7,306.1 L75.7,306.6 L76.9,307.2 L78.0,307.4 L79.1,308.0 L80.2,308.5 L81.1,309.3 L81.9,310.1 L82.8,310.6 L83.6,311.4 L83.3,312.8 L83.9,314.1 L84.2,315.1 L84.5,316.1 L85.5,316.9 L86.5,317.6 L86.4,318.8 L87.1,319.8 L87.3,320.9 L87.5,322.1 L88.5,322.8 L89.6,323.5 L90.3,324.3 L91.0,325.1 L91.6,326.2 L91.2,327.9 L91.5,329.1 L92.6,329.5 L93.4,330.1 L94.4,330.8 L95.5,331.0 L95.7,332.2 L95.2,333.8 L95.7,334.7 L96.3,335.5 L97.2,336.3 L99.0,336.4 L99.4,337.4 L99.0,338.7 L99.5,339.9 L99.3,341.1 L99.9,342.3 L101.7,342.4 L102.2,343.4 L102.8,344.3 L103.6,345.2 L103.9,346.4 L104.5,347.1 L105.5,347.3 L106.3,348.1 L107.5,348.6 L108.1,349.1 L108.1,350.8 L108.7,351.6 L109.7,352.3 L110.6,352.9 L112.1,353.3 L113.3,353.6 L113.4,355.1 L113.9,356.1 L114.5,356.9 L115.5,357.8 L116.6,358.3 L117.7,358.8 L118.3,359.8 L119.2,360.5 L119.5,361.5 L120.4,362.0 L121.3,362.8 L122.1,363.4 L122.9,364.0 L123.5,364.6 L124.4,365.4 L125.1,365.8 L126.1,366.3 L127.2,367.0 L127.8,367.7 L128.6,368.4 L129.5,369.1 L130.4,369.6 L131.5,369.8 L132.4,370.5 L133.4,371.3 L134.2,371.9 L134.8,372.8 L135.7,373.0 L136.8,373.4 L137.7,373.8 L138.5,374.5 L139.2,375.2 L139.9,376.1 L140.8,376.6 L141.7,376.9 L142.7,377.5 L143.9,377.7 L144.6,378.7 L145.3,379.6 L146.2,380.1 L147.1,380.6 L148.0,380.9 L149.0,381.4 L149.7,382.3 L150.4,383.2 L151.2,383.5 L152.4,383.5 L153.4,384.3 L154.0,385.2 L154.7,385.7 L155.9,386.3 L156.9,386.7 L157.5,387.5 L158.5,388.1 L159.5,388.5 L160.4,389.2 L161.4,389.7 L162.2,390.3 L163.0,390.6 L163.8,391.5 L164.9,391.8 L165.9,392.5 L166.7,392.9 L167.6,393.3 L168.6,393.9 L169.5,394.4 L170.4,394.9 L171.4,395.0 L172.0,395.9 L172.6,396.7 L173.9,396.8 L174.9,397.2 L175.0,398.7 L176.1,398.8 L177.2,399.2 L178.5,399.4 L178.1,401.5 L179.2,401.8 L180.4,402.1 L181.7,402.6 L182.0,403.9 L182.4,405.3 L184.0,404.9 L185.0,405.3 L185.8,406.0 L185.9,407.9 L187.0,408.6 L188.2,408.6 L189.6,408.7 L189.8,410.1 L190.6,411.0 L191.3,411.6 L192.7,411.7 L193.3,412.5 L194.0,413.7 L194.9,414.4 L195.9,414.7 L197.1,415.0 L198.3,415.3 L199.3,415.9 L200.1,416.9 L201.2,417.0 L202.3,417.2 L203.4,417.5 L204.4,417.8 L205.3,418.5 L206.4,418.3 L207.7,418.4 L208.6,418.5 L209.7,418.9 L210.8,419.2 L211.9,419.2 L212.8,419.4 L214.0,419.8 L215.0,420.1 L215.8,420.3 L217.0,420.4 L218.0,420.6 L219.1,420.7 L219.9,420.9 L221.0,421.1 L222.1,421.7 L222.9,421.5 L224.1,421.9 L224.9,422.0 L226.1,422.1 L227.0,422.5 L228.0,422.5 L229.1,422.5 L229.9,422.8 L230.9,423.4 L232.1,423.8 L233.1,423.5 L234.1,423.9 L235.2,424.0 L236.2,424.1 L237.2,424.3 L238.5,424.7 L239.4,424.9 L240.4,425.1 L241.4,425.2 L242.6,425.4 L243.3,425.7 L244.4,425.7 L245.7,425.3 L246.6,426.1 L247.5,426.6 L248.5,427.2 L249.5,426.7 L250.6,426.1 L251.5,426.8 L252.4,427.1 L253.4,428.5 L254.6,428.3 L255.6,428.0 L256.7,428.3 L257.4,429.6 L258.5,429.5 L259.4,429.8 L260.5,429.8 L261.6,430.3 L262.3,431.1 L263.4,431.6 L264.1,432.1 L265.2,432.4 L266.0,432.9 L266.8,433.5 L267.9,433.9 L268.7,434.6 L269.5,435.1 L270.5,435.5 L271.5,436.0 L272.0,436.7 L273.0,437.1 L274.1,437.5 L275.0,437.5 L275.7,438.7 L276.6,439.1 L277.5,439.7 L278.4,439.9 L279.2,440.4 L280.3,441.2 L281.1,441.9 L282.0,442.3 L283.1,442.7 L283.9,443.2 L284.8,443.8 L285.6,444.6 L286.8,444.9 L287.9,445.4 L288.9,445.5 L289.3,447.0 L290.3,447.5 L291.3,447.8 L292.4,447.4 L293.1,448.8 L294.0,449.4 L295.1,449.5 L296.1,450.1 L296.5,451.6 L298.1,451.0 L299.1,451.2 L299.4,453.1 L300.6,453.3 L302.2,453.1 L302.5,454.5 L303.3,455.4 L305.0,454.7 L305.4,455.8 L305.6,457.0 L307.3,456.3 L308.4,456.6 L308.2,458.9 L309.6,458.3 L311.1,457.8 L311.0,459.9 L311.9,460.5 L313.5,459.9 L314.1,461.2 L314.6,462.1 L315.8,462.0 L316.8,462.3 L317.4,463.1 L318.1,463.9 L319.3,464.3 L320.2,464.6 L320.8,465.4 L321.9,466.0 L322.6,466.4 L323.5,466.9 L324.4,467.7 L325.1,468.2 L326.1,468.8 L326.9,469.1 L328.0,469.9 L328.9,470.4 L329.8,471.0 L330.5,471.4 L331.4,472.3 L332.5,472.5 L333.2,473.4 L334.2,473.8 L335.0,474.3 L336.0,474.8 L336.5,475.7 L337.5,476.1 L338.4,476.8 L339.2,477.2 L340.1,477.8 L340.5,478.7 L341.8,478.8 L342.6,479.5 L343.4,480.2 L343.9,481.2 L344.9,481.3 L345.8,481.5 L347.3,481.3 L347.5,483.1 L348.3,483.6 L349.0,484.1 L350.6,483.7 L351.4,484.2 L352.1,485.3 L352.7,486.3 L353.6,486.5 L354.7,486.7 L355.5,487.3 L356.6,487.6 L357.3,488.2 L358.3,488.6 L359.1,488.9 L360.2,489.2 L361.1,489.8 L361.9,490.3 L362.7,490.8 L363.6,491.2 L364.6,491.7 L365.8,491.8 L366.6,492.4 L367.6,493.0 L368.5,493.5 L369.4,493.9 L370.4,494.2 L371.3,494.8 L372.3,495.1 L373.3,495.4 L374.2,496.0 L375.4,496.3 L376.1,497.1 L377.2,497.5 L378.2,497.8 L379.4,498.1 L380.3,498.4 L381.2,498.9 L381.9,499.8 L383.0,500.2 L384.0,500.2 L385.0,500.8 L386.1,501.2 L387.0,501.6 L387.8,502.1 L388.7,502.3 L389.9,502.8 L390.7,503.4 L391.7,503.5 L392.8,503.8 L393.8,504.2 L394.9,504.5 L396.0,504.8 L397.1,505.2 L398.1,505.6 L399.2,505.9 L400.2,506.3 L401.1,506.5 L402.2,506.7 L403.5,506.7 L404.6,506.7 L405.5,507.2 L406.5,507.7 L407.7,507.5 L408.7,507.5 L409.8,507.5 L411.0,507.1 L412.0,507.0 L413.4,507.7 L414.3,508.7 L415.5,509.0 L416.3,509.0 L417.4,509.6 L418.6,509.3 L419.9,508.9 L421.1,509.2 L422.1,510.3 L423.1,510.8 L424.2,511.4 L425.0,512.3 L425.8,513.1 L427.3,512.7 L428.8,512.3 L429.7,512.8 L430.4,513.5 L431.2,514.2 L432.0,514.9 L432.3,516.0 L433.2,516.9 L434.3,516.8 L435.5,517.1 L436.5,517.7 L437.4,518.3 L438.8,518.7 L439.1,519.8 L439.2,521.3 L439.6,522.2 L440.8,522.7 L441.4,523.5 L442.6,523.8 L443.7,524.1 L444.1,525.3 L444.1,526.5 L444.7,527.4 L445.2,528.1 L446.0,529.0 L447.1,530.1 M447.0,530.0 L448.0,530.9 L448.0,532.0 L448.2,533.5 L447.1,534.9 L447.3,535.9 L451.0,536.2 L451.5,537.3 L451.2,538.7 L450.8,539.7 L447.3,540.2 L447.9,541.4 L449.4,543.1 L449.2,544.1 L450.5,545.9 L448.9,546.6 L445.2,546.7 L445.3,547.9 L445.4,549.1 L445.4,550.5 L448.2,552.4 L446.4,553.1 L443.6,553.4 L443.0,554.2 L441.2,554.3 L443.5,556.8 L444.6,558.7 L442.7,558.8 L441.8,559.4 L437.9,558.3 L440.8,561.1 L440.7,562.3 L441.5,564.2 L437.0,563.0 L437.3,564.3 L437.6,565.8 L438.7,567.8 L435.8,567.5 L435.4,568.8 L436.6,570.7 L436.0,571.5 L434.8,572.4 L432.0,572.4 L435.1,574.8 L434.8,575.9 L435.1,577.0 L431.9,577.2 L429.9,577.6 L432.0,579.4 L432.0,580.8 L434.5,582.5 L431.5,582.7 L429.6,583.3 L429.5,584.4 L429.2,585.6 L431.5,587.3 L431.5,588.7 L429.2,588.9 L428.3,589.7 L426.1,589.7 L427.3,591.8 L427.9,593.6 L426.8,594.4 L425.2,594.2 L423.5,593.6 L423.1,595.0 L422.1,595.8 L421.2,596.6 L420.4,597.1 L419.0,596.5 L418.1,596.9 L417.3,597.5 L416.1,598.0 L415.0,598.9 L414.3,599.7 L413.0,599.4 L411.4,599.2 L410.6,599.9 L409.0,600.0 L409.0,601.4 L409.8,603.4 L409.5,604.3 L408.0,604.3 L407.9,605.5 L406.5,606.0 L404.8,606.5 L404.4,607.7 L406.0,609.4 L406.1,610.5 L405.8,611.6 L405.6,612.7 L406.1,613.6 L405.0,614.5 L403.2,615.2 L402.8,615.9 L403.1,617.1 L403.1,618.1 L402.7,619.3 L402.9,620.5 L402.9,621.6 L402.6,622.8 L402.1,623.8 L401.9,624.7 L401.2,625.8 L400.8,627.0 L400.4,628.0 L400.6,629.3 L401.7,630.6 L402.4,631.8 L401.0,633.0 L400.4,634.0 L400.5,635.4 L399.9,636.2 L398.8,637.0 L398.6,638.0 L399.1,639.2 L399.1,640.2 L398.6,641.1 L398.4,642.1 L398.2,643.0 L397.2,643.9 L395.8,644.3 L394.8,645.1 L395.3,646.3 L395.3,647.5 L394.8,648.5 L394.6,649.7 L395.2,651.1 L394.5,651.7 L393.3,652.4 L392.4,652.9 L391.6,653.8 L390.9,654.5 L390.6,655.2 L389.8,656.1 L389.4,657.1 L388.9,658.1 L388.6,659.0 L387.3,659.3 L386.9,660.3 L386.0,660.9 L385.0,661.9 L384.2,662.7 L383.3,663.4 L382.4,664.2 L381.4,665.0 L380.6,665.9 L379.8,666.7 L379.1,667.4 L378.4,668.2 L377.5,669.0 L376.6,669.6 L375.6,669.8 L374.1,670.1 L373.3,670.7 L372.7,671.5 L372.1,672.7 L371.4,673.6 L370.6,674.1 L370.1,675.2 L370.2,676.7 L370.2,677.6 L368.6,678.2 L366.4,678.7 L365.8,679.8 L366.2,681.3 L367.1,682.3 L367.5,683.6 L367.7,684.7 L369.0,685.3 L370.3,685.6 L370.7,686.7 L371.6,688.5 M371.5,688.3 L372.8,688.2 L373.9,687.8 L375.1,687.8 L376.1,687.8 L377.1,687.6 L378.2,688.1 L379.4,687.6 L380.4,687.0 L381.7,686.7 L382.7,686.7 L384.0,686.8 L385.0,686.6 L386.1,686.8 L387.3,686.6 L388.4,686.3 L389.6,686.0 L390.7,685.9 L391.8,685.6 L392.9,685.8 L394.2,686.2 L395.1,686.3 L396.3,686.1 L397.3,685.8 L398.7,685.3 L399.8,685.4 L400.8,685.7 L402.1,685.8 L403.2,685.8 L404.2,685.5 L405.2,685.0 L406.5,685.1 L407.7,685.2 L408.8,685.7 L409.9,685.5 L410.9,685.1 L412.1,685.2 L413.3,684.9 L414.2,685.7 L415.5,685.8 L416.6,685.7 L417.7,685.6 L418.8,685.2 L420.0,686.2 L421.1,686.3 L422.2,686.5 L423.1,686.5 L424.3,686.2 L425.4,686.6 L426.4,686.9 L427.3,687.4 L428.2,687.8 L429.3,687.5 L430.3,687.5 L431.2,687.7 L432.3,688.0 L433.4,688.5 L434.2,689.1 L435.4,689.3 L436.4,689.2 L437.5,689.5 L438.7,689.6 L440.0,689.8 L441.0,690.3 L442.1,690.7 L443.1,690.9 L444.2,691.3 L445.3,691.4 L446.5,691.4 L447.5,692.1 L448.4,692.3 L449.5,692.9 L450.4,693.1 L451.5,692.9 L452.5,693.4 L453.3,693.5 L454.2,693.9 L455.4,694.6 L456.1,694.7 L457.3,695.0 L458.3,695.2 L459.6,695.7 L460.4,695.9 L461.4,696.4 L462.5,696.9 L463.4,697.1 L464.4,697.3 L465.5,697.0 L466.6,697.2 L467.5,697.6 L468.4,698.0 L469.4,698.3 L470.4,698.5 L471.5,697.9 L472.5,698.2 L473.6,698.3 L474.4,698.6 L475.6,699.2 L476.5,699.0 L477.4,698.8 L478.5,699.0 L479.5,698.8 L480.6,699.3 L481.5,699.9 L482.4,699.6 L483.6,699.7 L484.5,699.8 L485.7,699.4 L486.8,699.8 L488.1,700.3 L489.2,700.4 L490.4,700.8 L491.2,700.9 L492.5,700.5 L493.4,700.8 L494.7,701.2 L495.7,701.3 L496.9,701.6 L497.8,702.0 L498.7,702.1 L499.8,702.2 L500.7,702.5 L501.9,702.6 L502.8,702.8 L503.6,703.5 L504.7,703.9 L506.0,704.1 L506.9,704.4 L508.1,704.6 L509.1,704.8 L510.0,705.4 L511.2,705.9 L512.2,706.1 L513.1,706.6 L514.0,706.5 L515.3,706.4 L516.0,706.9 L517.1,707.6 L518.1,707.7 L519.1,708.1 L519.9,708.4 L521.1,708.7 L522.0,708.8 L523.1,708.9 L524.0,709.1 L525.1,709.4 L526.5,709.8 L527.4,710.2 L528.6,710.8 L529.6,710.8 L530.8,711.1 L531.9,711.2 L533.1,711.5 L534.2,711.8 L535.3,712.1 L536.2,712.2 L537.5,712.3 L538.5,711.9 L539.6,711.8 L540.4,711.8 L541.4,711.2 L542.5,710.5 L543.6,710.4 L544.6,709.6 L545.6,709.2 L546.5,708.5 L547.4,708.0 L548.4,707.5 L549.0,706.6 L549.9,705.7 L550.6,705.0 L551.6,704.4 L552.4,703.6 L553.2,702.9 L554.3,702.1 L554.6,701.3 L555.4,700.4 L556.1,699.5 L556.8,698.7 L557.6,697.8 L558.3,697.1 L559.4,696.6 L559.9,695.9 L560.5,694.9 L561.2,694.2 L561.9,693.3 L562.7,692.3 L563.7,691.7 L564.7,691.4 L566.0,690.9 L567.1,690.4 L568.1,690.0 L569.1,689.6 L570.4,689.3 L571.5,689.4 L572.5,689.5 L573.6,689.4 L574.5,689.8 L575.5,690.0 L576.5,689.9 L577.5,689.9 L578.8,690.2 L579.9,690.3 L581.0,690.7 L581.9,691.2 L582.8,692.1 L583.8,692.3 L584.7,692.3 L585.9,692.6 L586.6,693.0 L587.6,693.3 M587.8,693.3 L588.6,694.6 L590.1,694.9 L591.5,695.5 L592.4,697.0 L593.5,698.0 L594.9,698.4 L596.1,700.0 L597.2,699.9 L598.4,697.5 L599.1,696.2 L600.2,696.9 L601.1,696.4 L602.3,696.9 L604.3,698.9 L605.4,697.8 L605.8,696.1 L606.9,695.4 L607.7,694.2 L608.3,693.1 L610.1,693.7 L611.8,693.0 L611.3,691.5 L610.9,690.3 L608.4,689.1 L609.9,687.7 L610.1,686.4 L610.8,685.1 L609.8,684.0 L609.6,682.8 L610.1,681.9 L610.6,681.1 L611.3,680.2 L611.0,678.7 L611.3,677.6 L611.9,676.2 L613.1,675.7 L613.8,674.4 L614.6,673.5 L615.8,672.5 L616.6,671.8 L617.4,671.0 L618.2,670.4 L619.3,669.6 L620.1,668.8 L620.9,668.3 L621.7,667.8 L623.1,668.0 L624.2,668.3 L624.4,666.2 L625.5,665.3 L626.5,664.6 L627.4,664.2 L629.7,666.1 L630.3,664.9 L631.2,663.8 L631.9,662.6 L632.7,661.4 L634.3,662.7 L635.6,662.7 L636.4,662.3 L637.3,661.2 L637.6,659.9 L639.0,660.5 L640.1,660.1 L641.2,659.3 L642.2,658.8 L643.2,658.1 L644.6,657.3 L645.7,657.0 L647.1,657.1 L648.0,656.1 L649.1,655.6 L650.1,655.1 L651.0,654.5 L652.1,654.1 L653.3,653.6 L654.2,653.0 L655.1,652.3 L654.7,650.2 L655.8,649.6 L657.4,650.2 L658.2,649.1 L659.5,648.8 L658.9,646.6 L660.0,646.1 L660.8,645.2 L663.4,646.5 L664.0,645.4 L663.6,643.1 L664.2,641.9 L664.9,641.2 L667.8,642.6 L667.7,640.9 L668.6,639.7 L667.9,637.7 L670.2,637.9 L670.9,637.1 L671.9,636.8 L671.9,635.3 L672.7,634.6 L673.5,633.7 L674.6,632.8 L675.6,631.8 L676.0,630.6 L676.7,629.8 L677.6,628.8 L679.0,628.4 L679.0,626.9 L679.4,625.8 L679.1,624.4 L680.1,623.6 L681.4,623.0 L681.3,622.0 L681.7,620.8 L680.5,619.5 L681.6,618.8 L682.4,617.9 L683.0,617.1 L683.3,615.9 L683.1,614.7 L683.2,613.9 L683.8,612.9 L684.5,612.1 L684.7,611.1 L684.9,609.9 L685.4,609.0 L685.2,607.9 L685.8,607.0 L686.6,606.0 L686.7,605.1 L687.0,604.1 M687.1,603.9 L687.1,602.8 L686.8,601.6 L686.2,600.5 L686.4,599.5 L686.7,598.4 L686.9,597.6 L687.1,596.5 L686.1,595.5 L685.6,594.7 L685.9,593.4 L685.7,592.5 L686.7,591.3 L686.5,590.2 L685.9,589.1 L685.7,588.0 L685.5,586.8 L685.9,585.7 L686.4,584.8 L686.2,583.7 L686.2,582.7 L686.1,581.9 L685.8,580.6 L685.8,579.5 L686.4,578.4 L686.6,577.5 L686.9,576.5 L687.4,575.2 L687.4,574.3 L687.7,573.1 L687.9,572.2 L688.6,571.2 L689.0,570.3 L689.3,569.4 L689.6,568.5 L689.8,567.5 L690.3,566.5 L690.4,565.4 L690.8,564.4 L690.8,563.4 L691.4,562.6 L691.5,561.6 L691.6,560.5 L691.6,559.4 L691.6,558.2 L691.1,557.3 L691.5,556.1 L691.3,554.9 L691.1,554.1 L691.1,553.0 L691.1,551.8 L690.7,550.7 L689.8,549.4 L689.7,548.2 L690.2,547.0 L690.5,545.8 L690.6,544.8 L691.7,543.7 L692.2,542.7 L692.2,541.3 L692.4,540.2 L692.7,539.3 L693.4,538.4 L693.5,537.5 L694.3,536.5 L695.7,535.8 L696.6,535.2 L696.7,534.0 L697.0,533.1 L697.6,532.2 L697.1,530.9 L697.8,529.8 L699.1,529.3 L699.5,528.3 L699.9,527.2 L699.8,526.0 L699.1,524.6 L699.5,523.5 L700.4,522.6 L700.8,521.8 L701.8,521.1 L700.8,519.6 L700.9,518.6 L701.2,517.5 L701.6,516.6 L703.0,515.6 L702.9,514.4 L702.8,513.3 L703.0,512.1 L702.3,510.7 L702.8,509.6 L704.2,508.7 L704.3,507.6 L704.2,506.5 L704.0,505.6 L703.3,504.4 L703.9,503.3 L704.7,502.6 L705.0,501.6 L705.4,500.7 L704.8,499.4 L704.4,498.2 L704.9,497.2 L705.3,495.9 L705.6,495.0 L706.2,493.9 L706.3,492.8 L706.0,491.5 L706.3,490.4 L706.2,489.2 L707.1,488.5 L708.1,487.3 L708.0,486.3 L708.0,485.2 L707.7,483.9 L707.7,482.6 L709.2,482.1 L709.9,481.2 L710.5,480.3 L710.5,478.9 L710.2,477.7 L711.1,477.0 L711.7,476.0 L712.6,475.3 L713.7,474.6 L713.3,473.2 L713.0,471.7 L713.4,470.8 L713.5,469.4 L713.9,468.8 L714.9,467.7 L715.5,466.9 L714.9,465.7 L715.0,464.6 L715.0,463.6 L714.4,462.5 L715.0,461.3 L716.0,460.3 L716.2,459.4 L716.0,458.4 L716.3,457.2 L715.9,456.1 L715.2,455.2 L715.7,454.0 L716.2,453.2 L716.5,452.0 L717.2,450.9 L716.9,449.8 L716.3,448.4 L716.3,447.3 L716.4,446.2 L716.6,445.3 L717.2,444.2 L716.9,443.1 L716.4,442.2 L716.1,440.9 L715.7,439.7 L715.3,438.5 L715.8,437.2 L715.7,436.3 L715.0,435.0 L714.9,434.1 L714.4,433.1 L714.1,431.9 L714.1,430.9 L713.6,430.0 L713.6,429.0 L713.2,428.0 L712.9,427.0 M712.9,427.1 L712.2,426.2 L711.3,425.2 L710.1,424.7 L709.2,423.8 L708.4,422.8 L707.8,421.7 L707.3,420.6 L706.2,420.0 L705.1,419.6 L703.8,419.2 L702.8,418.4 L702.5,416.9 L701.4,416.4 L700.4,416.0 L699.2,415.8 L698.0,415.7 L697.6,414.8 L696.7,414.1 L695.4,413.6 L694.2,413.1 L692.9,412.8 L691.5,412.4 L690.3,412.3 L689.1,412.0 L688.0,411.6 L686.7,412.1 L685.6,412.0 L684.4,412.6 L683.3,412.5 L682.2,412.6 L681.1,413.2 L680.2,413.8 L679.5,414.4 L678.5,414.9 L677.3,415.1 L676.3,415.5 L675.1,415.9 L674.6,417.0 L673.8,417.7 L672.4,417.7 L671.6,418.3 L670.2,417.9 L669.6,419.4 L668.6,420.3 L667.7,420.9 L666.4,420.4 L665.4,420.5 L664.6,421.2 L663.6,422.1 L662.8,422.3 L661.4,421.5 L660.5,421.8 L659.4,422.5 L658.7,423.2 L657.4,422.5 L656.5,422.0 L655.5,422.0 L654.4,423.5 L653.6,423.3 L652.4,423.1 L651.3,422.0 L650.3,422.6 L649.3,423.3 L648.3,423.6 L647.1,424.4 L645.9,423.3 L644.8,423.0 L643.9,423.3 L642.9,423.6 L642.1,424.9 L641.1,424.4 L640.0,423.8 L638.9,423.7 L638.0,423.6 L637.0,424.8 L636.1,424.7 L634.9,424.3 L633.9,423.7 L633.1,423.4 L631.8,424.4 L630.7,424.1 L629.5,423.8 L629.1,422.5 L627.9,422.4 L627.3,421.9 L626.1,421.3 L625.2,420.5 L625.5,419.2 L625.3,417.9 L625.7,416.9 L624.5,415.9 L623.6,415.1 L624.4,413.9 L624.3,412.5 L625.0,411.4 L623.7,410.5 L623.5,409.4 L623.0,408.4 L624.2,407.1 L624.4,405.9 L623.4,405.0 L623.1,403.9 L622.5,402.8 L623.4,401.5 L622.7,400.6 L622.7,399.3 L621.5,398.7 L620.9,397.7 L620.7,396.5 L620.4,395.4 L620.3,393.8 L618.3,393.2 L618.0,392.1 L617.8,391.1 L618.9,389.8 L618.7,388.9 L618.2,387.7 L617.5,386.7 L618.0,385.5 L619.4,384.5 L619.0,383.6 L618.7,382.6 L617.5,381.3 L618.1,380.3 L618.9,379.2 L619.2,378.0 L619.6,377.0 L619.0,375.6 L618.2,374.5 L618.3,373.4 L618.5,372.4 L618.9,371.4 L619.7,370.5 L618.5,369.4 L618.1,368.5 L617.6,367.5 L617.9,366.5 L618.8,365.2 L618.1,364.4 L617.6,363.3 L616.6,362.6 L616.5,361.4 L616.9,360.1 L616.4,359.3 L616.2,358.2 L615.6,357.6 L614.4,356.9 L614.4,355.9 L614.3,354.9 L614.2,353.6 L614.1,352.4 L612.8,351.9 L612.3,350.8 L611.8,349.8 L612.0,348.5 L611.9,347.0 L610.9,346.3 L610.3,345.2 L609.7,344.1 L610.9,342.8 L610.6,341.8 L610.0,340.7 L609.8,339.7 L610.1,338.5 L610.9,337.6 L609.8,336.2 L610.1,335.2 L610.3,334.2 L611.7,333.2 L610.5,331.9 L610.5,330.7 L610.1,329.5 L611.7,328.6 L611.5,327.2 L610.9,326.2 L610.5,325.2 L611.1,323.8 L611.4,322.8 L611.0,321.7 L609.9,320.6 L610.0,319.3 L610.4,317.6 L608.6,317.4 L607.6,317.2 L607.8,315.4 L606.3,314.9 L604.9,314.5 L604.5,313.6 L604.0,312.6 L603.4,311.9 L602.2,311.3 L602.3,310.3 L602.6,308.9 L601.2,308.4 L600.8,307.5 L600.3,306.6 L600.4,305.4 L599.7,304.7 L598.7,304.1 L599.3,302.6 L598.7,301.9 L598.3,300.8 L596.9,300.3 L597.0,299.2 L596.8,298.3 L596.6,297.2 L596.0,296.3 L594.8,295.7 L594.7,294.9 L594.4,293.8 L594.0,292.6 L593.7,291.7 L592.2,291.6 L591.3,291.3 L590.3,290.9 L589.6,290.1 L588.5,290.2 L587.6,290.3 L586.4,290.3 L585.3,290.2 L584.2,290.5 L583.2,290.3 L581.9,290.4 L581.0,290.4 L579.8,290.5 L578.8,290.4 L577.5,290.5 L576.5,290.4 L575.5,290.4 L574.4,290.1 L573.6,289.9 L572.4,290.1 L571.5,290.2 L570.4,290.3 L569.6,290.1 L568.4,289.9 L567.5,289.6 L566.5,289.7 L565.4,289.4 L564.5,289.4 L563.5,289.0 L562.7,288.3 L561.5,287.9 L560.3,287.1 L558.9,286.3 L557.8,286.0 L556.2,286.0 L555.4,284.8 L554.6,283.5 L554.0,282.6 L553.7,281.4 L553.4,280.1 L552.5,279.1 L551.4,278.1 L550.9,276.9 L550.5,275.8 L549.5,275.2 L548.8,274.3 L548.0,273.8 L547.1,273.3 L545.2,273.0 L543.4,273.2 L542.4,273.8 L541.1,274.5 L540.1,275.5 L539.5,276.3 L538.2,276.8 L537.2,277.3 L536.4,278.1 L535.7,279.1 L534.8,279.7 L534.2,280.6 L533.5,281.6 L532.5,282.3 L531.4,283.1 L529.8,284.0 L528.5,284.5 L527.0,284.8 L526.2,284.8 M526.3,284.8 L525.2,285.0 L523.9,285.3 L522.9,285.1 L521.6,285.0 L520.6,286.4 L519.5,286.3 L518.6,286.6 L517.3,286.4 L516.2,286.8 L515.5,287.5 L514.4,288.3 L513.4,288.7 L512.1,288.8 L511.0,289.2 L509.7,289.4 L508.6,288.9 L507.5,287.8 L506.6,287.5 L505.8,286.8 L504.6,286.8 L503.4,286.3 L502.4,285.8 L501.0,285.3 L499.8,285.1 L498.5,285.0 L497.6,284.5 L496.1,284.4 L495.1,284.8 L494.1,284.0 L493.1,284.2 L492.1,284.2 L491.1,284.1 L490.1,284.0 L488.9,284.0 L487.9,284.2 L486.8,283.6 L485.6,284.1 L484.5,284.2 L483.4,284.1 L482.3,284.1 L481.2,284.9 L479.9,284.3 L478.8,283.9 L477.8,285.3 L476.5,285.2 L475.5,285.8 L474.7,285.5 L473.5,285.8 L472.5,286.0 L471.5,285.2 L470.3,285.1 L469.2,284.8 L468.5,284.2 L467.6,283.4 L466.3,284.0 L465.2,283.3 L464.7,282.2 L463.3,282.9 L462.4,282.7 L461.4,281.9 L460.7,281.3 L459.5,281.2 L458.4,281.6 L457.6,280.9 L456.7,280.5 L455.6,280.2 L454.5,280.1 L453.4,279.5 L452.6,278.9 L451.4,278.3 L450.5,277.8 L449.6,276.9 L448.4,276.4 L446.8,275.8 L445.7,275.6 L444.8,274.6 L443.9,274.8 L442.8,274.9 L441.8,274.8 L441.0,274.9 L439.6,274.9 L438.4,275.2 L437.4,274.9 L436.3,275.4 L435.0,275.6 L433.8,275.1 L432.9,275.1 L431.6,275.2 L430.4,275.0 L429.4,274.9 L428.4,274.9 L427.3,274.5 L426.5,273.8 L425.2,274.2 L424.3,274.1 L422.9,273.5 L421.7,273.5" stroke="#4a4a52" stroke-width="0.95"/>
<path d="M465.1,385.5 L464.7,384.5 L464.1,383.6 L462.8,383.0 L462.5,382.0 L462.7,380.7 L462.1,380.0 L462.1,378.8 L461.9,377.9 L460.1,377.3 L460.1,375.9 L460.0,375.0 L461.1,373.8 L461.3,372.4 L459.6,371.7 L458.9,370.9 L457.3,370.8 L457.2,369.5 L458.1,367.1 L457.7,366.0 L456.6,365.6 L455.3,365.2 L452.1,366.8 L452.6,365.0 L453.2,362.6 L452.1,361.8 L451.9,360.6 L449.7,361.4 L448.7,361.0 L448.4,359.8 L448.1,358.7 L448.3,357.2 L446.4,357.4 L445.2,357.0 L443.8,357.1 L445.2,354.3 L444.2,353.7 L442.8,353.4 L440.4,353.9 L442.0,351.3 L441.7,350.3 L439.5,350.7 L439.0,349.7 L438.9,348.5 L440.0,346.8 L436.9,347.5 L436.1,346.6 L437.5,344.7 L437.5,343.6 L435.8,343.3 L433.3,343.2 L436.3,340.6 L435.3,339.7 L433.9,339.2 L432.0,338.9 L432.9,337.2 L434.0,335.7 L431.9,335.6 L430.6,334.9 L430.7,333.7 L432.2,332.0 L430.2,331.6 L429.4,330.9 L428.6,329.9 L430.9,327.9 L429.7,327.2 L428.9,326.4 L426.1,326.0 L428.5,324.2 L429.6,323.0 L427.5,322.3 L426.8,321.3 L427.2,320.1 L429.2,319.1 L427.0,318.0 L427.1,316.9 L426.7,315.8 L430.2,315.5 L429.0,314.2 L428.8,313.1 L426.1,311.3 L427.9,310.6 L430.4,309.9 L430.6,308.5 L430.7,307.6 L428.6,305.9 L429.2,304.8 L430.3,304.0 L432.4,303.0 L432.3,301.8 L429.7,300.5 L429.4,299.3 L433.3,298.2 L431.8,297.1 L430.4,296.2 L428.5,295.3 L432.2,293.4 L431.2,292.7 L429.2,292.0 L427.1,291.8 L429.4,289.9 L430.2,288.3 L428.8,287.6 L425.9,287.4 L426.1,286.3 L427.8,284.2 L428.8,282.9 L425.7,282.7 L425.1,281.9 L423.2,281.6 L426.0,279.3 L425.3,278.4 L424.5,277.7 L421.3,277.6 L423.7,275.7 L423.6,274.5 L424.0,273.4 L422.0,272.7 L422.0,271.5 L422.3,270.3 L422.3,269.4 L422.4,268.4 L422.0,267.2 L422.4,266.1 L423.2,265.3 L423.0,264.3 L421.0,263.0 L421.9,262.1 L423.7,261.2 L423.6,260.2 L423.4,259.1 L421.4,258.1 L422.8,257.1 L424.0,256.0 L423.7,255.1 L422.5,254.0 L422.2,253.0 L424.9,252.0 L423.5,251.1 L423.1,249.8 L423.0,248.9 L424.4,248.0 L424.5,247.1 L423.0,245.8 L423.6,244.9 L424.2,244.0 L425.0,242.8 L423.2,241.6 L423.4,240.6 L424.8,239.4 L425.3,238.4 L424.5,237.2 L423.9,236.2 L425.1,235.0 L425.4,234.2 L425.0,233.0 L424.6,231.7 L425.7,230.8 L426.7,229.9 L424.8,228.4 L425.1,227.6 L425.6,226.4 L427.2,225.7 L426.1,224.5 L425.8,223.2 L426.6,222.2 L428.1,221.5 L427.8,220.3 L425.3,218.6 L428.5,218.2 L429.2,217.1 L429.0,215.9 L426.0,214.3 L428.0,213.7 L430.3,213.0 L429.8,211.8 L427.7,210.2 L427.6,209.1 L430.7,208.7 L431.7,207.8 L430.1,206.6 L428.4,204.9 L429.4,204.1 L432.7,204.1 L432.3,202.9 L432.9,201.9 L430.9,200.4 L429.4,198.8 L431.6,198.3 L432.6,197.2 L433.5,196.1 L434.7,195.1 L432.2,193.6 L431.7,192.6 L432.3,191.6 L432.7,190.4 L435.5,189.5 L435.7,188.6 L433.1,187.4 L433.0,186.3 L431.1,185.4 L431.9,184.4 L435.2,183.0 L434.3,182.0 L434.1,181.0 L431.9,180.3 L429.1,180.0 L430.9,178.3 L432.2,176.5 L432.0,175.5 L432.9,173.9 L430.8,173.4 L427.7,173.7 L428.2,172.3 L428.3,170.9 L428.1,169.9 L430.0,167.8 L429.5,166.9 L426.8,167.1 L425.8,166.2 L425.0,165.6 L424.4,164.6 L426.7,162.4 L427.4,160.9 L425.4,160.5 L425.0,159.7 L423.2,159.0 L422.8,158.1 L423.8,156.7 L423.7,155.8 L423.6,154.7 L423.2,153.9 L421.1,153.3 L421.4,152.0 L421.7,150.9 L422.0,149.9 L422.3,148.8 L420.5,147.9 L420.1,147.1 L419.3,146.3 L420.5,144.9 L421.2,143.7 L419.8,142.9 L418.0,142.7 L418.7,141.0 L419.4,139.6 L418.9,138.5 L415.0,140.0 L417.0,137.2 L417.5,135.3 L415.2,135.6 L413.5,135.8 L412.8,134.8 L415.6,131.2 L412.4,132.2 L411.3,131.7 L409.7,131.3 L411.9,128.6 L410.9,128.2 L410.1,127.3 L408.3,127.4 L408.5,126.1 M465.1,385.6 L465.4,386.8 L466.5,387.3 L467.6,387.7 L468.0,389.2 L467.9,390.4 L468.3,391.2 L469.1,392.2 L470.4,393.0 L471.2,393.8 L471.5,394.8 L472.0,396.0 L471.6,397.7 L473.3,398.0 L474.2,398.8 L475.7,399.4 L475.8,400.5 L474.2,402.4 L475.5,402.9 L475.6,403.7 L477.6,404.3 L478.6,405.1 L477.0,406.6 L477.2,407.7 L476.2,409.1 L478.3,409.7 L480.2,410.0 L479.8,411.5 L479.8,412.7 L478.1,414.0 L477.5,415.2 L480.6,415.9 L481.1,417.0 L482.1,417.9 L479.5,419.5 L479.7,420.4 L480.3,421.2 L481.0,422.1 L481.1,423.2 L480.8,424.1 L480.9,425.1 L481.1,426.3 L481.0,427.3 L481.7,428.4 L481.4,429.5 L481.5,430.7 L480.8,431.9 L481.3,432.9 L481.6,434.0 L481.6,435.0 L481.5,436.1 L481.4,437.3 L481.4,438.3 L481.7,439.4 L481.7,440.4 L482.3,441.6 L481.8,442.6 L481.3,443.7 L481.7,444.7 L481.6,446.0 L482.8,446.7 L482.6,447.9 L482.3,449.2 L482.4,450.2 L482.2,451.4 L482.6,452.5 L482.9,453.5 L482.9,454.4 L483.1,455.5 L483.3,456.7 L483.4,457.8 L483.7,458.7 L483.8,459.9 L484.2,461.2 L484.4,462.3 L484.3,463.5 L484.4,464.5 L485.9,465.2 L486.1,466.4 L485.9,467.7 L485.8,468.7 L485.9,469.8 L485.8,470.9 L485.9,472.0 L486.1,473.3 L485.8,474.1 L485.8,475.1 L485.6,476.3 L485.3,477.3 L484.9,478.2 L485.7,479.4 L484.6,480.4 L483.8,481.5 L483.0,482.3 L484.3,484.1 L484.4,485.3 L483.2,486.3 L481.8,486.8 L481.3,487.8 L482.8,489.4 L482.3,490.5 L482.0,491.6 L479.5,491.8 L480.4,493.4 L480.1,494.4 L481.6,496.0 L479.0,496.1 L478.0,496.8 L477.7,497.8 L478.7,499.5 L478.3,500.6 L476.3,501.0 L475.3,501.6 L473.9,502.0 L475.4,504.4 L474.5,505.1 L474.1,506.5 L470.8,505.2 L471.0,506.9 L471.2,508.5 L471.6,510.3 L470.0,510.4 L467.5,509.7 L467.3,511.0 L467.3,512.5 L466.8,513.8 L465.0,513.7 L463.7,513.9 L464.2,516.2 L464.1,517.8 L462.7,517.7 L460.3,516.9 L459.3,517.5 L460.4,520.0 L460.1,520.9 L458.7,520.9 L457.7,521.6 L457.3,522.8 L457.9,524.3 L456.1,524.4 L455.7,525.4 L455.4,526.4 L455.5,527.7 L454.8,528.6 L453.8,529.2 L453.7,530.2 L452.6,531.2 L451.6,531.4 L450.7,531.0 L449.5,530.7 L448.5,530.7 L447.0,529.9" stroke="#505058" stroke-width="0.95"/>
<path d="M81.7,150.8 L81.6,157.2 L81.7,163.7 L81.5,170.0 L81.5,175.7 L81.0,181.3 L81.0,187.0 L80.9,192.0 L80.9,197.0 L80.5,202.0 L80.5,207.0 L78.7,212.1 L77.1,217.3 L75.2,222.6 L73.5,227.7 L71.8,232.9 L70.0,238.0 L68.2,243.4 L65.9,248.8 L64.1,254.1 L62.1,259.6 L60.0,265.0 L58.3,269.8 L56.7,274.5 L54.7,279.0 L53.2,283.9 L51.4,288.6" stroke="#77777c" stroke-width="0.9"/>
</g>
<!--/PYBORDER-->
<!--DEPTS-->
<g fill="none" stroke-linejoin="round">
<path d="M272.0,173.0 L273.6,178.5 L274.9,184.1 L276.4,189.5 L278.0,195.0 L279.3,199.9 L281.1,204.6 L282.5,209.5 L283.8,214.3 L276.0,220.0 L270.0,224.5 L269.1,230.3 L268.6,236.3 L267.9,242.1 L267.0,248.0 L266.6,253.5 L265.9,259.1 L265.6,264.6 L265.0,270.0 L270.8,270.4 L276.4,270.9 L282.2,271.2 L288.0,271.5 L293.2,271.5 L298.5,272.1 L303.8,272.1 L309.0,272.4 L314.0,277.0 L319.2,277.4 L324.5,277.4 L329.7,277.7 L335.1,277.8 L340.3,278.0 L345.5,278.2 L350.8,278.2 L356.0,278.5 L361.3,278.7 L366.6,279.0 L372.0,279.1 L377.4,279.4 L382.6,279.5 L388.0,279.8 L393.3,279.9 L398.6,280.0 L401.0,287.0 L405.0,294.0 L411.5,295.3 L418.0,296.5 L424.9,297.8 L432.0,299.0 M314.0,277.0 L308.5,281.4 L303.0,286.0 L298.7,289.0 L294.7,292.3 L290.5,295.4 L286.0,300.0 L283.8,304.0 L280.3,309.4 L276.7,314.7 L273.0,320.0 L269.9,325.5 L266.8,330.7 L263.5,336.0 L263.7,341.0 L263.6,346.0 L263.6,351.0 L263.5,356.0 L264.0,360.0 L262.6,365.0 L261.2,370.0 L259.9,375.1 L258.3,380.0 L257.0,385.0 L251.0,386.1 L245.0,387.5 L239.0,388.8 L233.0,390.0 L227.3,391.4 L221.5,392.5 L215.8,393.9 L210.0,395.0 L209.2,401.9 L208.0,408.7 L203.1,412.7 L198.0,416.5" stroke="#707074" stroke-width="0.85"/>
<path d="M521.7,306.0 L522.7,308.7 L523.3,311.5 L523.3,314.2 L524.0,317.0 L524.6,319.8 L526.1,322.4 L526.1,325.3 L527.0,328.0 L525.5,331.0 L525.2,333.9 L524.0,337.0 L526.8,337.3 L529.0,338.5 L531.9,338.5 L534.7,338.0 L536.7,336.3 L538.6,334.5 L540.6,332.8 L543.1,331.7 L545.0,330.0 L547.3,328.0 L550.2,326.1 L553.0,324.5 L555.5,322.7 L556.6,325.2 L557.1,327.8 L559.1,330.2 L559.7,332.9 L560.8,335.5 L562.0,338.0 L562.9,340.9 L563.8,343.6 L565.3,346.2 L566.4,348.7 L566.9,351.6 L568.4,354.0 L568.1,357.1 L567.3,360.2 L567.0,363.0 L566.7,365.8 L566.1,368.5 L566.5,371.3 L563.7,372.2 L561.3,372.0 L558.6,373.9 L556.0,374.0 L552.9,374.9 L550.0,377.0 L547.0,378.0 L543.9,378.6 L540.9,380.6 L538.0,381.7 L535.3,382.2 L532.4,382.4 L529.8,382.4 L527.0,382.4 L524.2,382.8 L521.3,382.6 L518.4,382.3 L515.8,383.1 L512.7,383.1 L510.0,383.0 L507.4,383.5 L504.5,382.8 L501.9,383.3 L499.5,383.2 L496.9,384.0 L494.1,383.2 L491.2,383.2 L488.8,383.2 L486.2,384.5 L483.4,384.3 L480.8,384.0 L477.9,384.0 L475.3,384.3 L472.9,384.6 L470.3,384.6 L467.5,385.0 L465.0,385.6 M566.5,371.3 L566.1,374.1 L566.7,377.0 L567.5,379.4 L567.2,382.2 L567.8,385.4 L567.8,388.0 L569.7,389.9 L572.6,390.8 L574.2,393.2 L577.0,394.7 L578.9,397.4 L580.8,400.5 L582.0,403.8 L581.6,406.9 L580.0,410.0 L579.5,413.0 L582.1,411.5 L584.7,410.3 L587.0,409.0 L589.5,407.4 L592.6,406.3 L595.0,405.0 L597.6,403.9 L599.8,402.3 L602.6,400.8 L605.0,400.0 L608.2,399.0 L610.6,397.3 L613.1,395.8 L616.0,394.7 L618.0,392.0 M579.5,413.0 L579.2,416.0 L579.7,418.5 L580.5,421.5 L580.1,424.0 L580.8,427.0 L578.5,429.1 L576.3,430.7 L573.8,432.0 L571.1,433.0 L569.0,435.0 L568.3,438.3 L567.2,441.7 L566.5,445.0 L568.1,447.6 L569.4,450.2 L571.0,453.0 L573.4,455.4 L575.4,458.1 L577.0,461.0 L578.8,464.0 L581.2,466.1 L583.0,469.0 L584.9,471.8 L587.1,474.3 L590.0,476.5 L591.5,478.8 L593.9,481.1 L596.0,483.0 L598.3,485.3 L600.5,487.9 L603.0,489.5 L604.1,486.7 L605.4,484.0 L607.0,481.5 L609.0,479.0 L610.8,476.7 L612.0,473.8 L614.5,471.6 L616.0,468.7 L618.3,466.6 L621.0,465.5 L623.7,464.7 L626.0,463.5 M479.2,500.0 L481.8,501.9 L485.0,503.0 L487.9,504.4 L490.6,505.0 L493.4,504.5 L496.0,504.5 L497.7,502.7 L500.0,501.0 L501.7,498.8 L503.2,496.6 L505.2,495.0 L507.9,494.8 L511.0,495.0 L514.3,495.2 L517.7,495.5 L521.3,495.6 L524.4,496.4 L528.0,496.0 L531.6,497.1 L535.3,497.0 L538.0,499.3 L541.0,500.5 L544.4,500.3 L548.0,500.0 L550.9,499.4 L553.0,498.0 L555.7,497.7 L558.7,497.0 L561.4,497.4 L564.1,497.5 L566.6,497.6 L569.1,496.9 L571.7,497.0 L575.0,496.0 L578.0,495.0 L581.6,493.6 L584.7,492.0 L587.8,491.7 L591.1,491.9 L594.0,491.0 L597.2,491.0 L599.9,489.5 L603.0,489.5 M535.3,497.0 L535.0,500.9 L535.3,504.3 L535.9,508.4 L535.3,512.0 L534.9,515.2 L535.3,518.8 L531.8,520.1 L529.0,522.0 L528.9,525.3 L528.0,528.0 L531.2,529.3 L534.3,531.0 L532.0,532.7 L530.0,534.2 L528.2,536.1 L526.0,538.0 L524.1,539.9 L522.3,541.8 L519.6,542.7 L517.7,544.8 L515.4,546.3 L512.5,548.0 L514.2,550.5 L516.6,553.0 L519.2,554.8 L521.0,557.0 L523.6,559.2 L526.0,561.4 M482.3,538.6 L486.0,541.0 L490.6,542.7 L493.0,547.0 L494.2,549.4 L494.8,552.0 L497.9,552.9 L501.0,552.5 L504.1,552.7 L507.3,553.0 L508.3,555.8 L508.3,558.3 L512.0,559.2 L516.0,559.5 L518.8,559.9 L521.2,560.6 L524.0,560.4 L526.0,561.4 M476.0,540.6 L476.2,543.4 L475.0,545.7 L475.6,548.3 L475.0,551.0 L473.4,553.3 L471.0,555.4 L468.8,557.0 L468.2,559.7 L466.2,562.4 L466.2,565.1 L464.7,567.7 L463.4,570.1 L463.2,572.9 L462.5,575.2 L462.0,578.0 L461.5,581.1 L461.6,584.0 L462.4,586.6 L462.9,589.7 L463.3,592.0 L464.7,594.7 L462.7,597.3 L460.6,600.1 L459.5,603.0 L456.2,604.1 L453.2,605.0 L450.8,607.0 L449.0,610.0 L447.0,613.0 L445.0,615.5 L444.3,618.4 L442.7,620.9 L441.8,623.8 M440.8,567.7 L443.6,569.4 L446.0,571.5 L448.3,573.2 L451.0,575.0 L455.0,577.5 L459.5,580.0 L461.6,584.0 M441.8,615.5 L442.6,618.3 L444.0,620.7 L445.7,623.1 L447.0,625.8 L449.4,626.2 L452.3,626.4 L455.2,626.3 L457.4,627.8 L460.3,627.8 L463.0,628.0 L465.9,628.2 L468.5,628.9 L471.5,628.8 L474.5,630.0 L477.1,630.0 L480.0,630.0 L482.6,627.1 L484.0,624.0 L485.8,622.3 L486.9,619.7 L488.6,617.5 L491.4,617.7 L493.7,618.0 L496.3,617.9 L499.0,618.6 L500.8,621.3 L503.0,623.0 L504.6,625.6 L507.3,628.0 L510.3,628.7 L513.5,630.0 M513.5,630.0 L515.6,632.5 L518.1,635.1 L521.0,637.0 L523.0,639.1 L525.0,640.8 L526.7,643.2 L528.6,645.5 L528.4,648.1 L528.8,650.7 L529.0,653.5 L528.1,656.0 L528.2,658.6 L528.3,661.2 L528.6,664.0 L528.5,666.6 L528.1,669.5 L529.1,671.8 L528.7,674.5 L528.9,677.6 L528.0,679.8 L528.6,682.7 L527.9,685.5 L525.6,687.5 L525.0,690.0 L523.7,692.7 L523.0,695.3 L522.0,698.0 M528.6,645.5 L531.4,645.5 L534.1,645.7 L536.8,646.0 L539.2,645.1 L542.0,645.5 L544.7,645.4 L547.6,646.1 L550.1,645.5 L553.0,645.1 L555.7,645.5 L558.0,644.2 L559.8,641.8 L562.0,640.0 L564.3,638.1 L566.4,635.3 L569.0,633.7 L571.4,632.0 L574.3,631.3 L576.9,629.8 L579.0,628.0 L581.2,626.1 L584.3,625.2 L586.7,622.9 L589.5,622.0 L592.8,620.2 L596.0,618.0 L598.2,616.6 L600.5,615.1 L603.0,613.4 L605.9,613.1 L608.0,612.1 L611.0,612.0 L613.3,611.1 L616.0,611.0 L618.7,610.6 L621.6,609.4 L624.5,609.6 L627.0,609.0 L630.0,608.4 L631.0,605.7 L632.0,603.0 L633.2,600.7 L634.5,598.0 M526.0,561.4 L527.7,563.9 L527.7,566.3 L529.0,568.9 L529.8,571.8 L531.2,574.0 L528.7,576.2 L526.0,578.0 L524.0,579.9 L521.8,582.0 L522.4,585.1 L523.0,588.6 L523.1,591.3 L524.0,594.7 L527.4,596.0 L530.0,597.8 L533.2,598.8 L531.3,600.8 L530.1,603.2 L528.0,605.0 L527.0,607.3 L525.2,609.3 L524.0,612.0 L522.9,614.8 L520.7,616.7 L519.7,619.6 L517.4,622.2 L516.0,625.0 L515.1,627.9 L513.5,630.0 M533.2,598.8 L536.3,597.2 L540.0,596.0 L543.4,594.6 L546.8,592.6 L547.9,589.7 L548.8,586.4 L551.8,586.4 L554.0,584.9 L557.0,584.5 L560.1,584.4 L562.4,583.3 L565.5,583.0 L568.5,581.9 L570.3,580.1 L573.0,578.5 L575.7,577.1 L577.5,575.3 L580.0,574.0 L583.0,572.7 L585.5,571.2 L587.8,568.8 L590.8,567.8 L593.0,566.0 L595.3,564.6 L598.5,564.0 L600.1,561.9 L603.0,561.0 M526.0,561.4 L528.0,557.0 L530.6,556.9 L533.0,555.2 L536.0,555.0 L539.2,554.6 L542.0,554.3 L544.7,553.0 L548.2,553.0 L551.6,552.6 L555.0,552.5 L557.4,551.9 L560.4,552.7 L563.0,552.7 L565.5,552.0 L569.1,552.8 L573.0,553.5 L576.4,554.7 L580.0,555.0 L582.6,556.1 L585.2,556.6 L587.7,557.2 L590.4,557.7 L593.0,558.0 L595.7,559.0 L598.0,560.0 L600.3,560.3 L603.0,561.0 M603.0,561.0 L607.8,560.0 L610.1,558.3 L611.7,556.4 L613.9,554.0 L615.6,552.0 L617.6,550.0 L619.3,547.9 L621.8,546.1 L623.6,544.3 L625.4,542.1 L627.5,540.4 L628.6,538.2 L630.4,535.9 L632.0,533.8 L633.3,531.5 L634.5,529.0 L637.5,528.1 L640.7,527.0 L644.0,526.0 L646.7,526.8 L649.5,528.1 L652.4,528.6 L655.1,529.8 L658.0,530.6 L660.1,532.7 L662.6,534.1 L664.6,536.0 M664.6,536.0 L663.5,533.7 L662.9,531.1 L662.1,528.6 L661.4,525.8 L659.6,523.8 L657.4,521.9 L655.2,520.2 L654.0,518.0 L651.6,515.8 L649.0,513.5 L646.6,511.0 L643.6,509.4 L641.6,506.8 L639.0,505.0 L637.0,502.6 L635.0,500.8 L633.0,498.7 L633.7,495.9 L632.7,493.7 L633.8,490.8 L632.7,488.4 L633.2,485.7 L633.5,483.0 L633.1,480.1 L633.4,476.8 L633.5,473.8 L632.5,471.1 L633.0,468.0 M617.6,550.0 L617.2,552.7 L617.9,555.6 L617.0,558.4 L616.7,561.4 L617.1,564.2 L617.0,567.0 L617.0,569.8 L616.8,572.8 L617.3,575.2 L617.8,578.1 L617.0,581.4 L617.6,584.0 L620.6,584.2 L623.4,584.1 L626.0,585.0 L629.6,585.1 L632.8,586.4 L636.0,586.8 L635.2,589.3 L635.0,592.0 L635.3,594.9 L634.5,598.0 L636.6,599.9 L639.0,601.0 L641.9,601.8 L644.0,603.7 L646.6,603.1 L649.9,604.0 L652.7,603.2 L655.2,602.9 L658.2,603.6 L661.3,602.5 L664.0,603.0 L667.0,602.9 L669.7,603.3 L672.3,602.2 L675.3,603.1 L678.2,602.1 L680.7,602.9 L683.7,602.3 L688.0,603.7 M650.0,465.0 L653.1,466.9 L657.0,468.0 L659.2,469.5 L661.4,470.9 L664.0,471.5 L666.4,473.5 L669.0,476.0 L671.7,477.5 L673.8,479.0 L677.1,480.3 L681.0,480.5 L684.6,481.3 L688.6,481.4 L692.2,481.8 L696.0,482.0 L699.7,482.0 L703.4,482.7 L708.0,484.0" stroke="#48484c" stroke-width="0.95"/>
<path d="M441.8,623.8 L443.5,630.2 L445.4,636.5 L447.0,643.0 L448.8,649.5 L450.7,655.9 L452.6,662.4 L458.4,664.2 L464.2,666.0 L470.0,668.0 L478.3,670.9 L486.4,674.0 L483.2,679.5 L480.0,685.0 L477.2,691.7 L474.6,698.5" stroke="#66666c" stroke-width="0.7"/>
</g>
<!--/DEPTS-->
<!--ASPLINES-->
<g>
<path d="M312.5,183.0 L332.8,183.5 L332.5,195.0 L322.0,194.0 L318.0,195.7 L312.5,195.0 Z" fill="none" stroke="#7ee04b" stroke-width="0.75" stroke-linejoin="round"/>
<path d="M327.0,236.0 L333.0,234.0 L344.0,235.0 L345.0,241.0 L338.0,243.0 L326.0,243.0 Z" fill="none" stroke="#7ee04b" stroke-width="0.75" stroke-linejoin="round"/>
<path d="M331.0,314.0 L351.0,314.0 L351.0,318.4 L331.0,318.4 Z" fill="none" stroke="#7ee04b" stroke-width="0.75" stroke-linejoin="round"/>
<path d="M338.0,314.0 L338.0,318.4" fill="none" stroke="#7ee04b" stroke-width="0.75" stroke-linejoin="round"/>
<path d="M344.5,314.0 L344.5,318.4" fill="none" stroke="#7ee04b" stroke-width="0.75" stroke-linejoin="round"/>
<path d="M260.0,189.7 L266.0,189.7 L266.0,195.0 L260.0,195.0 Z" fill="none" stroke="#7ee04b" stroke-width="0.75" stroke-linejoin="round"/>
<path d="M305.7,172.0 L309.0,169.5 L314.0,168.7" fill="none" stroke="#7ee04b" stroke-width="1.4" stroke-linejoin="round"/>
<path d="M319.9,310.5 L318.5,312.5 L317.2,314.9 L315.8,312.4 L315.9,308.7 L317.3,306.7 L318.8,308.0 Z" fill="#a6dd86" stroke="#7ee04b" stroke-width="0.4"/>
<path d="M99.7,213.0 L107.0,209.0 L108.8,211.5 L101.5,215.5 Z" fill="#cdeab5" stroke="#7ee04b" stroke-width="0.75" stroke-linejoin="round"/>
<path d="M67.6,235.0 L76.0,234.0 L77.0,237.5 L68.5,238.5 Z" fill="#cdeab5" stroke="#7ee04b" stroke-width="0.75" stroke-linejoin="round"/>
<path d="M135.5,329.0 L136.0,324.0 L144.0,319.0 L144.6,329.0 Z" fill="#dff0d0" stroke="#7ee04b" stroke-width="0.75" stroke-linejoin="round"/>
<path d="M116.5,331.0 L126.7,331.0 L126.7,341.0 L116.5,341.0 Z" fill="#dff0d0" stroke="#7ee04b" stroke-width="0.75" stroke-linejoin="round"/>
<path d="M119.0,333.0 L124.5,333.0 L124.5,339.0 L119.0,339.0 Z" fill="none" stroke="#7ee04b" stroke-width="0.5" stroke-linejoin="round"/>
<path d="M216.0,380.0 L227.0,380.0 L227.0,384.5 L223.0,385.0 L223.0,391.5 L216.0,391.5 Z" fill="none" stroke="#7ee04b" stroke-width="0.75" stroke-linejoin="round"/>
<path d="M198.4,416.5 L251.0,409.5 L307.5,455.4 L290.0,445.0 L270.0,432.0 L257.0,427.5 Z" fill="none" stroke="#7ee04b" stroke-width="0.6" stroke-linejoin="round"/>
<path d="M326.0,230.5 L330.0,230.5" fill="none" stroke="#7ee04b" stroke-width="0.75" stroke-linejoin="round"/>
<path d="M455.5,283.0 L462.0,281.5 L470.0,283.5 L475.0,286.0 L476.0,300.0 L475.0,316.0 L470.0,320.0 L466.0,316.0 L462.0,319.0 L458.0,313.0 L456.0,305.0 L458.0,297.0 L456.0,290.0 Z" fill="none" stroke="#7ee04b" stroke-width="0.75" stroke-linejoin="round"/>
<path d="M460.0,283.0 L463.0,290.0 L461.0,297.0 L465.0,303.0 L462.0,311.0 L466.0,316.0" fill="none" stroke="#7ee04b" stroke-width="0.6" stroke-linejoin="round"/>
<path d="M468.0,284.0 L467.0,292.0 L471.0,298.0 L468.0,306.0 L471.0,313.0" fill="none" stroke="#7ee04b" stroke-width="0.6" stroke-linejoin="round"/>
<path d="M456.0,297.0 L462.0,296.0 L468.0,299.0 L475.0,297.0" fill="none" stroke="#7ee04b" stroke-width="0.6" stroke-linejoin="round"/>
<path d="M457.0,306.0 L463.0,305.0 L469.0,308.0 L475.0,306.0" fill="none" stroke="#7ee04b" stroke-width="0.6" stroke-linejoin="round"/>
<path d="M463.0,290.0 L470.0,290.0" fill="none" stroke="#7ee04b" stroke-width="0.6" stroke-linejoin="round"/>
<path d="M461.0,311.0 L468.0,313.0" fill="none" stroke="#7ee04b" stroke-width="0.6" stroke-linejoin="round"/>
<path d="M453.5,325.9 L453.1,328.3 L451.0,328.8 L449.4,327.1 L449.7,324.8 L450.9,322.4 L453.2,323.1 Z" fill="#bfe8a5" stroke="#7ee04b" stroke-width="0.75"/>
<path d="M573.7,303.9 L572.4,307.3 L570.4,309.7 L567.9,308.6 L566.6,305.6 L566.4,302.0 L567.6,298.5 L570.5,297.2 L572.3,300.6 Z" fill="#a5e07f" stroke="#7ee04b" stroke-width="0.9"/>
<path d="M571.3,303.5 L570.6,305.5 L568.9,305.6 L568.3,303.5 L568.9,301.3 L570.8,301.0 Z" fill="#f1efe8" stroke="#7ee04b" stroke-width="0.3"/>
<path d="M582.6,319.4 L582.4,322.4 L578.9,322.2 L576.7,321.2 L574.6,319.4 L576.2,317.0 L578.9,316.1 L581.2,317.3 Z" fill="#a5e07f" stroke="#7ee04b" stroke-width="0.75"/>
<path d="M555.5,374.7 L558.0,369.0 L563.0,364.0" fill="none" stroke="#7ee04b" stroke-width="1.5" stroke-linejoin="round"/>
<path d="M466.0,386.5 L475.0,385.0 L482.5,384.5 L481.0,390.0 L476.0,397.0 L471.0,400.0 L466.0,396.0 L464.5,391.0 Z" fill="#d5efc4" stroke="#7ee04b" stroke-width="0.75" stroke-linejoin="round"/>
<path d="M558.9,411.2 L557.9,413.5 L556.1,413.2 L555.0,411.2 L556.2,409.6 L557.7,409.5 Z" fill="#a5e07f" stroke="#7ee04b" stroke-width="0.75"/>
<path d="M504.7,441.0 L509.0,439.0 L513.0,442.0 L518.0,440.0 L523.0,443.0 L521.0,447.6 L516.0,446.0 L510.0,447.0 L506.0,445.0 Z" fill="none" stroke="#7ee04b" stroke-width="0.7" stroke-linejoin="round"/>
<path d="M509.8,478.0 L518.0,477.0 L526.0,480.0 L534.0,477.0 L541.0,476.0 L548.0,482.0 L555.0,488.0 L562.0,491.5 L560.0,486.0 L552.0,480.0 L546.0,476.5 L538.0,474.5 L530.0,478.0 L520.0,475.5 Z" fill="none" stroke="#7ee04b" stroke-width="0.7" stroke-linejoin="round"/>
<path d="M569.1,494.8 L566.9,498.8 L563.9,500.8 L560.9,498.8 L560.2,494.8 L560.9,490.9 L563.9,487.6 L567.8,489.7 Z" fill="none" stroke="#7ee04b" stroke-width="0.7"/>
<path d="M575.7,492.0 L582.0,488.0 L589.0,489.0 L592.6,493.0 L586.0,495.0 L580.0,494.0 Z" fill="none" stroke="#7ee04b" stroke-width="0.7" stroke-linejoin="round"/>
<path d="M594.7,451.0 L593.5,452.4 L591.0,453.1 L589.6,451.0 L591.0,448.9 L594.0,448.9 Z" fill="#bfe8a5" stroke="#7ee04b" stroke-width="0.75"/>
<path d="M626.9,460.4 L624.4,468.0 L627.0,475.0 L625.0,484.0 L629.0,490.0 L632.0,483.0 L631.0,474.0 L634.0,468.0 L631.8,466.6 Z" fill="#c6ecae" stroke="#7ee04b" stroke-width="0.8" stroke-linejoin="round"/>
<path d="M636.7,466.0 L640.0,472.0 L638.0,480.0 L641.0,488.0 L644.0,480.0 L642.0,470.0 Z" fill="none" stroke="#7ee04b" stroke-width="0.7" stroke-linejoin="round"/>
<path d="M594.1,491.5 L595.7,493.6 L588.5,493.4 L583.2,493.1 L580.4,491.5 L581.7,489.5 L588.5,488.4 L595.3,489.5 Z" fill="none" stroke="#7ee04b" stroke-width="0.7"/>
<path d="M619.0,548.0 L624.0,547.0 L627.5,551.0 L626.0,556.0 L622.0,560.0 L618.0,566.0 L616.0,569.0 L617.0,561.0 L616.5,554.0 Z" fill="#86dd55" stroke="#7ee04b" stroke-width="0.8" stroke-linejoin="round"/>
<path d="M670.1,561.0 L669.1,562.6 L666.3,562.2 L664.5,561.0 L665.9,559.4 L669.0,559.5 Z" fill="none" stroke="#7ee04b" stroke-width="0.7"/>
<path d="M717.2,455.4 L711.7,457.7 L709.7,459.3 L706.6,462.6 L704.7,458.7 L703.2,456.6 L699.1,453.0 L701.5,448.6 L707.1,451.3 L710.7,449.3 L713.8,451.7 Z" fill="#86e052" stroke="#7ee04b" stroke-width="0.5" opacity="0.9"/>
<path d="M713.6,469.7 L713.9,472.8 L707.5,472.0 L704.8,473.6 L700.7,473.1 L695.6,471.4 L696.3,468.1 L699.8,465.7 L704.3,464.2 L707.6,467.2 L713.9,466.6 Z" fill="#86e052" stroke="#7ee04b" stroke-width="0.5" opacity="0.9"/>
<path d="M710.5,488.7 L709.5,493.4 L707.2,497.3 L703.7,498.1 L700.0,496.6 L700.8,490.4 L700.4,486.9 L702.1,484.4 L703.9,481.1 L706.2,483.5 L708.4,485.1 Z" fill="#a6d98a" stroke="#7ee04b" stroke-width="0.5" opacity="0.9"/>
<path d="M694.2,513.5 L692.2,517.5 L688.3,518.3 L684.8,522.4 L679.7,521.0 L678.7,515.7 L677.4,510.9 L681.5,508.1 L685.2,506.8 L689.2,506.6 L691.5,510.0 Z" fill="#78e040" stroke="#7ee04b" stroke-width="0.5" opacity="0.9"/>
<path d="M704.6,516.0 L702.4,521.4 L701.4,528.1 L699.2,521.6 L697.3,523.1 L695.4,519.4 L697.2,514.1 L697.6,509.7 L699.1,507.2 L701.4,504.1 L703.3,509.0 Z" fill="#96e670" stroke="#7ee04b" stroke-width="0.5" opacity="0.9"/>
<path d="M716.0,429.5 L717.3,431.3 L715.8,432.4 L714.2,431.7 L712.9,431.3 L711.6,430.4 L713.1,429.1 L713.3,428.1 L714.3,427.9 L715.9,426.4 L717.0,427.9 Z" fill="#96e670" stroke="#7ee04b" stroke-width="0.5" opacity="0.9"/>
<path d="M450.7,568.0 L456.0,565.8 L461.0,570.0 L459.0,578.0 L463.0,586.0 L468.0,592.0 L472.6,600.0 L470.0,608.0 L464.0,613.0 L458.0,607.0 L456.0,598.0 L452.0,590.0 L454.0,580.0 Z" fill="none" stroke="#7ee04b" stroke-width="0.8" stroke-linejoin="round"/>
<path d="M459.0,595.0 L464.0,598.0 L466.0,604.0 L462.0,606.0 L458.0,602.0 Z" fill="#a5e07f" stroke="#7ee04b" stroke-width="0.6" stroke-linejoin="round"/>
<path d="M490.5,576.0 L488.9,578.4 L484.7,579.9 L481.7,577.4 L480.6,574.2 L484.6,571.9 L489.8,572.8 Z" fill="none" stroke="#7ee04b" stroke-width="0.7"/>
<path d="M519.7,589.5 L518.1,591.5 L515.8,592.6 L513.8,590.8 L513.6,588.1 L515.6,585.7 L518.3,587.3 Z" fill="none" stroke="#7ee04b" stroke-width="0.7"/>
<path d="M462.8,542.0 L461.3,547.2 L457.0,548.3 L454.1,545.5 L450.9,542.0 L452.6,536.7 L457.0,536.4 L461.4,536.8 Z" fill="none" stroke="#7ee04b" stroke-width="0.7"/>
<path d="M454.9,522.0 L453.3,524.9 L449.9,526.8 L447.4,523.7 L448.3,520.7 L449.9,517.1 L453.6,518.8 Z" fill="none" stroke="#7ee04b" stroke-width="0.6"/>
<path d="M552.0,568.0 L558.0,565.8 L565.0,568.0 L572.3,574.0 L570.0,581.0 L563.0,582.7 L558.0,578.0 L553.0,575.0 Z" fill="none" stroke="#7ee04b" stroke-width="0.8" stroke-linejoin="round"/>
<path d="M565.4,574.0 L565.1,577.9 L561.0,578.4 L558.2,575.9 L558.2,572.2 L560.9,569.2 L564.7,570.7 Z" fill="none" stroke="#7ee04b" stroke-width="0.6"/>
<path d="M596.0,592.0 L604.0,589.5 L612.0,592.0 L620.0,590.0 L628.0,593.0 L636.5,596.0 L634.0,603.0 L628.0,607.0 L622.0,604.0 L616.0,609.0 L610.0,613.0 L604.0,608.0 L600.0,600.0 Z" fill="none" stroke="#7ee04b" stroke-width="0.8" stroke-linejoin="round"/>
<path d="M604.0,596.0 L612.0,598.0 L620.0,596.0 L628.0,600.0" fill="none" stroke="#7ee04b" stroke-width="0.8" stroke-linejoin="round"/>
<path d="M606.0,603.0 L614.0,603.0 L622.0,600.0" fill="none" stroke="#7ee04b" stroke-width="0.8" stroke-linejoin="round"/>
<path d="M545.0,606.0 L549.0,608.0 L552.0,615.0 L555.4,623.0 L551.0,621.0 L547.0,614.0 Z" fill="none" stroke="#7ee04b" stroke-width="0.8" stroke-linejoin="round"/>
<path d="M589.0,620.0 L594.0,616.0 L600.0,614.0 L606.0,617.0 L611.0,622.0 L609.0,629.0 L604.0,634.0 L597.0,632.0 L592.0,627.0 Z" fill="#b9cbb5" stroke="#7ee04b" stroke-width="0.8" stroke-linejoin="round"/>
<path d="M630.2,630.1 L628.6,631.9 L626.0,632.7 L625.7,630.1 L626.2,627.8 L628.7,628.1 Z" fill="#a5e07f" stroke="#7ee04b" stroke-width="0.75"/>
<path d="M685.6,589.2 L684.5,592.5 L680.4,592.3 L679.5,589.2 L680.1,585.9 L683.8,587.0 Z" fill="none" stroke="#7ee04b" stroke-width="0.7"/>
<path d="M550.5,670.0 L556.0,668.0 L560.0,672.0 L564.0,669.0 L571.0,672.0 L568.0,680.0 L562.0,685.0 L557.0,680.0 L552.0,678.0 Z" fill="none" stroke="#7ee04b" stroke-width="0.8" stroke-linejoin="round"/>
<path d="M553.0,672.0 L555.0,680.0 L553.0,688.0" fill="none" stroke="#7ee04b" stroke-width="1.2" stroke-linejoin="round"/>
<path d="M496.6,680.0 L504.0,676.0 L512.0,678.0 L518.5,684.0 L514.0,691.0 L505.0,690.0 L498.0,687.0 Z" fill="none" stroke="#7ee04b" stroke-width="0.8" stroke-linejoin="round"/>
<path d="M509.1,683.5 L508.5,687.3 L504.1,686.4 L502.4,683.5 L503.4,679.6 L507.7,680.9 Z" fill="none" stroke="#7ee04b" stroke-width="0.5"/>
<path d="M512.0,700.0 L520.0,696.0 L530.0,693.5 L543.0,692.0 L553.0,690.0 L562.0,687.0 L566.0,686.0 L563.0,690.0 L554.0,693.5 L544.0,695.5 L533.0,697.0 L524.0,700.0 L516.0,703.5 Z" fill="#b5ec98" stroke="#7ee04b" stroke-width="0.9" stroke-linejoin="round"/>
<path d="M521.0,686.5 L518.2,691.9 L515.0,696.6 L511.4,692.7 L509.4,686.5 L511.4,680.3 L515.0,679.2 L518.0,681.4 Z" fill="none" stroke="#7ee04b" stroke-width="0.7"/>
<path d="M468.4,692.8 L463.7,694.5 L458.5,696.1 L451.6,695.1 L446.8,692.8 L453.6,691.1 L458.5,688.9 L464.5,690.7 Z" fill="#d5efc4" stroke="#7ee04b" stroke-width="0.7"/>
<path d="M421.9,685.2 L422.4,687.4 L413.8,687.3 L407.1,686.9 L406.0,685.2 L407.7,683.7 L413.8,682.7 L422.9,683.0 Z" fill="#c5ecae" stroke="#7ee04b" stroke-width="0.6"/>
<path d="M373.9,676.0 L373.3,679.8 L370.5,679.0 L369.1,677.2 L368.4,674.3 L370.3,672.0 L373.2,672.3 Z" fill="none" stroke="#7ee04b" stroke-width="0.7"/>
</g>
<!--/ASPLINES-->
<!--ASPFILL-->
<g stroke-linejoin="round">
<!-- pale wedge next to Gran Chaco -->
<path d="M82,151 L82,196 L96,194 L110,189 L108,166 Z" fill="#d9e6c9" opacity="0.85"/>
<path d="M406,92 L412,75 L417,66 L420,70 L414,84 L436,104 L424,112 L409,126 Z" fill="#d5ecc4"/>
<!-- Gran Chaco -->
<path d="M81.7,150.8 L123.2,78.8 L161,71.5 L225,60 L263,52 L336,52 L406,92.3 L407.5,108 L408.4,126 L368,106.6 L311,106.6 L272,172.9 L189.5,153.4 L141.4,200 L131,204 L108.5,166 Z" fill="#2d5a00" stroke="#7fd957" stroke-width="0.9"/>
<!-- internal lines of Gran Chaco -->
<g fill="none" stroke="#6fdc45" stroke-width="0.7">
<path d="M122,85 L141.5,85 L144,102 L166,99.5 L166,92 L160,92 L161,72"/>
<path d="M111,111 L120,114.5 L176,114.5 L178,107 L196,97 L204,107 L270,107 L311,107"/>
<path d="M176,114.5 L182,106.5 L179,112 L195,127.5 L250,153 L262,158 L270,157"/>
<path d="M195,127.5 L150,149 L109,165"/>
<path d="M116.5,166 L132.5,157 L139.5,168.5 L122.5,177 Z"/>
<path d="M122,190 L132,185 L141,200"/>
<path d="M295.5,52.5 L295.5,64 L308,65.5 L308,63 L320,63 L320,61 L335,61 L342,58 L342,55.5"/>
<path d="M296,107 L296,131 L281,131 L281,141 L272,158"/>
<path d="M371,74 L372,84 L378,85 L378,101 L371,101 L371,108 L377,108 L377,100 L385,100 L392,98 L405,98"/>
<path d="M365,93.5 L368,97 L372,97 L372,92 L377,92 L377,99"/>
<path d="M378,111 L400,113 L408,114"/>
<path d="M395,117 L401,117 L401,120 L408,121"/>
<path d="M403,92 L407,95 L405,100 L408,104"/>
</g>
<!-- Cerrado del Río Apa -->
<path d="M473.8,288 L477.5,285.4 L483.7,284.4 L499.3,285.4 L506.6,288 L510.7,291 L514.9,290.6 L517,287 L526.3,285.4 L529.4,288 L536.7,291 L541.9,291 L539.3,295.3 L537.7,301 L534,306 L537.7,311.4 L531.5,313 L523.2,308.8 L512.8,304.6 L509.7,297.3 L505,296.8 L500.3,304 L493.6,305.6 L492,310.8 L487.3,314 L476.4,315 L475.4,309.3 L477,300 L476.4,291.6 Z" fill="#fb8b0c" stroke="#c6de3c" stroke-width="0.7"/>
<!-- Mbaracayú -->
<path d="M655,436 L668,437 L670,452 L664,462 L655,460 Z" fill="#d3ecc0"/>
<path d="M599.7,437 L602,433.3 L617,430.8 L620.7,426 L626.9,423.4 L633,426 L635.5,430.8 L644,433.3 L656.5,437 L661.4,435.8 L661.4,440.7 L657.7,442 L656.5,455.5 L661.4,458 L660,464 L651.5,465.4 L647.8,463 L639.2,466.6 L631.8,466.6 L626.9,460.4 L619.5,458 L614.5,453 L604.7,453 L599.7,449.3 Z" fill="#4bbe10" stroke="#4bbe10" stroke-width="0.8"/>
<!-- Lago Ypacaraí -->
<path d="M465.2,515 L468.3,515 L473.8,521 L480,530.5 L483.9,536 L481.5,538.3 L474.5,535 L469.9,532 L468.3,525 L466.8,519.6 Z" fill="#f5c21a" stroke="#d8e04a" stroke-width="0.6"/>
</g>
<!--DOTS-->
<g fill="#e3120b">
<circle cx="257.4" cy="64.4" r="2.8"/>
<circle cx="487" cy="295.5" r="3.1"/>
<circle cx="620" cy="440" r="3"/>
<circle cx="628.2" cy="446.8" r="3"/>
<circle cx="635.8" cy="454.6" r="3"/>
<circle cx="650.3" cy="460" r="3"/>
<circle cx="482.3" cy="538.2" r="2.9"/>
</g>
<!--LABELS-->
<g>
<style>.st{font-style:italic;fill:#8d7ca6;text-anchor:middle;paint-order:stroke;stroke:#f6f4ee;stroke-width:1.4px;stroke-linejoin:round}.ct{fill:#4a4a4a;text-anchor:middle;paint-order:stroke;stroke:#f6f4ee;stroke-width:1.6px;stroke-linejoin:round}.co{fill:#7b6a8e;text-anchor:middle;paint-order:stroke;stroke:#f6f4ee;stroke-width:1.6px;stroke-linejoin:round}</style>
<text class="st" x="353" y="178.9" font-size="10" textLength="60.8" lengthAdjust="spacingAndGlyphs">Alto Paraguay</text>
<text class="st" x="161.8" y="270" font-size="10" textLength="41.4" lengthAdjust="spacingAndGlyphs">Boquerón</text>
<text class="co" x="385" y="379.9" font-size="11.6" textLength="60.8" lengthAdjust="spacingAndGlyphs">Paraguay /</text>
<text class="co" x="384.3" y="393.4" font-size="11.6" textLength="49" lengthAdjust="spacingAndGlyphs">Paraguái</text>
<text class="st" x="479" y="333.6" font-size="10" textLength="47.5" lengthAdjust="spacingAndGlyphs">Concepción</text>
<text class="st" x="587.7" y="346.8" font-size="10" textLength="44" lengthAdjust="spacingAndGlyphs">Amambay</text>
<text class="st" x="523.3" y="442.5" font-size="10" textLength="42.6" lengthAdjust="spacingAndGlyphs">San Pedro</text>
<text class="st" x="594" y="516" font-size="10" textLength="42" lengthAdjust="spacingAndGlyphs">Caaguazú</text>
<text class="st" x="505" y="529.7" font-size="10" textLength="41.2" lengthAdjust="spacingAndGlyphs">Cordillera</text>
<text class="st" x="554.6" y="578.6" font-size="10" textLength="29" lengthAdjust="spacingAndGlyphs">Guairá</text>
<text class="st" x="495.8" y="589.5" font-size="10" textLength="41.5" lengthAdjust="spacingAndGlyphs">Paraguarí</text>
<text class="st" x="584" y="601" font-size="10" textLength="36" lengthAdjust="spacingAndGlyphs">Caazapá</text>
<text class="st" x="425" y="637" font-size="10" textLength="43.3" lengthAdjust="spacingAndGlyphs">Ñeembucú</text>
<text class="st" x="494.4" y="664" font-size="10" textLength="36.4" lengthAdjust="spacingAndGlyphs">Misiones</text>
<text class="st" x="589" y="656.7" font-size="10" textLength="28" lengthAdjust="spacingAndGlyphs">Itapúa</text>
<text class="st" x="708" y="654.6" font-size="10" textLength="36" lengthAdjust="spacingAndGlyphs">Misiones</text>
<text class="st" x="679" y="538" font-size="10" textLength="49" lengthAdjust="spacingAndGlyphs">Alto Paraná</text>
<text class="st" x="256.7" y="483.9" font-size="10" textLength="37" lengthAdjust="spacingAndGlyphs">Formosa</text>
<text class="st" x="206.6" y="595.7" font-size="10" textLength="26.5" lengthAdjust="spacingAndGlyphs">Chaco</text>
<text class="ct" x="601" y="298" font-size="9.3" textLength="25" lengthAdjust="spacingAndGlyphs">Pedro</text>
<text class="ct" x="600" y="308" font-size="9.3" textLength="60" lengthAdjust="spacingAndGlyphs">Juan Caballero</text>
<circle cx="591" cy="302.5" r="1.3" fill="#f1efe8" stroke="#666" stroke-width="0.6"/>
<text class="ct" x="674.7" y="293.7" font-size="9.3" textLength="40.2" lengthAdjust="spacingAndGlyphs">Dourados</text>
<circle cx="674.5" cy="284.6" r="1.3" fill="#f1efe8" stroke="#666" stroke-width="0.6"/>
<text class="ct" x="690.4" y="156" font-size="10.6" textLength="73.4" lengthAdjust="spacingAndGlyphs">Campo Grande</text>
<circle cx="690.7" cy="145" r="1.6" fill="#f1efe8" stroke="#666" stroke-width="0.6"/>
<text class="ct" x="446.8" y="521.9" font-size="10.6" textLength="38.2" lengthAdjust="spacingAndGlyphs">Asunción</text>
<path d="M453,529 L455,525.5 L458.5,525 L458,528.5 L455.5,532 L453.5,532 Z" fill="#e3c3ab" stroke="#b08a78" stroke-width="0.4"/>
<circle cx="449.5" cy="528.3" r="1.6" fill="#f1efe8" stroke="#666" stroke-width="0.6"/>
<text class="ct" x="464.7" y="543" font-size="9.3" textLength="29.4" lengthAdjust="spacingAndGlyphs">Capiatá</text>
<text class="ct" x="545" y="550" font-size="9.3" textLength="30.5" lengthAdjust="spacingAndGlyphs">Coronel</text>
<text class="ct" x="545" y="559.7" font-size="9.3" textLength="28" lengthAdjust="spacingAndGlyphs">Oviedo</text>
<circle cx="545" cy="552.5" r="1.3" fill="#f1efe8" stroke="#666" stroke-width="0.6"/>
<text class="ct" x="602.7" y="545.5" font-size="9.3" textLength="40.6" lengthAdjust="spacingAndGlyphs">Caaguazú</text>
<circle cx="578.4" cy="542.8" r="1.3" fill="#f1efe8" stroke="#666" stroke-width="0.6"/>
<text class="ct" x="407" y="596" font-size="10.4" textLength="42.2" lengthAdjust="spacingAndGlyphs">Formosa</text>
<circle cx="407" cy="600" r="1.5" fill="#f1efe8" stroke="#666" stroke-width="0.6"/>
<text class="ct" x="588.3" y="689.5" font-size="10.4" textLength="39.5" lengthAdjust="spacingAndGlyphs">Posadas</text>
<circle cx="590" cy="693" r="1.3" fill="#f1efe8" stroke="#666" stroke-width="0.6"/>
<text class="ct" x="693" y="558" font-size="9.3" textLength="27" lengthAdjust="spacingAndGlyphs">Foz do</text>
<text class="ct" x="693" y="567.3" font-size="9.3" textLength="27" lengthAdjust="spacingAndGlyphs">Iguaçu</text>
<circle cx="692.5" cy="560.5" r="1.3" fill="#f1efe8" stroke="#666" stroke-width="0.6"/>
<text class="ct" x="226" y="617.5" font-size="9" textLength="46.6" lengthAdjust="spacingAndGlyphs">Presidencia</text>
<text class="ct" x="226" y="627" font-size="9" textLength="25" lengthAdjust="spacingAndGlyphs">Roque</text>
<text class="ct" x="226" y="636" font-size="9" textLength="24" lengthAdjust="spacingAndGlyphs">Sáenz</text>
<text class="ct" x="226" y="645" font-size="9" textLength="19" lengthAdjust="spacingAndGlyphs">Peña</text>
<circle cx="226.5" cy="647.5" r="1.3" fill="#f1efe8" stroke="#666" stroke-width="0.6"/>
<text class="ct" x="342" y="696.8" font-size="10.4" textLength="54" lengthAdjust="spacingAndGlyphs">Resistencia</text>
<circle cx="342" cy="701" r="1.5" fill="#f1efe8" stroke="#666" stroke-width="0.6"/>
<text class="ct" x="747.3" y="480" font-size="9.3" style="text-anchor:start">Toledo</text>
</g>
<!--/LABELS-->
<!--OVERLAYS-->
<!-- title box -->
<rect x="426.5" y="35" width="332" height="61" fill="#d2d2d2" stroke="#8c8c8c" stroke-width="1.2"/>
<g class="ser" font-weight="bold" fill="#000" text-anchor="middle">
<text class="ser halo" x="589.5" y="57.3" font-size="13.5" textLength="232" lengthAdjust="spacingAndGlyphs">MAPA DE FOCOS DE CALOR</text>
<text class="ser halo" x="591.5" y="75" font-size="13.5" textLength="312" lengthAdjust="spacingAndGlyphs">EN ÁREAS SILVESTRES PROTEGIDAS</text>
<text class="ser halo" x="606" y="112.8" font-size="10.4" textLength="114" lengthAdjust="spacingAndGlyphs">Fecha: 16-10-2023</text>
<text class="ser halo" x="606.5" y="131" font-size="10.4" textLength="229" lengthAdjust="spacingAndGlyphs">Franja horaria matutina (00:00 a 7:00)</text>
<text class="ser" stroke="#000" stroke-width="0.35" x="589.5" y="57.3" font-size="13.5" textLength="232" lengthAdjust="spacingAndGlyphs">MAPA DE FOCOS DE CALOR</text>
<text class="ser" stroke="#000" stroke-width="0.35" x="591.5" y="75" font-size="13.5" textLength="312" lengthAdjust="spacingAndGlyphs">EN ÁREAS SILVESTRES PROTEGIDAS</text>
<text class="ser" stroke="#000" stroke-width="0.12" x="606" y="112.8" font-size="10.4" textLength="114" lengthAdjust="spacingAndGlyphs">Fecha: 16-10-2023</text>
<text class="ser" stroke="#000" stroke-width="0.12" x="606.5" y="131" font-size="10.4" textLength="229" lengthAdjust="spacingAndGlyphs">Franja horaria matutina (00:00 a 7:00)</text>
</g>
<!-- compass -->
<g>
<g stroke="#555" stroke-width="0.5" stroke-linejoin="round">
<path d="M60,67 L56.0,81.4 L60,85.4 Z" fill="#fff"/>
<path d="M60,67 L64.0,81.4 L60,85.4 Z" fill="#555"/>
<path d="M79.5,85.4 L64.0,81.4 L60,85.4 Z" fill="#fff"/>
<path d="M79.5,85.4 L64.0,89.4 L60,85.4 Z" fill="#555"/>
<path d="M60,104 L64.0,89.4 L60,85.4 Z" fill="#fff"/>
<path d="M60,104 L56.0,89.4 L60,85.4 Z" fill="#555"/>
<path d="M40.8,85.4 L56.0,89.4 L60,85.4 Z" fill="#fff"/>
<path d="M40.8,85.4 L56.0,81.4 L60,85.4 Z" fill="#555"/>
</g>
<g class="ser" font-weight="bold" font-size="11.5" fill="#4d4d4d" text-anchor="middle">
<text class="ser" x="60" y="63.3">N</text>
<text class="ser" x="60" y="117.3">S</text>
<text class="ser" x="32.8" y="89.6">W</text>
<text class="ser" x="86.2" y="89.6">E</text>
</g>
</g>
<!-- legend -->
<g>
<rect x="29.5" y="470.5" width="154" height="142" fill="#fff" stroke="#4a4a4a" stroke-width="0.85"/>
<text class="ser" x="41.6" y="490.4" font-size="8.6" font-weight="bold" fill="#000" textLength="67" lengthAdjust="spacingAndGlyphs">REFERENCIAS</text>
<circle cx="50.6" cy="501.6" r="2.6" fill="#e3120b"/>
<rect x="41.6" y="509.3" width="17.6" height="8.8" fill="#fff" stroke="#a9e08a" stroke-width="0.8"/>
<text x="41.6" y="528.6" font-size="8" font-weight="bold" fill="#000" textLength="34.5" lengthAdjust="spacingAndGlyphs">NOMBRE</text>
<g font-size="6.4" fill="#222">
<text x="62.9" y="503.8" textLength="72" lengthAdjust="spacingAndGlyphs">Focos de calor 16/10/2023</text>
<text x="62.9" y="516.2" textLength="75" lengthAdjust="spacingAndGlyphs">Áreas Silvestres Protegidas</text>
<text x="62.9" y="539.8" textLength="108" lengthAdjust="spacingAndGlyphs">Reserva Natural del Bosque Mbaracayú</text>
<text x="62.9" y="551.7" textLength="31" lengthAdjust="spacingAndGlyphs">Paso Bravo</text>
<text x="62.9" y="563.5" textLength="30" lengthAdjust="spacingAndGlyphs">Mbaracayú</text>
<text x="62.9" y="575.3" textLength="39" lengthAdjust="spacingAndGlyphs">Lago Ypacarai</text>
<text x="62.9" y="587.1" textLength="32.5" lengthAdjust="spacingAndGlyphs">Gran Chaco</text>
<text x="62.9" y="598.9" textLength="55" lengthAdjust="spacingAndGlyphs">Cerrado del Río Apa</text>
</g>
<rect x="41.6" y="533.8" width="17.6" height="8.4" fill="#a56d0f"/>
<rect x="41.6" y="545.6" width="17.6" height="8.4" fill="#bff6fb"/>
<rect x="41.6" y="557.4" width="17.6" height="8.4" fill="#4bbe10"/>
<rect x="41.6" y="569.2" width="17.6" height="8.4" fill="#f5c40c"/>
<rect x="41.6" y="581" width="17.6" height="8.4" fill="#2d5a00"/>
<rect x="41.6" y="592.8" width="17.6" height="8.4" fill="#fb8b0c"/>
</g>
<!-- source texts -->
<g font-weight="bold" fill="#7a7a7a" stroke="#c9c9c0" stroke-width="0.5" paint-order="stroke">
<text x="35.5" y="633" font-size="12.6" textLength="155" lengthAdjust="spacingAndGlyphs">Fuente: Earth Data,2023</text>
<text x="90.6" y="649" font-size="12.6" textLength="83" lengthAdjust="spacingAndGlyphs">DGEEC, 2012</text>
<text x="90.6" y="666" font-size="12.6" textLength="80.5" lengthAdjust="spacingAndGlyphs">MADES,2022</text>
<text x="35.5" y="682.8" font-size="12.6" textLength="103" lengthAdjust="spacingAndGlyphs">DATUM: WGS 84</text>
<text x="33.2" y="703.6" font-size="13.4" textLength="83" lengthAdjust="spacingAndGlyphs">1:4.981.153</text>
<text x="574" y="711" font-size="12.6" textLength="181" lengthAdjust="spacingAndGlyphs">Satélite /Sensor: VIIRS 375 M</text>
<text x="680" y="727.2" font-size="12.6" textLength="58.5" lengthAdjust="spacingAndGlyphs">NOAA -20</text>
</g>
<!-- scale bar -->
<g>
<rect x="35.5" y="731.4" width="286" height="7.4" fill="#ececec" stroke="#9a9a9a" stroke-width="0.7"/>
<rect x="35.5" y="731.4" width="17.6" height="7.4" fill="#a9a9a9"/>
<rect x="70.8" y="731.4" width="19" height="7.4" fill="#a9a9a9"/>
<rect x="107" y="731.4" width="72" height="7.4" fill="#a9a9a9"/>
<rect x="249.6" y="731.4" width="71.9" height="7.4" fill="#a9a9a9"/>
<g font-size="12.4" fill="#757575" text-anchor="middle" stroke="#e4e4dc" stroke-width="0.4" paint-order="stroke">
<text x="35.5" y="724.8">0</text>
<text x="70.8" y="724.8">50</text>
<text x="107" y="724.8">100</text>
<text x="178.5" y="724.8">200</text>
<text x="250" y="724.8">300</text>
<text x="321.5" y="724.8">400</text>
<text x="335.3" y="738.4" font-size="14">Km</text>
</g>
</g>
<text x="540.5" y="746.5" font-size="10.6" fill="#333" textLength="216" lengthAdjust="spacingAndGlyphs">© OpenStreetMap (and) contributors, CC-BY-SA</text>
</g>
<!-- FRAME -->
<rect x="7.5" y="22.5" width="757" height="948" fill="none" stroke="#111" stroke-width="1.3"/>
<line x1="7" y1="27" x2="765" y2="27" stroke="#111" stroke-width="1.2"/>
<line x1="7" y1="753" x2="765" y2="753" stroke="#111" stroke-width="1"/>
<rect x="8" y="753.5" width="756.5" height="4.6" fill="#f2100c"/>
<rect x="8" y="762" width="756.5" height="4.6" fill="#0a3aa8"/>
<!--PANEL-->
<defs>
<linearGradient id="pg0" x1="0" y1="0" x2="1" y2="1"><stop offset="0" stop-color="#f0894a"/><stop offset="1" stop-color="#ec7a28"/></linearGradient>
<linearGradient id="pg1" x1="0" y1="0" x2="1" y2="0"><stop offset="0" stop-color="#fdc83a"/><stop offset="1" stop-color="#fcc014"/></linearGradient>
<linearGradient id="pg2" x1="0" y1="0" x2="1" y2="1"><stop offset="0" stop-color="#7bb553"/><stop offset="1" stop-color="#6cac40"/></linearGradient>
<linearGradient id="pg3" x1="0" y1="0" x2="1" y2="1"><stop offset="0" stop-color="#bb6c44"/><stop offset="0.6" stop-color="#a64a10"/><stop offset="1" stop-color="#a04508"/></linearGradient>
<linearGradient id="pg4" x1="0" y1="0" x2="1" y2="1"><stop offset="0" stop-color="#a98b3a"/><stop offset="1" stop-color="#957000"/></linearGradient>
<linearGradient id="pg5" x1="0" y1="0" x2="0" y2="1"><stop offset="0" stop-color="#4d7335"/><stop offset="1" stop-color="#3f6228"/></linearGradient>
</defs>
<rect x="88.3" y="767.5" width="195" height="196" fill="#fff" stroke="#e9e9e9" stroke-width="0.8"/>
<path d="M185.7,866.3 L185.70,791.70 A74.6,74.6 0 0 1 248.69,826.33 Z" fill="url(#pg0)" stroke="url(#pg0)" stroke-width="0.4"/>
<path d="M185.7,866.3 L248.69,826.33 A74.6,74.6 0 0 1 256.65,843.25 Z" fill="url(#pg1)" stroke="url(#pg1)" stroke-width="0.4"/>
<path d="M185.7,866.3 L256.65,843.25 A74.6,74.6 0 0 1 118.20,898.06 Z" fill="url(#pg2)" stroke="url(#pg2)" stroke-width="0.4"/>
<path d="M185.7,866.3 L118.20,898.06 A74.6,74.6 0 0 1 122.71,826.33 Z" fill="url(#pg3)" stroke="url(#pg3)" stroke-width="0.4"/>
<path d="M185.7,866.3 L122.71,826.33 A74.6,74.6 0 0 1 167.15,794.04 Z" fill="url(#pg4)" stroke="url(#pg4)" stroke-width="0.4"/>
<path d="M185.7,866.3 L167.15,794.04 A74.6,74.6 0 0 1 185.70,791.70 Z" fill="url(#pg5)" stroke="url(#pg5)" stroke-width="0.4"/>
<text x="204.9" y="776.6" font-size="4.9" font-weight="bold" fill="#686868" textLength="60" lengthAdjust="spacingAndGlyphs">Distribución de focos de calor</text>
<g font-size="2.6" fill="#666" text-anchor="middle">
<text x="169.5" y="781.6">Reservas de la Biosfera del</text><text x="169.5" y="785">Chaco</text><text x="169.5" y="788.4">4%</text>
<text x="122.5" y="795.6">Reserva Natural del Bosque</text><text x="122.5" y="799">Mbaracayú</text><text x="122.5" y="802.4">12%</text>
<text x="236" y="794">Cerrado del Río Apa</text><text x="236" y="797.4">16%</text>
<text x="266" y="831">Lago Ypacarai</text><text x="266" y="834.4">4%</text>
<text x="99.5" y="861.4">Paso Bravo</text><text x="99.5" y="864.8">16%</text>
<text x="222.5" y="943">Mbaracayú</text><text x="222.5" y="946.4">48%</text>
</g>
<g font-size="2.5" fill="#777">
<rect x="100.6" y="958.2" width="1.4" height="1.4" fill="#ee8033"/><text x="102.8" y="959.8">Cerrado del Río Apa</text>
<rect x="129.6" y="958.2" width="1.4" height="1.4" fill="#fdc31d"/><text x="131.8" y="959.8">Lago Ypacarai</text>
<rect x="149" y="958.2" width="1.4" height="1.4" fill="#71b046"/><text x="151.2" y="959.8">Mbaracayú</text>
<rect x="166" y="958.2" width="1.4" height="1.4" fill="#a54c12"/><text x="168.2" y="959.8">Paso Bravo</text>
<rect x="183.4" y="958.2" width="1.4" height="1.4" fill="#9a7710"/><text x="185.6" y="959.8">Reserva Natural del Bosque Mbaracayú</text>
<rect x="232" y="958.2" width="1.4" height="1.4" fill="#44692d"/><text x="234.2" y="959.8">Reservas de la Biosfera del Chaco</text>
</g>
<!-- elaborado -->
<text class="ser" x="531.5" y="777.5" font-size="12.5" font-style="italic" fill="#222" textLength="228.5" lengthAdjust="spacingAndGlyphs">Elaborado por: Ing. Amb.Dahiana Acosta</text>
<!-- logo -->
<g>
<path d="M629.5,922.6 A7.6,7.6 0 0 0 629.5,937.4" fill="none" stroke="#d8232a" stroke-width="2.4"/>
<path d="M634.5,922.6 A7.6,7.6 0 0 1 634.5,937.4" fill="none" stroke="#2a4fa0" stroke-width="2.2" stroke-dasharray="2.2 0.7"/>
<path d="M632,925.6 L633.1,928.6 L636.3,928.7 L633.8,930.7 L634.7,933.8 L632,932 L629.3,933.8 L630.2,930.7 L627.7,928.7 L630.9,928.6 Z" fill="#f3c019"/>
<g fill="#2b2b2b">
<text x="644" y="921.2" font-size="2.5" font-weight="bold" textLength="22" lengthAdjust="spacingAndGlyphs">MINISTERIO DEL</text>
<text class="ser" x="644" y="927.8" font-size="6.3" textLength="40" lengthAdjust="spacingAndGlyphs">AMBIENTE Y</text>
<text class="ser" x="644" y="934" font-size="6.3" textLength="41" lengthAdjust="spacingAndGlyphs">DESARROLLO</text>
<text class="ser" x="644" y="940.3" font-size="6.3" textLength="39" lengthAdjust="spacingAndGlyphs">SOSTENIBLE</text>
<text x="644" y="944.4" font-size="2.5" font-weight="bold" textLength="16" lengthAdjust="spacingAndGlyphs">PARAGUAY</text>
<rect x="689.8" y="920" width="0.6" height="24.5" fill="#555"/>
<text x="692.7" y="921.2" font-size="2.5" font-weight="bold" textLength="16" lengthAdjust="spacingAndGlyphs">PARAGUÁI</text>
<text class="ser" x="692.7" y="927.8" font-size="6.3" textLength="39" lengthAdjust="spacingAndGlyphs">TEKOHA HA</text>
<text class="ser" x="692.7" y="934" font-size="6.3" textLength="37" lengthAdjust="spacingAndGlyphs">AKÃRAPU'Ã</text>
<text class="ser" x="692.7" y="940.3" font-size="6.3" textLength="30" lengthAdjust="spacingAndGlyphs">KATUIRÃ</text>
<text x="692.7" y="944.4" font-size="2.5" font-weight="bold" textLength="25" lengthAdjust="spacingAndGlyphs">MOTENONDEHA</text>
</g>
<text class="ser" x="635.8" y="952.4" font-size="8.8" font-weight="bold" fill="#1c1c1c" textLength="94.5" lengthAdjust="spacingAndGlyphs">Dirección de Geomática</text>
<text class="ser" x="607.7" y="959.8" font-size="8.8" font-weight="bold" fill="#1c1c1c" textLength="151" lengthAdjust="spacingAndGlyphs">Departamento de Teledetección y SIG</text>
</g>
</svg>
<table id="tbl">
<tr class="h"><td>Área Silvestre Protegida</td><td class="n">Focos</td></tr>
<tr class="r1"><td>Cerrado del Río Apa</td><td class="n">4</td></tr>
<tr><td>Lago Ypacarai</td><td class="n">1</td></tr>
<tr><td>Mbaracayú</td><td class="n">12</td></tr>
<tr><td>Paso Bravo</td><td class="n">4</td></tr>
<tr><td>Reserva Natural del Bosque Mbaracayú</td><td class="n">3</td></tr>
<tr><td>Reservas de la Biosfera del Chaco</td><td class="n">1</td></tr>
<tr class="f"><td>Total</td><td class="n">25</td></tr>
</table>
</body>
</html>
